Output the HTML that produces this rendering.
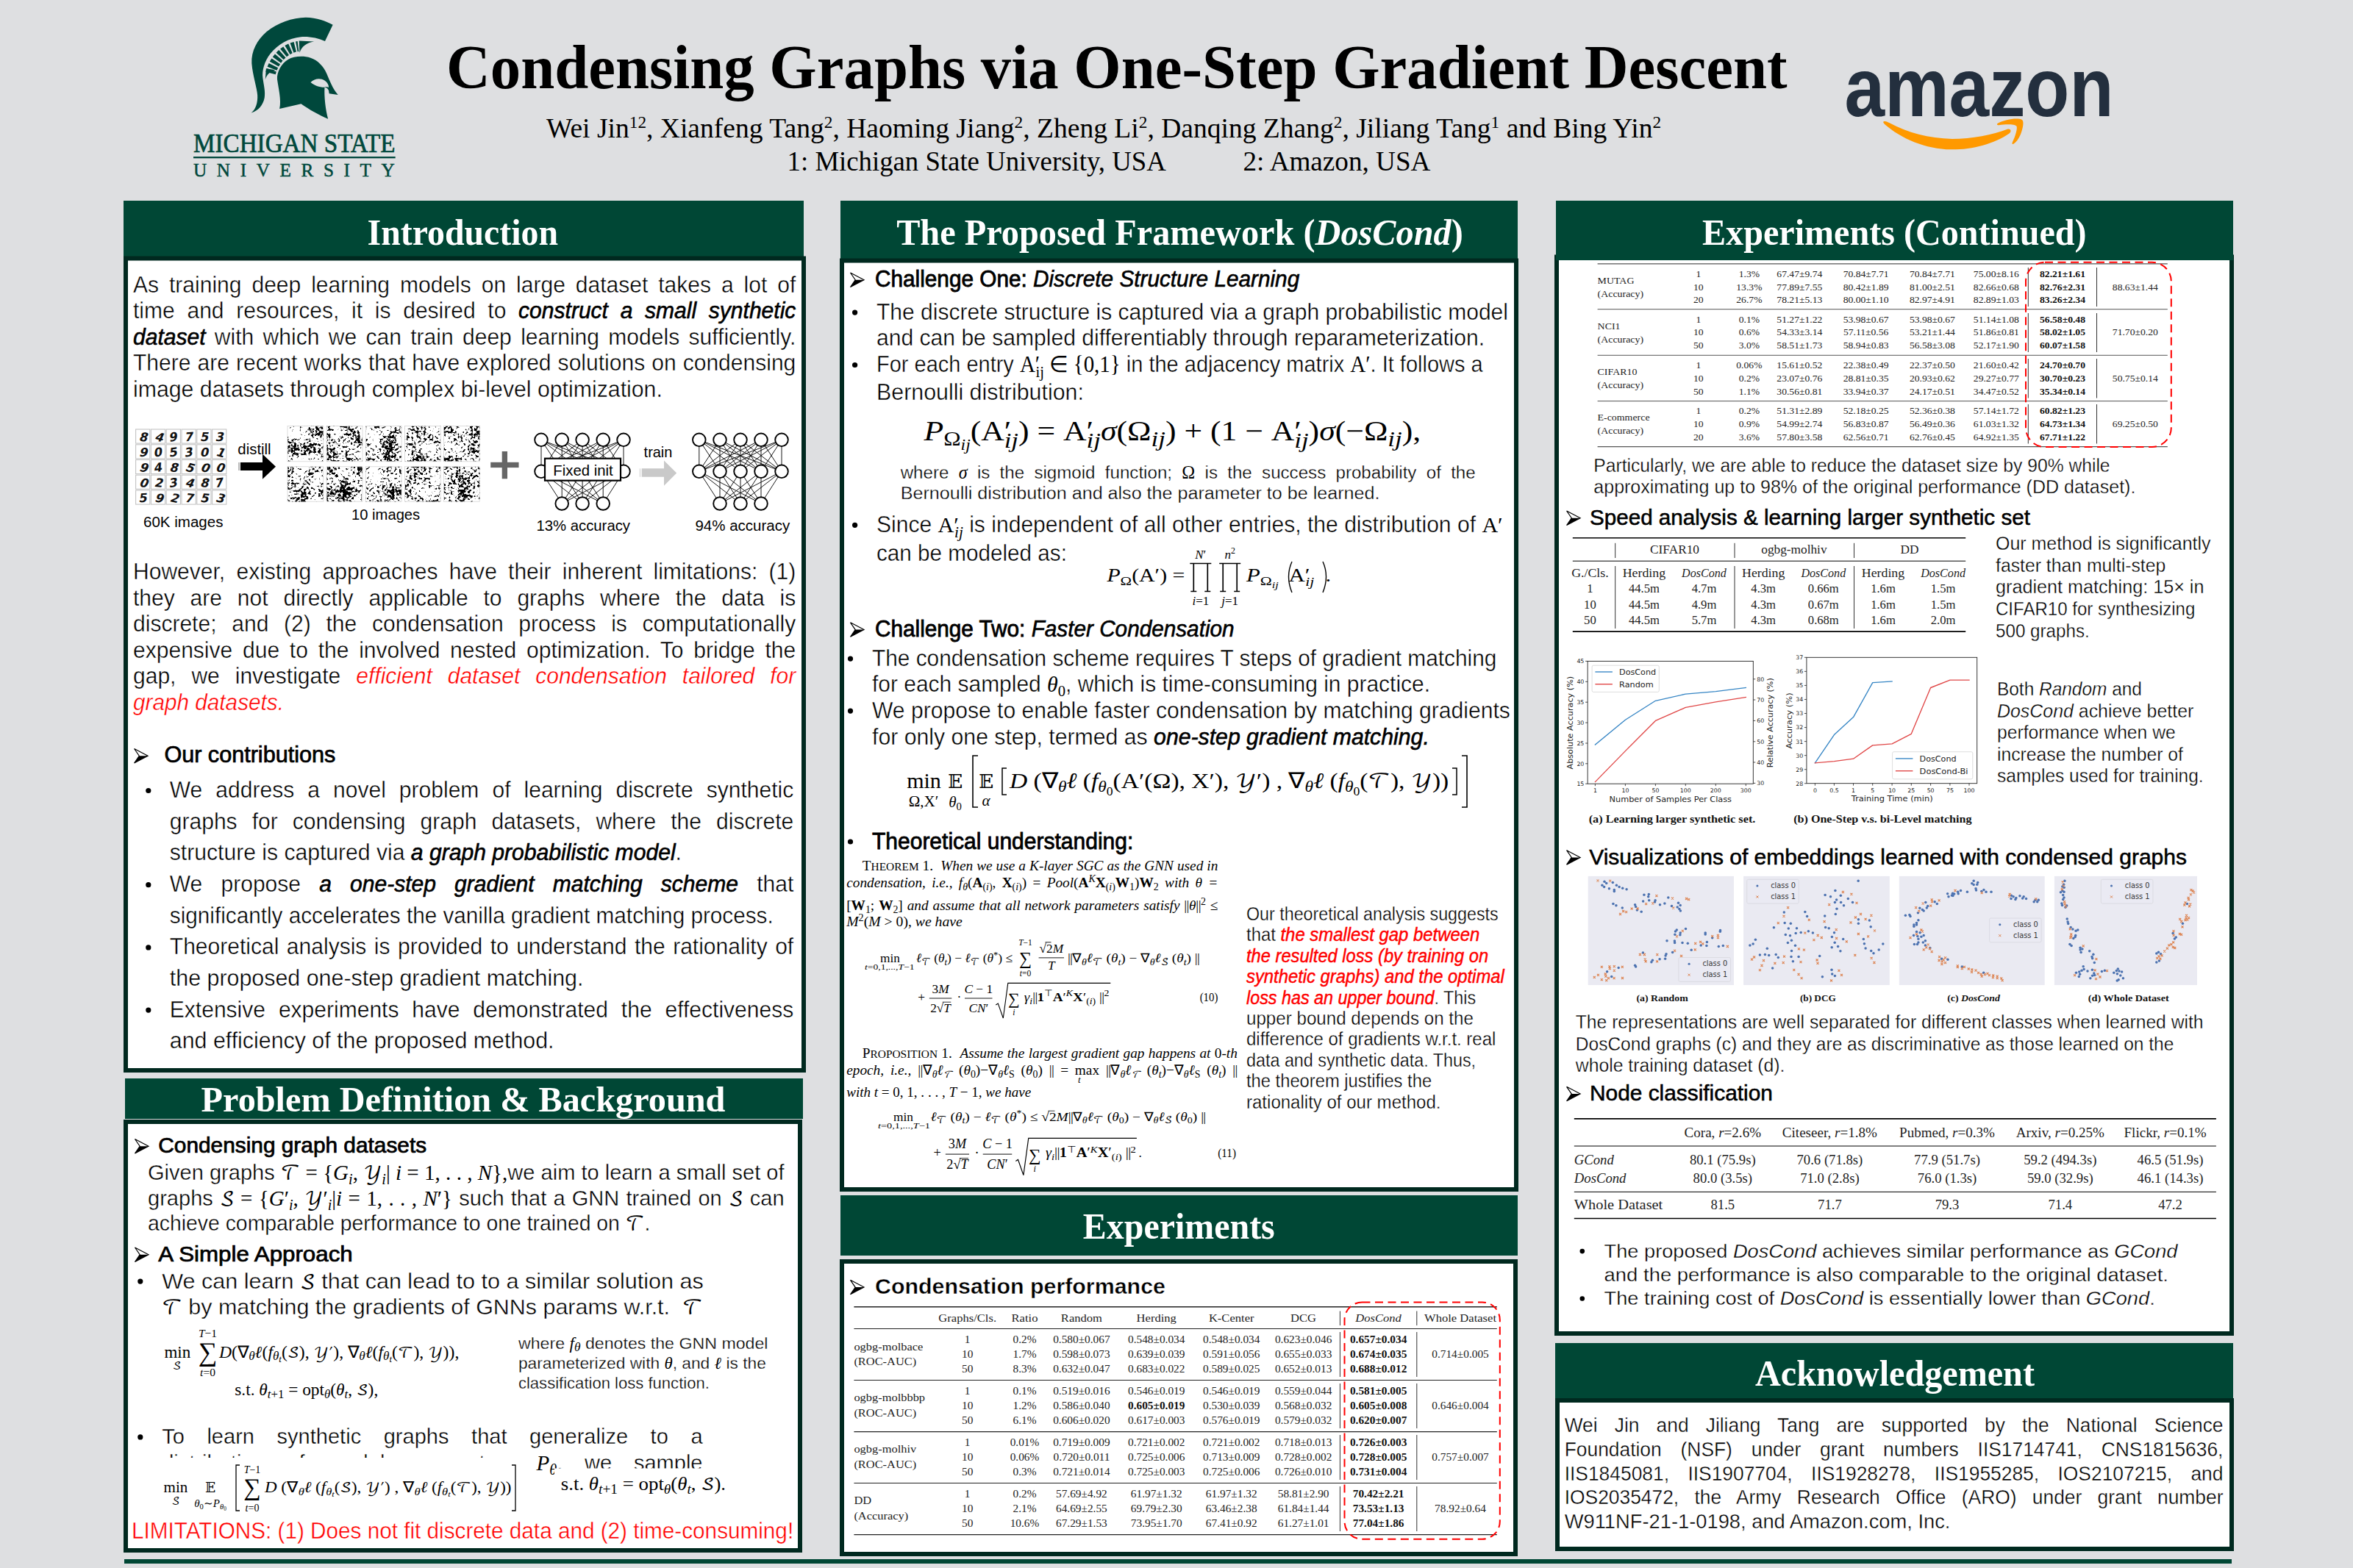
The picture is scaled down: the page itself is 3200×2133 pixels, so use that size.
<!DOCTYPE html>
<html lang="en"><head><meta charset="utf-8"><title>Condensing Graphs via One-Step Gradient Descent</title>
<style>html,body{margin:0;padding:0;background:#dedfe1}svg{display:block}text{white-space:pre}</style></head>
<body>
<svg width="3200" height="2133" viewBox="0 0 3200 2133">
<rect x="0" y="0" width="3200" height="2133" fill="#dedfe1" />
<rect x="168" y="273" width="925" height="76" fill="#004735" />
<rect x="168" y="348.5" width="928" height="1110.5" fill="#00291f" />
<rect x="174" y="354.5" width="916" height="1098.5" fill="#fff" />
<rect x="170" y="1467" width="922" height="55" fill="#004735" />
<rect x="168" y="1523" width="923" height="589" fill="#00291f" />
<rect x="174" y="1529" width="911" height="577" fill="#fff" />
<rect x="1143" y="273" width="921" height="79" fill="#004735" />
<rect x="1142" y="351.5" width="923" height="1269.5" fill="#00291f" />
<rect x="1148" y="357.5" width="911" height="1257.5" fill="#fff" />
<rect x="1143" y="1626" width="921" height="82" fill="#004735" />
<rect x="1142" y="1713" width="922" height="404" fill="#00291f" />
<rect x="1148" y="1719" width="910" height="392" fill="#fff" />
<rect x="2114" y="346.5" width="924" height="1470.5" fill="#00291f" />
<rect x="2120" y="352.5" width="912" height="1458.5" fill="#fff" />
<rect x="2116" y="273" width="921" height="81" fill="#004735" />
<rect x="2115" y="1827" width="922" height="75" fill="#004735" />
<rect x="2115" y="1902" width="923" height="208" fill="#00291f" />
<rect x="2121" y="1908" width="911" height="196" fill="#fff" />
<rect x="169" y="2121" width="2866" height="6" fill="#004735" />
<text transform="translate(607,119.5) scale(0.9684,1)" font-family="'Liberation Serif', serif" font-size="85.5" font-weight="bold" >Condensing Graphs via One-Step Gradient Descent</text>
<text transform="translate(743,187.4) scale(0.9758,1)" font-family="'Liberation Serif', serif" font-size="38.5" >Wei Jin<tspan baseline-shift="12.7" font-size="23.9">12</tspan>, Xianfeng Tang<tspan baseline-shift="12.7" font-size="23.9">2</tspan>, Haoming Jiang<tspan baseline-shift="12.7" font-size="23.9">2</tspan>, Zheng Li<tspan baseline-shift="12.7" font-size="23.9">2</tspan>, Danqing Zhang<tspan baseline-shift="12.7" font-size="23.9">2</tspan>, Jiliang Tang<tspan baseline-shift="12.7" font-size="23.9">1</tspan> and Bing Yin<tspan baseline-shift="12.7" font-size="23.9">2</tspan></text>
<text transform="translate(1070.6,231.7) scale(0.9552,1)" font-family="'Liberation Serif', serif" font-size="38.5" >1: Michigan State University, USA</text>
<text transform="translate(1690.5,231.7) scale(0.9653,1)" font-family="'Liberation Serif', serif" font-size="38.5" >2: Amazon, USA</text>
<text transform="translate(629.3,332.6) scale(0.9562,1)" font-family="'Liberation Serif', serif" font-size="50" text-anchor="middle" fill="#fff" font-weight="bold" >Introduction</text>
<text transform="translate(630,1512) scale(1.0057,1)" font-family="'Liberation Serif', serif" font-size="48" text-anchor="middle" fill="#fff" font-weight="bold" >Problem Definition &amp; Background</text>
<text transform="translate(1604.5,332.6) scale(0.9665,1)" font-family="'Liberation Serif', serif" font-size="50" text-anchor="middle" fill="#fff" font-weight="bold" >The Proposed Framework (<tspan font-style="italic">DosCond</tspan>)</text>
<text transform="translate(1603.3,1685) scale(0.9588,1)" font-family="'Liberation Serif', serif" font-size="50" text-anchor="middle" fill="#fff" font-weight="bold" >Experiments</text>
<text transform="translate(2576.3,332.6) scale(0.9625,1)" font-family="'Liberation Serif', serif" font-size="50" text-anchor="middle" fill="#fff" font-weight="bold" >Experiments (Continued)</text>
<text transform="translate(2577,1885.2) scale(0.9634,1)" font-family="'Liberation Serif', serif" font-size="50" text-anchor="middle" fill="#fff" font-weight="bold" >Acknowledgement</text>
<g transform="translate(240,0) scale(0.16584)" fill="#00483c"><path d="M613 925 C650 900 668 840 664 780 C660 720 625 620 617 520 C612 420 660 330 740 260 C830 185 950 145 1060 143 C1150 143 1230 175 1282 203 L1218 338 C1160 312 1090 298 1020 303 C920 312 830 365 770 440 C720 505 700 580 708 640 C716 700 730 750 722 800 C712 860 670 910 613 925 Z"/><path d="M772 600 C792 520 850 440 925 402 C950 390 975 383 998 380" fill="none" stroke="#00483c" stroke-width="84" stroke-dasharray="27 13"/><path d="M728 652 C740 610 770 585 812 574 L735 562 Z"/><path d="M1010 432 C1025 380 1070 350 1128 340 L1005 335 Z"/><path fill-rule="evenodd" d="M845 893 C862 820 835 720 826 650 C822 590 860 520 915 488 C960 462 1040 455 1100 475 C1160 495 1205 545 1230 600 C1255 660 1285 735 1325 778 L1252 768 C1250 740 1245 722 1215 716 C1210 790 1222 900 1243 975 C1170 945 1090 900 1022 852 Z M1100 675 C1130 645 1180 638 1215 660 C1240 678 1250 700 1248 718 C1240 712 1228 712 1212 716 C1170 716 1130 700 1100 675 Z"/></g>
<text transform="translate(263,207) scale(0.9089,1)" font-family="'Liberation Serif', serif" font-size="36.5" fill="#00483c" stroke="#00483c" stroke-width="0.7">MICHIGAN STATE</text>
<rect x="263" y="213" width="274.7" height="2.3" fill="#00483c" />
<text transform="translate(263,240) scale(0.9713,1)" font-family="'Liberation Serif', serif" font-size="26" fill="#00483c" letter-spacing="14" stroke="#00483c" stroke-width="0.5">UNIVERSITY</text>
<text transform="translate(2508.5,158.2) scale(0.8699,1)" font-family="'Liberation Sans', sans-serif" font-size="113" fill="#232f3e" font-weight="bold" >amazon</text>
<g transform="translate(2480,60) scale(0.17851)" fill="#ff9900"><path d="M458 590 C470 585 480 590 500 600 C640 675 800 720 980 722 C1130 722 1290 690 1400 648 C1425 640 1435 665 1415 680 C1300 760 1130 805 970 803 C780 800 590 720 465 610 C455 600 452 594 458 590 Z"/><path d="M1325 605 C1380 575 1470 560 1510 575 C1530 585 1520 640 1500 690 C1485 725 1465 750 1445 762 C1435 765 1435 755 1440 745 C1460 705 1480 640 1470 625 C1455 610 1390 610 1335 618 C1322 620 1318 610 1325 605 Z"/></g>
<text transform="translate(181,397.5) scale(0.9850,1)" word-spacing="5.67" font-family="'Liberation Sans', sans-serif" font-size="30.5" stroke="#fff" stroke-width="0.41">As training deep learning models on large dataset takes a lot of</text>
<text transform="translate(181,433) scale(0.9850,1)" word-spacing="8.46" font-family="'Liberation Sans', sans-serif" font-size="30.5" stroke="#fff" stroke-width="0.41">time and resources, it is desired to <tspan font-style="italic" stroke="#000" stroke-width="0.6">construct a small synthetic</tspan></text>
<text transform="translate(181,468.5) scale(0.9850,1)" word-spacing="4.05" font-family="'Liberation Sans', sans-serif" font-size="30.5" stroke="#fff" stroke-width="0.41"><tspan font-style="italic" stroke="#000" stroke-width="0.6">dataset</tspan> with which we can train deep learning models sufficiently.</text>
<text transform="translate(181,504) scale(0.9850,1)" word-spacing="0.72" font-family="'Liberation Sans', sans-serif" font-size="30.5" stroke="#fff" stroke-width="0.41">There are recent works that have explored solutions on condensing</text>
<text transform="translate(181,539.5) scale(0.9923,1)" font-family="'Liberation Sans', sans-serif" font-size="30.5" stroke="#fff" stroke-width="0.41">image datasets through complex bi-level optimization.</text>
<text transform="translate(181,788) scale(0.9850,1)" word-spacing="6.99" font-family="'Liberation Sans', sans-serif" font-size="30.5" stroke="#fff" stroke-width="0.41">However, existing approaches have their inherent limitations: (1)</text>
<text transform="translate(181,823.5) scale(0.9850,1)" word-spacing="12.68" font-family="'Liberation Sans', sans-serif" font-size="30.5" stroke="#fff" stroke-width="0.41">they are not directly applicable to graphs where the data is</text>
<text transform="translate(181,859) scale(0.9850,1)" word-spacing="12.55" font-family="'Liberation Sans', sans-serif" font-size="30.5" stroke="#fff" stroke-width="0.41">discrete; and (2) the condensation process is computationally</text>
<text transform="translate(181,894.5) scale(0.9850,1)" word-spacing="5.48" font-family="'Liberation Sans', sans-serif" font-size="30.5" stroke="#fff" stroke-width="0.41">expensive due to the involved nested optimization. To bridge the</text>
<text transform="translate(181,930) scale(0.9850,1)" word-spacing="12.78" font-family="'Liberation Sans', sans-serif" font-size="30.5" stroke="#fff" stroke-width="0.41">gap, we investigate <tspan fill="#ff0000" font-style="italic">efficient dataset condensation tailored for</tspan></text>
<text transform="translate(181,965.5) scale(0.9750,1)" font-family="'Liberation Sans', sans-serif" font-size="30.5" stroke="#fff" stroke-width="0.41"><tspan fill="#ff0000" font-style="italic">graph datasets.</tspan></text>
<path d="M182.6 1018.5 L201.1 1028.25 L182.6 1038 L189.26 1028.25 Z" fill="#fff" stroke="#000" stroke-width="1.2" stroke-linejoin="miter"/>
<path d="M189.26 1028.25 L201.1 1028.25 L182.6 1038 Z" fill="#000"/>
<text transform="translate(223.4,1037) scale(1.0032,1)" font-family="'Liberation Sans', sans-serif" font-size="30.5" stroke="#000" stroke-width="0.75">Our contributions</text>
<circle cx="201.8" cy="1075.5" r="3.6" fill="#000"/>
<text transform="translate(230.8,1085) scale(0.9850,1)" word-spacing="9.85" font-family="'Liberation Sans', sans-serif" font-size="30.5" stroke="#fff" stroke-width="0.41">We address a novel problem of learning discrete synthetic</text>
<text transform="translate(230.8,1127.7) scale(0.9850,1)" word-spacing="11.90" font-family="'Liberation Sans', sans-serif" font-size="30.5" stroke="#fff" stroke-width="0.41">graphs for condensing graph datasets, where the discrete</text>
<text transform="translate(230.8,1170.4) scale(0.9876,1)" font-family="'Liberation Sans', sans-serif" font-size="30.5" stroke="#fff" stroke-width="0.41">structure is captured via <tspan font-style="italic" stroke="#000" stroke-width="0.6">a graph probabilistic model</tspan>.</text>
<circle cx="201.8" cy="1203.7" r="3.6" fill="#000"/>
<text transform="translate(230.8,1213.2) scale(0.9850,1)" word-spacing="17.07" font-family="'Liberation Sans', sans-serif" font-size="30.5" stroke="#fff" stroke-width="0.41">We propose <tspan font-style="italic" stroke="#000" stroke-width="0.6">a one-step gradient matching scheme</tspan> that</text>
<text transform="translate(230.8,1255.8) scale(0.9744,1)" font-family="'Liberation Sans', sans-serif" font-size="30.5" stroke="#fff" stroke-width="0.41">significantly accelerates the vanilla gradient matching process.</text>
<circle cx="201.8" cy="1288.9" r="3.6" fill="#000"/>
<text transform="translate(230.8,1298.4) scale(0.9850,1)" word-spacing="2.15" font-family="'Liberation Sans', sans-serif" font-size="30.5" stroke="#fff" stroke-width="0.41">Theoretical analysis is provided to understand the rationality of</text>
<text transform="translate(230.8,1341) scale(0.9971,1)" font-family="'Liberation Sans', sans-serif" font-size="30.5" stroke="#fff" stroke-width="0.41">the proposed one-step gradient matching.</text>
<circle cx="201.8" cy="1374.1" r="3.6" fill="#000"/>
<text transform="translate(230.8,1383.6) scale(0.9850,1)" word-spacing="9.66" font-family="'Liberation Sans', sans-serif" font-size="30.5" stroke="#fff" stroke-width="0.41">Extensive experiments have demonstrated the effectiveness</text>
<text transform="translate(230.8,1426) scale(0.9960,1)" font-family="'Liberation Sans', sans-serif" font-size="30.5" stroke="#fff" stroke-width="0.41">and efficiency of the proposed method.</text>
<path d="M183.5 1549.5 L202 1559.25 L183.5 1569 L190.16 1559.25 Z" fill="#fff" stroke="#000" stroke-width="1.2" stroke-linejoin="miter"/>
<path d="M190.16 1559.25 L202 1559.25 L183.5 1569 Z" fill="#000"/>
<text transform="translate(215.3,1568.4) scale(1.0116,1)" font-family="'Liberation Sans', sans-serif" font-size="29.5" stroke="#000" stroke-width="0.75">Condensing graph datasets</text>
<text transform="translate(201,1605) scale(0.9850,1)" word-spacing="0.02" font-family="'Liberation Sans', sans-serif" font-size="29.5" stroke="#fff" stroke-width="0.40">Given graphs <tspan font-family="'DejaVu Math TeX Gyre', 'DejaVu Serif', serif" font-size="88%" stroke="none">𝒯</tspan><tspan font-family="'Liberation Serif', serif" stroke="none"> = {</tspan><tspan font-family="'Liberation Serif', serif" font-style="italic" stroke="none">G</tspan><tspan baseline-shift="-5.8" font-size="20.3"><tspan font-family="'Liberation Serif', serif" font-style="italic" stroke="none">i</tspan></tspan><tspan font-family="'Liberation Serif', serif" stroke="none">, </tspan><tspan font-family="'DejaVu Math TeX Gyre', 'DejaVu Serif', serif" font-size="88%" stroke="none">𝒴</tspan><tspan baseline-shift="-5.8" font-size="20.3"><tspan font-family="'Liberation Serif', serif" font-style="italic" stroke="none">i</tspan></tspan><tspan font-family="'Liberation Serif', serif" stroke="none">| </tspan><tspan font-family="'Liberation Serif', serif" font-style="italic" stroke="none">i</tspan><tspan font-family="'Liberation Serif', serif" stroke="none"> = 1, . . , </tspan><tspan font-family="'Liberation Serif', serif" font-style="italic" stroke="none">N</tspan><tspan font-family="'Liberation Serif', serif" stroke="none">},</tspan>we aim to learn a small set of</text>
<text transform="translate(201,1639.5) scale(0.9850,1)" word-spacing="1.13" font-family="'Liberation Sans', sans-serif" font-size="29.5" stroke="#fff" stroke-width="0.40">graphs <tspan font-family="'DejaVu Math TeX Gyre', 'DejaVu Serif', serif" font-size="88%" stroke="none">𝒮</tspan><tspan font-family="'Liberation Serif', serif" stroke="none"> = {</tspan><tspan font-family="'Liberation Serif', serif" font-style="italic" stroke="none">G</tspan><tspan font-family="'Liberation Serif', serif" stroke="none">′</tspan><tspan baseline-shift="-5.8" font-size="20.3"><tspan font-family="'Liberation Serif', serif" font-style="italic" stroke="none">i</tspan></tspan><tspan font-family="'Liberation Serif', serif" stroke="none">, </tspan><tspan font-family="'DejaVu Math TeX Gyre', 'DejaVu Serif', serif" font-size="88%" stroke="none">𝒴</tspan><tspan font-family="'Liberation Serif', serif" stroke="none">′</tspan><tspan baseline-shift="-5.8" font-size="20.3"><tspan font-family="'Liberation Serif', serif" font-style="italic" stroke="none">i</tspan></tspan><tspan font-family="'Liberation Serif', serif" stroke="none">|</tspan><tspan font-family="'Liberation Serif', serif" font-style="italic" stroke="none">i</tspan><tspan font-family="'Liberation Serif', serif" stroke="none"> = 1, . . , </tspan><tspan font-family="'Liberation Serif', serif" font-style="italic" stroke="none">N</tspan><tspan font-family="'Liberation Serif', serif" stroke="none">′}</tspan> such that a GNN trained on <tspan font-family="'DejaVu Math TeX Gyre', 'DejaVu Serif', serif" font-size="88%" stroke="none">𝒮</tspan> can</text>
<text transform="translate(201,1673.5) scale(0.9619,1)" font-family="'Liberation Sans', sans-serif" font-size="29.5" stroke="#fff" stroke-width="0.40">achieve comparable performance to one trained on <tspan font-family="'DejaVu Math TeX Gyre', 'DejaVu Serif', serif" font-size="88%" stroke="none">𝒯</tspan>.</text>
<path d="M183.5 1697 L202 1706.75 L183.5 1716.5 L190.16 1706.75 Z" fill="#fff" stroke="#000" stroke-width="1.2" stroke-linejoin="miter"/>
<path d="M190.16 1706.75 L202 1706.75 L183.5 1716.5 Z" fill="#000"/>
<text transform="translate(215.3,1716) scale(1.0611,1)" font-family="'Liberation Sans', sans-serif" font-size="29.5" stroke="#000" stroke-width="0.75">A Simple Approach</text>
<circle cx="190.8" cy="1743.1" r="3.6" fill="#000"/>
<text transform="translate(220.2,1752.6) scale(1.0360,1)" font-family="'Liberation Sans', sans-serif" font-size="29.5" stroke="#fff" stroke-width="0.40">We can learn <tspan font-family="'DejaVu Math TeX Gyre', 'DejaVu Serif', serif" font-size="88%" stroke="none">𝒮</tspan> that can lead to to a similar solution as</text>
<text transform="translate(220.2,1788) scale(1.0322,1)" font-family="'Liberation Sans', sans-serif" font-size="29.5" stroke="#fff" stroke-width="0.40"><tspan font-family="'DejaVu Math TeX Gyre', 'DejaVu Serif', serif" font-size="88%" stroke="none">𝒯</tspan> by matching the gradients of GNNs params w.r.t.  <tspan font-family="'DejaVu Math TeX Gyre', 'DejaVu Serif', serif" font-size="88%" stroke="none">𝒯</tspan></text>
<text transform="translate(223.4,1846.5)" font-family="'Liberation Serif', serif" font-size="23" >min</text>
<text transform="translate(240.5,1862.5)" font-family="'Liberation Serif', serif" font-size="17" text-anchor="middle" ><tspan font-family="'DejaVu Math TeX Gyre', 'DejaVu Serif', serif" font-size="88%" stroke="none">𝒮</tspan></text>
<text transform="translate(282.5,1851)" font-family="'Liberation Serif', serif" font-size="36" text-anchor="middle" transform-origin="0 0">∑</text>
<text transform="translate(282.5,1819)" font-family="'Liberation Serif', serif" font-size="15.5" text-anchor="middle" ><tspan font-family="'Liberation Serif', serif" font-style="italic" stroke="none">T</tspan>−1</text>
<text transform="translate(282.5,1872)" font-family="'Liberation Serif', serif" font-size="15.5" text-anchor="middle" ><tspan font-family="'Liberation Serif', serif" font-style="italic" stroke="none">t</tspan>=0</text>
<text transform="translate(298,1846.5) scale(1.0300,1)" font-family="'Liberation Serif', serif" font-size="23" ><tspan font-family="'Liberation Serif', serif" font-style="italic" stroke="none">D</tspan><tspan font-family="'Liberation Serif', serif" stroke="none">(</tspan><tspan font-family="'Liberation Serif', serif" stroke="none">∇</tspan><tspan baseline-shift="-4.1" font-size="16.6"><tspan font-family="'Liberation Serif', serif" font-style="italic" stroke="none">θ</tspan></tspan><tspan font-family="'Liberation Serif', serif" font-style="italic" stroke="none">ℓ</tspan><tspan font-family="'Liberation Serif', serif" stroke="none">(</tspan><tspan font-family="'Liberation Serif', serif" font-style="italic" stroke="none">f</tspan><tspan baseline-shift="-4.1" font-size="16.6"><tspan font-family="'Liberation Serif', serif" font-style="italic" stroke="none">θ</tspan><tspan baseline-shift="-2.5" font-size="12.4"><tspan font-family="'Liberation Serif', serif" font-style="italic" stroke="none">t</tspan></tspan></tspan><tspan font-family="'Liberation Serif', serif" stroke="none">(</tspan><tspan font-family="'DejaVu Math TeX Gyre', 'DejaVu Serif', serif" font-size="88%" stroke="none">𝒮</tspan><tspan font-family="'Liberation Serif', serif" stroke="none">), </tspan><tspan font-family="'DejaVu Math TeX Gyre', 'DejaVu Serif', serif" font-size="88%" stroke="none">𝒴′</tspan><tspan font-family="'Liberation Serif', serif" stroke="none">)</tspan><tspan font-family="'Liberation Serif', serif" stroke="none">, </tspan><tspan font-family="'Liberation Serif', serif" stroke="none">∇</tspan><tspan baseline-shift="-4.1" font-size="16.6"><tspan font-family="'Liberation Serif', serif" font-style="italic" stroke="none">θ</tspan></tspan><tspan font-family="'Liberation Serif', serif" font-style="italic" stroke="none">ℓ</tspan><tspan font-family="'Liberation Serif', serif" stroke="none">(</tspan><tspan font-family="'Liberation Serif', serif" font-style="italic" stroke="none">f</tspan><tspan baseline-shift="-4.1" font-size="16.6"><tspan font-family="'Liberation Serif', serif" font-style="italic" stroke="none">θ</tspan><tspan baseline-shift="-2.5" font-size="12.4"><tspan font-family="'Liberation Serif', serif" font-style="italic" stroke="none">t</tspan></tspan></tspan><tspan font-family="'Liberation Serif', serif" stroke="none">(</tspan><tspan font-family="'DejaVu Math TeX Gyre', 'DejaVu Serif', serif" font-size="88%" stroke="none">𝒯</tspan><tspan font-family="'Liberation Serif', serif" stroke="none">), </tspan><tspan font-family="'DejaVu Math TeX Gyre', 'DejaVu Serif', serif" font-size="88%" stroke="none">𝒴</tspan><tspan font-family="'Liberation Serif', serif" stroke="none">)</tspan><tspan font-family="'Liberation Serif', serif" stroke="none">),</tspan></text>
<text transform="translate(319.3,1898.3) scale(1.0141,1)" font-family="'Liberation Serif', serif" font-size="23" >s.t. <tspan font-family="'Liberation Serif', serif" font-style="italic" stroke="none">θ</tspan><tspan baseline-shift="-4.1" font-size="16.6"><tspan font-family="'Liberation Serif', serif" font-style="italic" stroke="none">t</tspan>+1</tspan> = opt<tspan baseline-shift="-4.1" font-size="16.6"><tspan font-family="'Liberation Serif', serif" font-style="italic" stroke="none">θ</tspan></tspan>(<tspan font-family="'Liberation Serif', serif" font-style="italic" stroke="none">θ</tspan><tspan baseline-shift="-4.1" font-size="16.6"><tspan font-family="'Liberation Serif', serif" font-style="italic" stroke="none">t</tspan></tspan>, <tspan font-family="'DejaVu Math TeX Gyre', 'DejaVu Serif', serif" font-size="88%" stroke="none">𝒮</tspan>),</text>
<text transform="translate(704.9,1835) scale(1.0211,1)" font-family="'Liberation Sans', sans-serif" font-size="22.7" stroke="#fff" stroke-width="0.31">where <tspan font-family="'Liberation Serif', serif" font-style="italic" stroke="none">f</tspan><tspan baseline-shift="-3.4" font-size="17.0"><tspan font-family="'Liberation Serif', serif" font-style="italic" stroke="none">θ</tspan></tspan> denotes the GNN model</text>
<text transform="translate(704.9,1862) scale(1.0033,1)" font-family="'Liberation Sans', sans-serif" font-size="22.7" stroke="#fff" stroke-width="0.31">parameterized with <tspan font-family="'Liberation Serif', serif" font-style="italic" stroke="none">θ</tspan>, and <tspan font-family="'Liberation Serif', serif" font-style="italic" stroke="none">ℓ</tspan> is the</text>
<text transform="translate(704.9,1889) scale(0.9725,1)" font-family="'Liberation Sans', sans-serif" font-size="22.7" stroke="#fff" stroke-width="0.31">classification loss function.</text>
<circle cx="190.8" cy="1954.9" r="3.6" fill="#000"/>
<text transform="translate(220.2,1964.4) scale(0.9850,1)" word-spacing="22.82" font-family="'Liberation Sans', sans-serif" font-size="29.5" stroke="#fff" stroke-width="0.40">To learn synthetic graphs that generalize to a</text>
<text transform="translate(220.2,2000) scale(0.9850,1)" word-spacing="21.94" font-family="'Liberation Sans', sans-serif" font-size="29.5" stroke="#fff" stroke-width="0.40">distribution of model parameters <tspan font-family="'Liberation Serif', serif" font-style="italic" stroke="none">P</tspan><tspan baseline-shift="-5.9" font-size="20.6"><tspan font-family="'Liberation Serif', serif" font-style="italic" stroke="none">θ</tspan></tspan>, we sample</text>
<rect x="176" y="1983" width="541" height="80" fill="#fff" />
<rect x="754" y="1997.4" width="330" height="60" fill="#fff" />
<text transform="translate(222.6,2030)" font-family="'Liberation Serif', serif" font-size="21" >min</text>
<text transform="translate(239,2046.5)" font-family="'Liberation Serif', serif" font-size="16" text-anchor="middle" ><tspan font-family="'DejaVu Math TeX Gyre', 'DejaVu Serif', serif" font-size="88%" stroke="none">𝒮</tspan></text>
<text transform="translate(286,2030)" font-family="'Liberation Serif', serif" font-size="21" text-anchor="middle" ><tspan font-family="'DejaVu Math TeX Gyre', 'DejaVu Serif', serif" font-size="88%" stroke="none">𝔼</tspan></text>
<text transform="translate(286,2050)" font-family="'Liberation Serif', serif" font-size="15" text-anchor="middle" ><tspan font-family="'Liberation Serif', serif" font-style="italic" stroke="none">θ</tspan><tspan baseline-shift="-3.0" font-size="10.5">0</tspan>∼<tspan font-family="'Liberation Serif', serif" font-style="italic" stroke="none">P</tspan><tspan baseline-shift="-3.0" font-size="10.5"><tspan font-family="'Liberation Serif', serif" font-style="italic" stroke="none">θ</tspan><tspan baseline-shift="-2.1" font-size="7.3">0</tspan></tspan></text>
<path d="M326 1993 h-5 v62 h5 M696 1993 h5 v62 h-5" fill="none" stroke="#000" stroke-width="1.3"/>
<text transform="translate(343,2034)" font-family="'Liberation Serif', serif" font-size="33" text-anchor="middle" >∑</text>
<text transform="translate(343,2003.5)" font-family="'Liberation Serif', serif" font-size="14" text-anchor="middle" ><tspan font-family="'Liberation Serif', serif" font-style="italic" stroke="none">T</tspan>−1</text>
<text transform="translate(343,2055.5)" font-family="'Liberation Serif', serif" font-size="14" text-anchor="middle" ><tspan font-family="'Liberation Serif', serif" font-style="italic" stroke="none">t</tspan>=0</text>
<text transform="translate(360,2030) scale(1.0947,1)" font-family="'Liberation Serif', serif" font-size="21" ><tspan font-family="'Liberation Serif', serif" font-style="italic" stroke="none">D</tspan><tspan font-family="'Liberation Serif', serif" stroke="none"> (</tspan><tspan font-family="'Liberation Serif', serif" stroke="none">∇</tspan><tspan baseline-shift="-3.8" font-size="15.1"><tspan font-family="'Liberation Serif', serif" font-style="italic" stroke="none">θ</tspan></tspan><tspan font-family="'Liberation Serif', serif" font-style="italic" stroke="none">ℓ</tspan><tspan font-family="'Liberation Serif', serif" stroke="none"> (</tspan><tspan font-family="'Liberation Serif', serif" font-style="italic" stroke="none">f</tspan><tspan baseline-shift="-3.8" font-size="15.1"><tspan font-family="'Liberation Serif', serif" font-style="italic" stroke="none">θ</tspan><tspan baseline-shift="-2.3" font-size="11.3"><tspan font-family="'Liberation Serif', serif" font-style="italic" stroke="none">t</tspan></tspan></tspan><tspan font-family="'Liberation Serif', serif" stroke="none">(</tspan><tspan font-family="'DejaVu Math TeX Gyre', 'DejaVu Serif', serif" font-size="88%" stroke="none">𝒮</tspan><tspan font-family="'Liberation Serif', serif" stroke="none">), </tspan><tspan font-family="'DejaVu Math TeX Gyre', 'DejaVu Serif', serif" font-size="88%" stroke="none">𝒴′</tspan><tspan font-family="'Liberation Serif', serif" stroke="none">)</tspan><tspan font-family="'Liberation Serif', serif" stroke="none"> , </tspan><tspan font-family="'Liberation Serif', serif" stroke="none">∇</tspan><tspan baseline-shift="-3.8" font-size="15.1"><tspan font-family="'Liberation Serif', serif" font-style="italic" stroke="none">θ</tspan></tspan><tspan font-family="'Liberation Serif', serif" font-style="italic" stroke="none">ℓ</tspan><tspan font-family="'Liberation Serif', serif" stroke="none"> (</tspan><tspan font-family="'Liberation Serif', serif" font-style="italic" stroke="none">f</tspan><tspan baseline-shift="-3.8" font-size="15.1"><tspan font-family="'Liberation Serif', serif" font-style="italic" stroke="none">θ</tspan><tspan baseline-shift="-2.3" font-size="11.3"><tspan font-family="'Liberation Serif', serif" font-style="italic" stroke="none">t</tspan></tspan></tspan><tspan font-family="'Liberation Serif', serif" stroke="none">(</tspan><tspan font-family="'DejaVu Math TeX Gyre', 'DejaVu Serif', serif" font-size="88%" stroke="none">𝒯</tspan><tspan font-family="'Liberation Serif', serif" stroke="none">), </tspan><tspan font-family="'DejaVu Math TeX Gyre', 'DejaVu Serif', serif" font-size="88%" stroke="none">𝒴</tspan><tspan font-family="'Liberation Serif', serif" stroke="none">)</tspan><tspan font-family="'Liberation Serif', serif" stroke="none">)</tspan></text>
<text transform="translate(762.8,2026.8) scale(1.0331,1)" font-family="'Liberation Serif', serif" font-size="26" >s.t. <tspan font-family="'Liberation Serif', serif" font-style="italic" stroke="none">θ</tspan><tspan baseline-shift="-4.7" font-size="18.7"><tspan font-family="'Liberation Serif', serif" font-style="italic" stroke="none">t</tspan>+1</tspan> = opt<tspan baseline-shift="-4.7" font-size="18.7"><tspan font-family="'Liberation Serif', serif" font-style="italic" stroke="none">θ</tspan></tspan>(<tspan font-family="'Liberation Serif', serif" font-style="italic" stroke="none">θ</tspan><tspan baseline-shift="-4.7" font-size="18.7"><tspan font-family="'Liberation Serif', serif" font-style="italic" stroke="none">t</tspan></tspan>, <tspan font-family="'DejaVu Math TeX Gyre', 'DejaVu Serif', serif" font-size="88%" stroke="none">𝒮</tspan>).</text>
<text transform="translate(179,2093) scale(0.9431,1)" font-family="'Liberation Sans', sans-serif" font-size="31.5" fill="#ff0000" stroke="#fff" stroke-width="0.43">LIMITATIONS: (1) Does not fit discrete data and (2) time-consuming!</text>
<path d="M1156.5 371 L1175 380.75 L1156.5 390.5 L1163.16 380.75 Z" fill="#fff" stroke="#000" stroke-width="1.2" stroke-linejoin="miter"/>
<path d="M1163.16 380.75 L1175 380.75 L1156.5 390.5 Z" fill="#000"/>
<text transform="translate(1190,389.7) scale(0.9757,1)" font-family="'Liberation Sans', sans-serif" font-size="30.5" stroke="#fff" stroke-width="0.41"><tspan stroke="#000" stroke-width="0.8">Challenge One: </tspan><tspan font-style="italic" stroke="#000" stroke-width="0.6">Discrete Structure Learning</tspan></text>
<circle cx="1162.6" cy="425.1" r="3.6" fill="#000"/>
<text transform="translate(1192,434.6) scale(0.9841,1)" font-family="'Liberation Sans', sans-serif" font-size="30.5" stroke="#fff" stroke-width="0.41">The discrete structure is captured via a graph probabilistic model</text>
<text transform="translate(1192,469.7) scale(0.9865,1)" font-family="'Liberation Sans', sans-serif" font-size="30.5" stroke="#fff" stroke-width="0.41">and can be sampled differentiably through reparameterization.</text>
<circle cx="1162.6" cy="496.5" r="3.6" fill="#000"/>
<text transform="translate(1192,506) scale(0.9503,1)" font-family="'Liberation Sans', sans-serif" font-size="30.5" stroke="#fff" stroke-width="0.41">For each entry <tspan font-family="'Liberation Serif', serif" stroke="none">A′</tspan><tspan dx="-6.0" baseline-shift="-7.5" font-size="21.6"><tspan font-family="'Liberation Serif', serif" stroke="none">ij</tspan></tspan><tspan font-family="'Liberation Serif', serif" stroke="none"> ∈ {0,1}</tspan> in the adjacency matrix <tspan font-family="'Liberation Serif', serif" stroke="none">A′</tspan>. It follows a</text>
<text transform="translate(1192,544.4) scale(0.9960,1)" font-family="'Liberation Sans', sans-serif" font-size="30.5" stroke="#fff" stroke-width="0.41">Bernoulli distribution:</text>
<text transform="translate(1256.5,598.6) scale(1.1495,1)" font-family="'Liberation Serif', serif" font-size="38" ><tspan font-family="'Liberation Serif', serif" font-style="italic" stroke="none">P</tspan><tspan baseline-shift="-7.6" font-size="27.4"><tspan font-family="'Liberation Serif', serif" stroke="none">Ω</tspan><tspan baseline-shift="-5.5" font-size="20.5"><tspan font-family="'Liberation Serif', serif" font-style="italic" stroke="none">ij</tspan></tspan></tspan><tspan font-family="'Liberation Serif', serif" stroke="none">(</tspan><tspan font-family="'Liberation Serif', serif" stroke="none">A′</tspan><tspan dx="-8.4" baseline-shift="-10.3" font-size="30.4"><tspan font-family="'Liberation Serif', serif" font-style="italic" stroke="none">ij</tspan></tspan><tspan font-family="'Liberation Serif', serif" stroke="none">) = </tspan><tspan font-family="'Liberation Serif', serif" stroke="none">A′</tspan><tspan dx="-8.4" baseline-shift="-10.3" font-size="30.4"><tspan font-family="'Liberation Serif', serif" font-style="italic" stroke="none">ij</tspan></tspan><tspan font-family="'Liberation Serif', serif" font-style="italic" stroke="none">σ</tspan><tspan font-family="'Liberation Serif', serif" stroke="none">(</tspan><tspan font-family="'Liberation Serif', serif" stroke="none">Ω</tspan><tspan baseline-shift="-8.4" font-size="30.4"><tspan font-family="'Liberation Serif', serif" font-style="italic" stroke="none">ij</tspan></tspan><tspan font-family="'Liberation Serif', serif" stroke="none">) + (1 − </tspan><tspan font-family="'Liberation Serif', serif" stroke="none">A′</tspan><tspan dx="-8.4" baseline-shift="-10.3" font-size="30.4"><tspan font-family="'Liberation Serif', serif" font-style="italic" stroke="none">ij</tspan></tspan><tspan font-family="'Liberation Serif', serif" stroke="none">)</tspan><tspan font-family="'Liberation Serif', serif" font-style="italic" stroke="none">σ</tspan><tspan font-family="'Liberation Serif', serif" stroke="none">(−</tspan><tspan font-family="'Liberation Serif', serif" stroke="none">Ω</tspan><tspan baseline-shift="-8.4" font-size="30.4"><tspan font-family="'Liberation Serif', serif" font-style="italic" stroke="none">ij</tspan></tspan><tspan font-family="'Liberation Serif', serif" stroke="none">),</tspan></text>
<text transform="translate(1224.7,650.5) scale(0.9850,1)" word-spacing="6.71" font-family="'Liberation Sans', sans-serif" font-size="24.5" stroke="#fff" stroke-width="0.33">where <tspan font-family="'Liberation Serif', serif" font-style="italic" stroke="none">σ</tspan> is the sigmoid function; <tspan font-family="'Liberation Serif', serif" stroke="none">Ω</tspan> is the success probability of the</text>
<text transform="translate(1224.7,679) scale(1.0251,1)" font-family="'Liberation Sans', sans-serif" font-size="24.5" stroke="#fff" stroke-width="0.33">Bernoulli distribution and also the parameter to be learned.</text>
<circle cx="1162.6" cy="714.3" r="3.6" fill="#000"/>
<text transform="translate(1192,723.8) scale(0.9866,1)" font-family="'Liberation Sans', sans-serif" font-size="30.5" stroke="#fff" stroke-width="0.41">Since <tspan font-family="'Liberation Serif', serif" stroke="none">A′</tspan><tspan dx="-6.0" baseline-shift="-7.5" font-size="21.6"><tspan font-family="'Liberation Serif', serif" font-style="italic" stroke="none">ij</tspan></tspan> is independent of all other entries, the distribution of <tspan font-family="'Liberation Serif', serif" stroke="none">A′</tspan></text>
<text transform="translate(1192,762.8) scale(0.9729,1)" font-family="'Liberation Sans', sans-serif" font-size="30.5" stroke="#fff" stroke-width="0.41">can be modeled as:</text>
<text transform="translate(1505.4,791) scale(1.1933,1)" font-family="'Liberation Serif', serif" font-size="25" ><tspan font-family="'Liberation Serif', serif" font-style="italic" stroke="none">P</tspan><tspan baseline-shift="-5.0" font-size="17.5"><tspan font-family="'Liberation Serif', serif" stroke="none">Ω</tspan></tspan><tspan font-family="'Liberation Serif', serif" stroke="none">(A′) =</tspan></text>
<path d="M1618.3 766.5 H1647.3 M1623.3 766.5 V804.5 M1642.3 766.5 V804.5 M1619.3 804.5 H1627.3 M1638.3 804.5 H1646.3" stroke="#000" stroke-width="1.7" fill="none"/>
<text transform="translate(1632.8,759.5)" font-family="'Liberation Serif', serif" font-size="17" text-anchor="middle" ><tspan font-family="'Liberation Serif', serif" font-style="italic" stroke="none">N</tspan>′</text>
<text transform="translate(1632.8,823)" font-family="'Liberation Serif', serif" font-size="17" text-anchor="middle" ><tspan font-family="'Liberation Serif', serif" font-style="italic" stroke="none">i</tspan>=1</text>
<path d="M1658.2 766.5 H1687.2 M1663.2 766.5 V804.5 M1682.2 766.5 V804.5 M1659.2 804.5 H1667.2 M1678.2 804.5 H1686.2" stroke="#000" stroke-width="1.7" fill="none"/>
<text transform="translate(1672.7,759.5)" font-family="'Liberation Serif', serif" font-size="17" text-anchor="middle" ><tspan font-family="'Liberation Serif', serif" font-style="italic" stroke="none">n</tspan><tspan baseline-shift="6.8" font-size="11.9">2</tspan></text>
<text transform="translate(1672.7,823)" font-family="'Liberation Serif', serif" font-size="17" text-anchor="middle" ><tspan font-family="'Liberation Serif', serif" font-style="italic" stroke="none">j</tspan>=1</text>
<text transform="translate(1695,791) scale(1.2308,1)" font-family="'Liberation Serif', serif" font-size="25" ><tspan font-family="'Liberation Serif', serif" font-style="italic" stroke="none">P</tspan><tspan baseline-shift="-5.0" font-size="17.5"><tspan font-family="'Liberation Serif', serif" stroke="none">Ω</tspan><tspan baseline-shift="-3.5" font-size="13.1"><tspan font-family="'Liberation Serif', serif" font-style="italic" stroke="none">ij</tspan></tspan></tspan><tspan font-family="'Liberation Serif', serif" stroke="none">  A′</tspan><tspan dx="-5.0" baseline-shift="-6.2" font-size="17.5"><tspan font-family="'Liberation Serif', serif" font-style="italic" stroke="none">ij</tspan></tspan><tspan font-family="'Liberation Serif', serif" stroke="none">  .</tspan></text>
<path d="M1757 764 Q1748 784 1757 806 M1799 764 Q1808 784 1799 806" stroke="#000" stroke-width="1.4" fill="none"/>
<path d="M1156.5 846.8 L1175 856.55 L1156.5 866.3 L1163.16 856.55 Z" fill="#fff" stroke="#000" stroke-width="1.2" stroke-linejoin="miter"/>
<path d="M1163.16 856.55 L1175 856.55 L1156.5 866.3 Z" fill="#000"/>
<text transform="translate(1190,865.6) scale(0.9750,1)" font-family="'Liberation Sans', sans-serif" font-size="30.5" stroke="#fff" stroke-width="0.41"><tspan stroke="#000" stroke-width="0.8">Challenge Two: </tspan><tspan font-style="italic" stroke="#000" stroke-width="0.6">Faster Condensation</tspan></text>
<circle cx="1156.5" cy="896.1" r="3.6" fill="#000"/>
<text transform="translate(1186,905.6) scale(0.9783,1)" font-family="'Liberation Sans', sans-serif" font-size="30.5" stroke="#fff" stroke-width="0.41">The condensation scheme requires T steps of gradient matching</text>
<text transform="translate(1186,941) scale(0.9821,1)" font-family="'Liberation Sans', sans-serif" font-size="30.5" stroke="#fff" stroke-width="0.41">for each sampled <tspan font-family="'Liberation Serif', serif" font-style="italic" stroke="none">θ</tspan><tspan baseline-shift="-6.0" font-size="21.0"><tspan font-family="'Liberation Serif', serif" stroke="none">0</tspan></tspan>, which is time-consuming in practice.</text>
<circle cx="1156.5" cy="967.1" r="3.6" fill="#000"/>
<text transform="translate(1186,976.6) scale(0.9870,1)" font-family="'Liberation Sans', sans-serif" font-size="30.5" stroke="#fff" stroke-width="0.41">We propose to enable faster condensation by matching gradients</text>
<text transform="translate(1186,1012.5) scale(0.9913,1)" font-family="'Liberation Sans', sans-serif" font-size="30.5" stroke="#fff" stroke-width="0.41">for only one step, termed as <tspan font-style="italic" stroke="#000" stroke-width="0.6">one-step gradient matching.</tspan></text>
<text transform="translate(1233.2,1071.7)" font-family="'Liberation Serif', serif" font-size="30" >min</text>
<text transform="translate(1256,1097)" font-family="'Liberation Serif', serif" font-size="21" text-anchor="middle" ><tspan font-family="'Liberation Serif', serif" stroke="none">Ω,X′</tspan></text>
<text transform="translate(1299,1071.7)" font-family="'Liberation Serif', serif" font-size="30" text-anchor="middle" ><tspan font-family="'DejaVu Math TeX Gyre', 'DejaVu Serif', serif" font-size="88%" stroke="none">𝔼</tspan></text>
<text transform="translate(1299,1098)" font-family="'Liberation Serif', serif" font-size="21" text-anchor="middle" ><tspan font-family="'Liberation Serif', serif" font-style="italic" stroke="none">θ</tspan><tspan baseline-shift="-4.2" font-size="14.7">0</tspan></text>
<text transform="translate(1341,1071.7)" font-family="'Liberation Serif', serif" font-size="30" text-anchor="middle" ><tspan font-family="'DejaVu Math TeX Gyre', 'DejaVu Serif', serif" font-size="88%" stroke="none">𝔼</tspan></text>
<text transform="translate(1341,1096)" font-family="'Liberation Serif', serif" font-size="21" text-anchor="middle" ><tspan font-family="'Liberation Serif', serif" font-style="italic" stroke="none">α</tspan></text>
<path d="M1330 1028 h-7 v70 h7 M1988 1028 h7 v70 h-7" fill="none" stroke="#000" stroke-width="1.6"/>
<path d="M1369 1045 h-6 v36 h6 M1975 1045 h6 v36 h-6" fill="none" stroke="#000" stroke-width="1.5"/>
<text transform="translate(1373,1071.7) scale(1.1180,1)" font-family="'Liberation Serif', serif" font-size="30" ><tspan font-family="'Liberation Serif', serif" font-style="italic" stroke="none">D</tspan><tspan font-family="'Liberation Serif', serif" stroke="none"> (∇</tspan><tspan baseline-shift="-6.0" font-size="21.0"><tspan font-family="'Liberation Serif', serif" font-style="italic" stroke="none">θ</tspan></tspan><tspan font-family="'Liberation Serif', serif" font-style="italic" stroke="none">ℓ</tspan><tspan font-family="'Liberation Serif', serif" stroke="none"> (</tspan><tspan font-family="'Liberation Serif', serif" font-style="italic" stroke="none">f</tspan><tspan baseline-shift="-6.0" font-size="21.0"><tspan font-family="'Liberation Serif', serif" font-style="italic" stroke="none">θ</tspan><tspan baseline-shift="-4.2" font-size="15.8">0</tspan></tspan><tspan font-family="'Liberation Serif', serif" stroke="none">(A′(Ω), X′), </tspan><tspan font-family="'DejaVu Math TeX Gyre', 'DejaVu Serif', serif" font-size="88%" stroke="none">𝒴</tspan><tspan font-family="'Liberation Serif', serif" stroke="none">′) , ∇</tspan><tspan baseline-shift="-6.0" font-size="21.0"><tspan font-family="'Liberation Serif', serif" font-style="italic" stroke="none">θ</tspan></tspan><tspan font-family="'Liberation Serif', serif" font-style="italic" stroke="none">ℓ</tspan><tspan font-family="'Liberation Serif', serif" stroke="none"> (</tspan><tspan font-family="'Liberation Serif', serif" font-style="italic" stroke="none">f</tspan><tspan baseline-shift="-6.0" font-size="21.0"><tspan font-family="'Liberation Serif', serif" font-style="italic" stroke="none">θ</tspan><tspan baseline-shift="-4.2" font-size="15.8">0</tspan></tspan><tspan font-family="'Liberation Serif', serif" stroke="none">(</tspan><tspan font-family="'DejaVu Math TeX Gyre', 'DejaVu Serif', serif" font-size="88%" stroke="none">𝒯</tspan><tspan font-family="'Liberation Serif', serif" stroke="none">), </tspan><tspan font-family="'DejaVu Math TeX Gyre', 'DejaVu Serif', serif" font-size="88%" stroke="none">𝒴</tspan><tspan font-family="'Liberation Serif', serif" stroke="none">))</tspan></text>
<circle cx="1156.5" cy="1145" r="3.6" fill="#000"/>
<text transform="translate(1186,1154.5) scale(0.9838,1)" font-family="'Liberation Sans', sans-serif" font-size="30.5" stroke="#fff" stroke-width="0.41"><tspan stroke="#000" stroke-width="0.8">Theoretical understanding:</tspan></text>
<text transform="translate(1172.8,1184.3) scale(1.0000,1)" word-spacing="0.23" font-family="'Liberation Serif', serif" font-size="19.3" font-style="italic" ><tspan font-style="normal"><tspan font-family="'Liberation Serif', serif" stroke="none">T</tspan><tspan font-size="15.4">HEOREM</tspan> 1.  </tspan>When we use a K-layer SGC as the GNN used in</text>
<text transform="translate(1151.2,1207.3) scale(1.0000,1)" word-spacing="3.50" font-family="'Liberation Serif', serif" font-size="19.3" font-style="italic" >condensation, i.e., f<tspan baseline-shift="-3.9" font-size="13.9">θ</tspan><tspan font-style="normal">(</tspan><tspan font-weight="bold" font-style="normal">A</tspan><tspan baseline-shift="-3.9" font-size="13.9"><tspan font-style="normal">(</tspan>i<tspan font-style="normal">)</tspan></tspan><tspan font-style="normal">, </tspan><tspan font-weight="bold" font-style="normal">X</tspan><tspan baseline-shift="-3.9" font-size="13.9"><tspan font-style="normal">(</tspan>i<tspan font-style="normal">)</tspan></tspan><tspan font-style="normal">) = </tspan>Pool<tspan font-style="normal">(</tspan><tspan font-weight="bold" font-style="normal">A</tspan><tspan baseline-shift="6.9" font-size="13.9">K</tspan><tspan font-weight="bold" font-style="normal">X</tspan><tspan baseline-shift="-3.9" font-size="13.9"><tspan font-style="normal">(</tspan>i<tspan font-style="normal">)</tspan></tspan><tspan font-weight="bold" font-style="normal">W</tspan><tspan baseline-shift="-3.9" font-size="13.9"><tspan font-style="normal">1</tspan></tspan><tspan font-style="normal">)</tspan><tspan font-weight="bold" font-style="normal">W</tspan><tspan baseline-shift="-3.9" font-size="13.9"><tspan font-style="normal">2</tspan></tspan> with θ =</text>
<text transform="translate(1151.2,1238) scale(1.0000,1)" word-spacing="1.09" font-family="'Liberation Serif', serif" font-size="19.3" font-style="italic" ><tspan font-style="normal">[</tspan><tspan font-weight="bold" font-style="normal">W</tspan><tspan baseline-shift="-3.9" font-size="13.9"><tspan font-style="normal">1</tspan></tspan><tspan font-style="normal">; </tspan><tspan font-weight="bold" font-style="normal">W</tspan><tspan baseline-shift="-3.9" font-size="13.9"><tspan font-style="normal">2</tspan></tspan><tspan font-style="normal">] </tspan>and assume that all network parameters satisfy <tspan font-style="normal"><tspan letter-spacing="-0.6">||</tspan></tspan>θ<tspan font-style="normal"><tspan letter-spacing="-0.6">||</tspan></tspan><tspan baseline-shift="6.9" font-size="13.9"><tspan font-style="normal">2</tspan></tspan><tspan font-style="normal"> ≤</tspan></text>
<text transform="translate(1151.2,1260.3) scale(1.0203,1)" font-family="'Liberation Serif', serif" font-size="19.3" font-style="italic" >M<tspan baseline-shift="6.9" font-size="13.9"><tspan font-style="normal">2</tspan></tspan><tspan font-style="normal">(</tspan>M<tspan font-style="normal"> &gt; 0)</tspan>, we have</text>
<text transform="translate(1197,1308.8)" font-family="'Liberation Serif', serif" font-size="17.3" >min</text>
<text transform="translate(1176,1319.1) scale(1.2357,1)" font-family="'Liberation Serif', serif" font-size="11" ><tspan font-family="'Liberation Serif', serif" font-style="italic" stroke="none">t</tspan>=0,1,...,<tspan font-family="'Liberation Serif', serif" font-style="italic" stroke="none">T</tspan>−1</text>
<text transform="translate(1246,1308.8) scale(1.0073,1)" font-family="'Liberation Serif', serif" font-size="17.3" ><tspan font-family="'Liberation Serif', serif" font-style="italic" stroke="none">ℓ</tspan><tspan baseline-shift="-3.5" font-size="13.8"><tspan font-family="'DejaVu Math TeX Gyre', 'DejaVu Serif', serif" font-size="88%" stroke="none">𝒯</tspan></tspan><tspan font-family="'Liberation Serif', serif" stroke="none"> (</tspan><tspan font-family="'Liberation Serif', serif" font-style="italic" stroke="none">θ</tspan><tspan baseline-shift="-3.5" font-size="12.5"><tspan font-family="'Liberation Serif', serif" font-style="italic" stroke="none">t</tspan></tspan><tspan font-family="'Liberation Serif', serif" stroke="none">)</tspan><tspan font-family="'Liberation Serif', serif" stroke="none"> − </tspan><tspan font-family="'Liberation Serif', serif" font-style="italic" stroke="none">ℓ</tspan><tspan baseline-shift="-3.5" font-size="13.8"><tspan font-family="'DejaVu Math TeX Gyre', 'DejaVu Serif', serif" font-size="88%" stroke="none">𝒯</tspan></tspan><tspan font-family="'Liberation Serif', serif" stroke="none"> (</tspan><tspan font-family="'Liberation Serif', serif" font-style="italic" stroke="none">θ</tspan><tspan baseline-shift="6.2" font-size="12.5">*</tspan><tspan font-family="'Liberation Serif', serif" stroke="none">) ≤</tspan></text>
<text transform="translate(1394.5,1311.5)" font-family="'Liberation Serif', serif" font-size="24" text-anchor="middle" >∑</text>
<text transform="translate(1394.5,1286)" font-family="'Liberation Serif', serif" font-size="11.5" text-anchor="middle" ><tspan font-family="'Liberation Serif', serif" font-style="italic" stroke="none">T</tspan>−1</text>
<text transform="translate(1394.5,1327.5)" font-family="'Liberation Serif', serif" font-size="11.5" text-anchor="middle" ><tspan font-family="'Liberation Serif', serif" font-style="italic" stroke="none">t</tspan>=0</text>
<text transform="translate(1429.8,1296)" font-family="'Liberation Serif', serif" font-size="17.3" text-anchor="middle" >√2<tspan font-family="'Liberation Serif', serif" font-style="italic" stroke="none">M</tspan></text>
<line x1="1421.5" y1="1281.8" x2="1429.5" y2="1281.8" stroke="#000" stroke-width="0.9"/>
<line x1="1412.6" y1="1302.9" x2="1447" y2="1302.9" stroke="#000" stroke-width="0.9"/>
<text transform="translate(1429.8,1319)" font-family="'Liberation Serif', serif" font-size="17.3" text-anchor="middle" ><tspan font-family="'Liberation Serif', serif" font-style="italic" stroke="none">T</tspan></text>
<text transform="translate(1451.9,1308.8) scale(1.1131,1)" font-family="'Liberation Serif', serif" font-size="17.3" ><tspan font-family="'Liberation Serif', serif" stroke="none"><tspan letter-spacing="-0.6">||</tspan>∇</tspan><tspan baseline-shift="-3.5" font-size="12.5"><tspan font-family="'Liberation Serif', serif" font-style="italic" stroke="none">θ</tspan></tspan><tspan font-family="'Liberation Serif', serif" font-style="italic" stroke="none">ℓ</tspan><tspan baseline-shift="-3.5" font-size="13.8"><tspan font-family="'DejaVu Math TeX Gyre', 'DejaVu Serif', serif" font-size="88%" stroke="none">𝒯</tspan></tspan><tspan font-family="'Liberation Serif', serif" stroke="none"> (</tspan><tspan font-family="'Liberation Serif', serif" font-style="italic" stroke="none">θ</tspan><tspan baseline-shift="-3.5" font-size="12.5"><tspan font-family="'Liberation Serif', serif" font-style="italic" stroke="none">t</tspan></tspan><tspan font-family="'Liberation Serif', serif" stroke="none">)</tspan><tspan font-family="'Liberation Serif', serif" stroke="none"> − ∇</tspan><tspan baseline-shift="-3.5" font-size="12.5"><tspan font-family="'Liberation Serif', serif" font-style="italic" stroke="none">θ</tspan></tspan><tspan font-family="'Liberation Serif', serif" font-style="italic" stroke="none">ℓ</tspan><tspan baseline-shift="-3.5" font-size="13.8"><tspan font-family="'DejaVu Math TeX Gyre', 'DejaVu Serif', serif" font-size="88%" stroke="none">𝒮</tspan></tspan><tspan font-family="'Liberation Serif', serif" stroke="none"> (</tspan><tspan font-family="'Liberation Serif', serif" font-style="italic" stroke="none">θ</tspan><tspan baseline-shift="-3.5" font-size="12.5"><tspan font-family="'Liberation Serif', serif" font-style="italic" stroke="none">t</tspan></tspan><tspan font-family="'Liberation Serif', serif" stroke="none">)</tspan><tspan font-family="'Liberation Serif', serif" stroke="none"> <tspan letter-spacing="-0.6">||</tspan></tspan></text>
<g transform="translate(1248.3,1362) scale(1.0) translate(-1248.3,-1362)">
<text transform="translate(1248.3,1362)" font-family="'Liberation Serif', serif" font-size="17.3" >+</text>
<text transform="translate(1279.1,1350.5)" font-family="'Liberation Serif', serif" font-size="17.3" text-anchor="middle" >3<tspan font-family="'Liberation Serif', serif" font-style="italic" stroke="none">M</tspan></text>
<line x1="1263.8" y1="1358" x2="1294.3" y2="1358" stroke="#000" stroke-width="0.9"/>
<text transform="translate(1279.1,1377)" font-family="'Liberation Serif', serif" font-size="17.3" text-anchor="middle" >2√<tspan font-family="'Liberation Serif', serif" font-style="italic" stroke="none">T</tspan></text>
<line x1="1281.8" y1="1363.2" x2="1293.3" y2="1363.2" stroke="#000" stroke-width="0.8"/>
<text transform="translate(1304.3,1362)" font-family="'Liberation Serif', serif" font-size="17.3" text-anchor="middle" >·</text>
<text transform="translate(1330.8,1350.5)" font-family="'Liberation Serif', serif" font-size="17.3" text-anchor="middle" ><tspan font-family="'Liberation Serif', serif" font-style="italic" stroke="none">C</tspan> − 1</text>
<line x1="1312" y1="1358" x2="1349.5" y2="1358" stroke="#000" stroke-width="0.9"/>
<text transform="translate(1330.8,1377)" font-family="'Liberation Serif', serif" font-size="17.3" text-anchor="middle" ><tspan font-family="'Liberation Serif', serif" font-style="italic" stroke="none">CN</tspan>′</text>
<path d="M1354.3 1367.0 l3 -2 l7 20 l6.5 -47.6 H1510.3" fill="none" stroke="#000" stroke-width="1.1"/>
<text transform="translate(1378.8,1366)" font-family="'Liberation Serif', serif" font-size="22" text-anchor="middle" >∑</text>
<text transform="translate(1378.8,1381)" font-family="'Liberation Serif', serif" font-size="11.5" text-anchor="middle" ><tspan font-family="'Liberation Serif', serif" font-style="italic" stroke="none">i</tspan></text>
<text transform="translate(1392.8,1362) scale(1.1100,1)" font-family="'Liberation Serif', serif" font-size="17.3" ><tspan font-family="'Liberation Serif', serif" font-style="italic" stroke="none">γ</tspan><tspan baseline-shift="-3.5" font-size="12.5"><tspan font-family="'Liberation Serif', serif" font-style="italic" stroke="none">i</tspan></tspan><tspan font-family="'Liberation Serif', serif" stroke="none"><tspan letter-spacing="-0.6">||</tspan></tspan><tspan font-weight="bold">1</tspan><tspan baseline-shift="6.2" font-size="12.5">⊤</tspan><tspan font-weight="bold">A</tspan><tspan font-family="'Liberation Serif', serif" stroke="none">′</tspan><tspan baseline-shift="6.2" font-size="12.5"><tspan font-family="'Liberation Serif', serif" font-style="italic" stroke="none">K</tspan></tspan><tspan font-weight="bold">X</tspan><tspan font-family="'Liberation Serif', serif" stroke="none">′</tspan><tspan baseline-shift="-3.5" font-size="12.5">(<tspan font-family="'Liberation Serif', serif" font-style="italic" stroke="none">i</tspan>)</tspan><tspan font-family="'Liberation Serif', serif" stroke="none"> <tspan letter-spacing="-0.6">||</tspan></tspan><tspan baseline-shift="6.2" font-size="12.5">2</tspan></text>
</g>
<text transform="translate(1631.7,1362) scale(0.8543,1)" font-family="'Liberation Serif', serif" font-size="17.3" >(10)</text>
<text transform="translate(1172.8,1438.9) scale(1.0000,1)" word-spacing="0.52" font-family="'Liberation Serif', serif" font-size="19.3" font-style="italic" ><tspan font-style="normal"><tspan font-family="'Liberation Serif', serif" stroke="none">P</tspan><tspan font-size="15.4">ROPOSITION</tspan> 1.  </tspan>Assume the largest gradient gap happens at <tspan font-style="normal">0</tspan>-th</text>
<text transform="translate(1151.2,1462) scale(1.0000,1)" word-spacing="4.03" font-family="'Liberation Serif', serif" font-size="19.3" font-style="italic" >epoch, i.e., <tspan font-style="normal"><tspan letter-spacing="-0.6">||</tspan>∇</tspan><tspan baseline-shift="-3.9" font-size="13.9">θ</tspan><tspan font-family="'Liberation Serif', serif" font-style="italic" stroke="none">ℓ</tspan><tspan baseline-shift="-3.9" font-size="13.9"><tspan font-family="'DejaVu Math TeX Gyre', 'DejaVu Serif', serif" font-size="88%" stroke="none">𝒯</tspan></tspan><tspan font-style="normal"> (</tspan>θ<tspan baseline-shift="-3.9" font-size="13.9"><tspan font-style="normal">0</tspan></tspan><tspan font-style="normal">)−∇</tspan><tspan baseline-shift="-3.9" font-size="13.9">θ</tspan><tspan font-family="'Liberation Serif', serif" font-style="italic" stroke="none">ℓ</tspan><tspan baseline-shift="-3.9" font-size="13.9"><tspan font-style="normal">S</tspan></tspan><tspan font-style="normal"> (</tspan>θ<tspan baseline-shift="-3.9" font-size="13.9"><tspan font-style="normal">0</tspan></tspan><tspan font-style="normal">) <tspan letter-spacing="-0.6">||</tspan></tspan><tspan font-style="normal"> = max </tspan><tspan font-style="normal"><tspan letter-spacing="-0.6">||</tspan>∇</tspan><tspan baseline-shift="-3.9" font-size="13.9">θ</tspan><tspan font-family="'Liberation Serif', serif" font-style="italic" stroke="none">ℓ</tspan><tspan baseline-shift="-3.9" font-size="13.9"><tspan font-family="'DejaVu Math TeX Gyre', 'DejaVu Serif', serif" font-size="88%" stroke="none">𝒯</tspan></tspan><tspan font-style="normal"> (</tspan>θ<tspan baseline-shift="-3.9" font-size="13.9">t</tspan><tspan font-style="normal">)−∇</tspan><tspan baseline-shift="-3.9" font-size="13.9">θ</tspan><tspan font-family="'Liberation Serif', serif" font-style="italic" stroke="none">ℓ</tspan><tspan baseline-shift="-3.9" font-size="13.9"><tspan font-style="normal">S</tspan></tspan><tspan font-style="normal"> (</tspan>θ<tspan baseline-shift="-3.9" font-size="13.9">t</tspan><tspan font-style="normal">) <tspan letter-spacing="-0.6">||</tspan></tspan></text>
<text transform="translate(1466,1473)" font-family="'Liberation Serif', serif" font-size="13" ><tspan font-family="'Liberation Serif', serif" font-style="italic" stroke="none">t</tspan></text>
<text transform="translate(1151.2,1492) scale(0.9873,1)" font-family="'Liberation Serif', serif" font-size="19.3" font-style="italic" >with t<tspan font-style="normal"> = 0, 1, . . . , </tspan>T<tspan font-style="normal"> − 1</tspan>, we have</text>
<text transform="translate(1215,1524.5)" font-family="'Liberation Serif', serif" font-size="17.3" >min</text>
<text transform="translate(1194,1534.8) scale(1.2998,1)" font-family="'Liberation Serif', serif" font-size="11" ><tspan font-family="'Liberation Serif', serif" font-style="italic" stroke="none">t</tspan>=0,1,...,<tspan font-family="'Liberation Serif', serif" font-style="italic" stroke="none">T</tspan>−1</text>
<text transform="translate(1265.5,1524.5) scale(1.1217,1)" font-family="'Liberation Serif', serif" font-size="17.3" ><tspan font-family="'Liberation Serif', serif" font-style="italic" stroke="none">ℓ</tspan><tspan baseline-shift="-3.5" font-size="13.8"><tspan font-family="'DejaVu Math TeX Gyre', 'DejaVu Serif', serif" font-size="88%" stroke="none">𝒯</tspan></tspan><tspan font-family="'Liberation Serif', serif" stroke="none"> (</tspan><tspan font-family="'Liberation Serif', serif" font-style="italic" stroke="none">θ</tspan><tspan baseline-shift="-3.5" font-size="12.5"><tspan font-family="'Liberation Serif', serif" font-style="italic" stroke="none">t</tspan></tspan><tspan font-family="'Liberation Serif', serif" stroke="none">)</tspan><tspan font-family="'Liberation Serif', serif" stroke="none"> − </tspan><tspan font-family="'Liberation Serif', serif" font-style="italic" stroke="none">ℓ</tspan><tspan baseline-shift="-3.5" font-size="13.8"><tspan font-family="'DejaVu Math TeX Gyre', 'DejaVu Serif', serif" font-size="88%" stroke="none">𝒯</tspan></tspan><tspan font-family="'Liberation Serif', serif" stroke="none"> (</tspan><tspan font-family="'Liberation Serif', serif" font-style="italic" stroke="none">θ</tspan><tspan baseline-shift="6.2" font-size="12.5">*</tspan><tspan font-family="'Liberation Serif', serif" stroke="none">) ≤ √2</tspan><tspan font-family="'Liberation Serif', serif" font-style="italic" stroke="none">M</tspan><tspan font-family="'Liberation Serif', serif" stroke="none"><tspan letter-spacing="-0.6">||</tspan>∇</tspan><tspan baseline-shift="-3.5" font-size="12.5"><tspan font-family="'Liberation Serif', serif" font-style="italic" stroke="none">θ</tspan></tspan><tspan font-family="'Liberation Serif', serif" font-style="italic" stroke="none">ℓ</tspan><tspan baseline-shift="-3.5" font-size="13.8"><tspan font-family="'DejaVu Math TeX Gyre', 'DejaVu Serif', serif" font-size="88%" stroke="none">𝒯</tspan></tspan><tspan font-family="'Liberation Serif', serif" stroke="none"> (</tspan><tspan font-family="'Liberation Serif', serif" font-style="italic" stroke="none">θ</tspan><tspan baseline-shift="-3.5" font-size="12.5"><tspan font-family="'Liberation Serif', serif" stroke="none">0</tspan></tspan><tspan font-family="'Liberation Serif', serif" stroke="none">)</tspan><tspan font-family="'Liberation Serif', serif" stroke="none"> − ∇</tspan><tspan baseline-shift="-3.5" font-size="12.5"><tspan font-family="'Liberation Serif', serif" font-style="italic" stroke="none">θ</tspan></tspan><tspan font-family="'Liberation Serif', serif" font-style="italic" stroke="none">ℓ</tspan><tspan baseline-shift="-3.5" font-size="13.8"><tspan font-family="'DejaVu Math TeX Gyre', 'DejaVu Serif', serif" font-size="88%" stroke="none">𝒮</tspan></tspan><tspan font-family="'Liberation Serif', serif" stroke="none"> (</tspan><tspan font-family="'Liberation Serif', serif" font-style="italic" stroke="none">θ</tspan><tspan baseline-shift="-3.5" font-size="12.5"><tspan font-family="'Liberation Serif', serif" stroke="none">0</tspan></tspan><tspan font-family="'Liberation Serif', serif" stroke="none">)</tspan><tspan font-family="'Liberation Serif', serif" stroke="none"> <tspan letter-spacing="-0.6">||</tspan></tspan></text>
<line x1="1425.5" y1="1511.2" x2="1434.5" y2="1511.2" stroke="#000" stroke-width="0.8"/>
<g transform="translate(1269.5,1574.3) scale(1.055) translate(-1269.5,-1574.3)">
<text transform="translate(1269.5,1574.3)" font-family="'Liberation Serif', serif" font-size="17.3" >+</text>
<text transform="translate(1300.3,1562.8)" font-family="'Liberation Serif', serif" font-size="17.3" text-anchor="middle" >3<tspan font-family="'Liberation Serif', serif" font-style="italic" stroke="none">M</tspan></text>
<line x1="1285" y1="1570.3" x2="1315.5" y2="1570.3" stroke="#000" stroke-width="0.9"/>
<text transform="translate(1300.3,1589.3)" font-family="'Liberation Serif', serif" font-size="17.3" text-anchor="middle" >2√<tspan font-family="'Liberation Serif', serif" font-style="italic" stroke="none">T</tspan></text>
<line x1="1303" y1="1575.5" x2="1314.5" y2="1575.5" stroke="#000" stroke-width="0.8"/>
<text transform="translate(1325.5,1574.3)" font-family="'Liberation Serif', serif" font-size="17.3" text-anchor="middle" >·</text>
<text transform="translate(1352,1562.8)" font-family="'Liberation Serif', serif" font-size="17.3" text-anchor="middle" ><tspan font-family="'Liberation Serif', serif" font-style="italic" stroke="none">C</tspan> − 1</text>
<line x1="1333.2" y1="1570.3" x2="1370.7" y2="1570.3" stroke="#000" stroke-width="0.9"/>
<text transform="translate(1352,1589.3)" font-family="'Liberation Serif', serif" font-size="17.3" text-anchor="middle" ><tspan font-family="'Liberation Serif', serif" font-style="italic" stroke="none">CN</tspan>′</text>
<path d="M1375.5 1579.3 l3 -2 l7 20 l6.5 -47.6 H1531.5" fill="none" stroke="#000" stroke-width="1.1"/>
<text transform="translate(1400,1578.3)" font-family="'Liberation Serif', serif" font-size="22" text-anchor="middle" >∑</text>
<text transform="translate(1400,1593.3)" font-family="'Liberation Serif', serif" font-size="11.5" text-anchor="middle" ><tspan font-family="'Liberation Serif', serif" font-style="italic" stroke="none">i</tspan></text>
<text transform="translate(1414,1574.3) scale(1.1157,1)" font-family="'Liberation Serif', serif" font-size="17.3" ><tspan font-family="'Liberation Serif', serif" font-style="italic" stroke="none">γ</tspan><tspan baseline-shift="-3.5" font-size="12.5"><tspan font-family="'Liberation Serif', serif" font-style="italic" stroke="none">i</tspan></tspan><tspan font-family="'Liberation Serif', serif" stroke="none"><tspan letter-spacing="-0.6">||</tspan></tspan><tspan font-weight="bold">1</tspan><tspan baseline-shift="6.2" font-size="12.5">⊤</tspan><tspan font-weight="bold">A</tspan><tspan font-family="'Liberation Serif', serif" stroke="none">′</tspan><tspan baseline-shift="6.2" font-size="12.5"><tspan font-family="'Liberation Serif', serif" font-style="italic" stroke="none">K</tspan></tspan><tspan font-weight="bold">X</tspan><tspan font-family="'Liberation Serif', serif" stroke="none">′</tspan><tspan baseline-shift="-3.5" font-size="12.5">(<tspan font-family="'Liberation Serif', serif" font-style="italic" stroke="none">i</tspan>)</tspan><tspan font-family="'Liberation Serif', serif" stroke="none"> <tspan letter-spacing="-0.6">||</tspan></tspan><tspan baseline-shift="6.2" font-size="12.5">2</tspan></text>
</g>
<text transform="translate(1656.3,1574.3) scale(0.8737,1)" font-family="'Liberation Serif', serif" font-size="17.3" >(11)</text>
<text transform="translate(1548.5,1574.3)" font-family="'Liberation Serif', serif" font-size="17.3" >.</text>
<text transform="translate(1695,1252) scale(0.9309,1)" font-family="'Liberation Sans', sans-serif" font-size="25" stroke="#fff" stroke-width="0.34">Our theoretical analysis suggests</text>
<text transform="translate(1695,1280.4) scale(0.9558,1)" font-family="'Liberation Sans', sans-serif" font-size="25" stroke="#fff" stroke-width="0.34">that <tspan fill="#ff0000" font-style="italic" stroke="#ff0000" stroke-width="0.45">the smallest gap between</tspan></text>
<text transform="translate(1695,1308.8) scale(0.9478,1)" font-family="'Liberation Sans', sans-serif" font-size="25" stroke="#fff" stroke-width="0.34"><tspan fill="#ff0000" font-style="italic" stroke="#ff0000" stroke-width="0.45">the resulted loss (by training on</tspan></text>
<text transform="translate(1695,1337.2) scale(0.9531,1)" font-family="'Liberation Sans', sans-serif" font-size="25" stroke="#fff" stroke-width="0.34"><tspan fill="#ff0000" font-style="italic" stroke="#ff0000" stroke-width="0.45">synthetic graphs) and the optimal</tspan></text>
<text transform="translate(1695,1365.6) scale(0.9333,1)" font-family="'Liberation Sans', sans-serif" font-size="25" stroke="#fff" stroke-width="0.34"><tspan fill="#ff0000" font-style="italic" stroke="#ff0000" stroke-width="0.45">loss has an upper bound</tspan>. This</text>
<text transform="translate(1695,1394) scale(0.9664,1)" font-family="'Liberation Sans', sans-serif" font-size="25" stroke="#fff" stroke-width="0.34">upper bound depends on the</text>
<text transform="translate(1695,1422.4) scale(0.9593,1)" font-family="'Liberation Sans', sans-serif" font-size="25" stroke="#fff" stroke-width="0.34">difference of gradients w.r.t. real</text>
<text transform="translate(1695,1450.8) scale(0.9333,1)" font-family="'Liberation Sans', sans-serif" font-size="25" stroke="#fff" stroke-width="0.34">data and synthetic data. Thus,</text>
<text transform="translate(1695,1479.2) scale(0.9502,1)" font-family="'Liberation Sans', sans-serif" font-size="25" stroke="#fff" stroke-width="0.34">the theorem justifies the</text>
<text transform="translate(1695,1507.6) scale(0.9613,1)" font-family="'Liberation Sans', sans-serif" font-size="25" stroke="#fff" stroke-width="0.34">rationality of our method.</text>
<path d="M1156.5 1741.3 L1175 1751.05 L1156.5 1760.8 L1163.16 1751.05 Z" fill="#fff" stroke="#000" stroke-width="1.2" stroke-linejoin="miter"/>
<path d="M1163.16 1751.05 L1175 1751.05 L1156.5 1760.8 Z" fill="#000"/>
<text transform="translate(1190,1760) scale(1.0266,1)" font-family="'Liberation Sans', sans-serif" font-size="29.6" font-weight="bold" stroke="#fff" stroke-width="0.40">Condensation performance</text>
<text transform="translate(1315.7,1797.9) scale(1.0908,1)" font-family="'Liberation Serif', serif" font-size="15.2" text-anchor="middle" fill="#222" >Graphs/Cls.</text>
<text transform="translate(1393.5,1797.9) scale(1.0908,1)" font-family="'Liberation Serif', serif" font-size="15.2" text-anchor="middle" fill="#222" >Ratio</text>
<text transform="translate(1470.9,1797.9) scale(1.0908,1)" font-family="'Liberation Serif', serif" font-size="15.2" text-anchor="middle" fill="#222" >Random</text>
<text transform="translate(1572.7,1797.9) scale(1.0908,1)" font-family="'Liberation Serif', serif" font-size="15.2" text-anchor="middle" fill="#222" >Herding</text>
<text transform="translate(1674.7,1797.9) scale(1.0908,1)" font-family="'Liberation Serif', serif" font-size="15.2" text-anchor="middle" fill="#222" >K-Center</text>
<text transform="translate(1772.6,1797.9) scale(1.0908,1)" font-family="'Liberation Serif', serif" font-size="15.2" text-anchor="middle" fill="#222" >DCG</text>
<text transform="translate(1874.6,1797.9) scale(1.0908,1)" font-family="'Liberation Serif', serif" font-size="15.2" text-anchor="middle" fill="#222" ><tspan font-style="italic">DosCond</tspan></text>
<text transform="translate(1986,1797.9) scale(1.0908,1)" font-family="'Liberation Serif', serif" font-size="15.2" text-anchor="middle" fill="#222" >Whole Dataset</text>
<text transform="translate(1161.4,1836.6) scale(1.0807,1)" font-family="'Liberation Serif', serif" font-size="15.2" fill="#222" >ogbg-molbace</text>
<text transform="translate(1161.4,1857) scale(1.0807,1)" font-family="'Liberation Serif', serif" font-size="15.2" fill="#222" >(ROC-AUC)</text>
<text transform="translate(1315.7,1827) scale(1.01,1)" font-family="'Liberation Serif', serif" font-size="15.2" text-anchor="middle" fill="#222" >1</text>
<text transform="translate(1393.5,1827) scale(1.01,1)" font-family="'Liberation Serif', serif" font-size="15.2" text-anchor="middle" fill="#222" >0.2%</text>
<text transform="translate(1470.9,1827) scale(1.01,1)" font-family="'Liberation Serif', serif" font-size="15.2" text-anchor="middle" fill="#222" >0.580±0.067</text>
<text transform="translate(1572.7,1827) scale(1.01,1)" font-family="'Liberation Serif', serif" font-size="15.2" text-anchor="middle" fill="#222" >0.548±0.034</text>
<text transform="translate(1674.7,1827) scale(1.01,1)" font-family="'Liberation Serif', serif" font-size="15.2" text-anchor="middle" fill="#222" >0.548±0.034</text>
<text transform="translate(1772.6,1827) scale(1.01,1)" font-family="'Liberation Serif', serif" font-size="15.2" text-anchor="middle" fill="#222" >0.623±0.046</text>
<text transform="translate(1874.6,1827) scale(1.01,1)" font-family="'Liberation Serif', serif" font-size="15.2" text-anchor="middle" fill="#111" font-weight="bold" >0.657±0.034</text>
<text transform="translate(1315.7,1847) scale(1.01,1)" font-family="'Liberation Serif', serif" font-size="15.2" text-anchor="middle" fill="#222" >10</text>
<text transform="translate(1393.5,1847) scale(1.01,1)" font-family="'Liberation Serif', serif" font-size="15.2" text-anchor="middle" fill="#222" >1.7%</text>
<text transform="translate(1470.9,1847) scale(1.01,1)" font-family="'Liberation Serif', serif" font-size="15.2" text-anchor="middle" fill="#222" >0.598±0.073</text>
<text transform="translate(1572.7,1847) scale(1.01,1)" font-family="'Liberation Serif', serif" font-size="15.2" text-anchor="middle" fill="#222" >0.639±0.039</text>
<text transform="translate(1674.7,1847) scale(1.01,1)" font-family="'Liberation Serif', serif" font-size="15.2" text-anchor="middle" fill="#222" >0.591±0.056</text>
<text transform="translate(1772.6,1847) scale(1.01,1)" font-family="'Liberation Serif', serif" font-size="15.2" text-anchor="middle" fill="#222" >0.655±0.033</text>
<text transform="translate(1874.6,1847) scale(1.01,1)" font-family="'Liberation Serif', serif" font-size="15.2" text-anchor="middle" fill="#111" font-weight="bold" >0.674±0.035</text>
<text transform="translate(1315.7,1867.2) scale(1.01,1)" font-family="'Liberation Serif', serif" font-size="15.2" text-anchor="middle" fill="#222" >50</text>
<text transform="translate(1393.5,1867.2) scale(1.01,1)" font-family="'Liberation Serif', serif" font-size="15.2" text-anchor="middle" fill="#222" >8.3%</text>
<text transform="translate(1470.9,1867.2) scale(1.01,1)" font-family="'Liberation Serif', serif" font-size="15.2" text-anchor="middle" fill="#222" >0.632±0.047</text>
<text transform="translate(1572.7,1867.2) scale(1.01,1)" font-family="'Liberation Serif', serif" font-size="15.2" text-anchor="middle" fill="#222" >0.683±0.022</text>
<text transform="translate(1674.7,1867.2) scale(1.01,1)" font-family="'Liberation Serif', serif" font-size="15.2" text-anchor="middle" fill="#222" >0.589±0.025</text>
<text transform="translate(1772.6,1867.2) scale(1.01,1)" font-family="'Liberation Serif', serif" font-size="15.2" text-anchor="middle" fill="#222" >0.652±0.013</text>
<text transform="translate(1874.6,1867.2) scale(1.01,1)" font-family="'Liberation Serif', serif" font-size="15.2" text-anchor="middle" fill="#111" font-weight="bold" >0.688±0.012</text>
<text transform="translate(1986,1847) scale(1.01,1)" font-family="'Liberation Serif', serif" font-size="15.2" text-anchor="middle" fill="#222" >0.714±0.005</text>
<text transform="translate(1161.4,1906.2) scale(1.0807,1)" font-family="'Liberation Serif', serif" font-size="15.2" fill="#222" >ogbg-molbbbp</text>
<text transform="translate(1161.4,1926.6) scale(1.0807,1)" font-family="'Liberation Serif', serif" font-size="15.2" fill="#222" >(ROC-AUC)</text>
<text transform="translate(1315.7,1896.6) scale(1.01,1)" font-family="'Liberation Serif', serif" font-size="15.2" text-anchor="middle" fill="#222" >1</text>
<text transform="translate(1393.5,1896.6) scale(1.01,1)" font-family="'Liberation Serif', serif" font-size="15.2" text-anchor="middle" fill="#222" >0.1%</text>
<text transform="translate(1470.9,1896.6) scale(1.01,1)" font-family="'Liberation Serif', serif" font-size="15.2" text-anchor="middle" fill="#222" >0.519±0.016</text>
<text transform="translate(1572.7,1896.6) scale(1.01,1)" font-family="'Liberation Serif', serif" font-size="15.2" text-anchor="middle" fill="#222" >0.546±0.019</text>
<text transform="translate(1674.7,1896.6) scale(1.01,1)" font-family="'Liberation Serif', serif" font-size="15.2" text-anchor="middle" fill="#222" >0.546±0.019</text>
<text transform="translate(1772.6,1896.6) scale(1.01,1)" font-family="'Liberation Serif', serif" font-size="15.2" text-anchor="middle" fill="#222" >0.559±0.044</text>
<text transform="translate(1874.6,1896.6) scale(1.01,1)" font-family="'Liberation Serif', serif" font-size="15.2" text-anchor="middle" fill="#111" font-weight="bold" >0.581±0.005</text>
<text transform="translate(1315.7,1917) scale(1.01,1)" font-family="'Liberation Serif', serif" font-size="15.2" text-anchor="middle" fill="#222" >10</text>
<text transform="translate(1393.5,1917) scale(1.01,1)" font-family="'Liberation Serif', serif" font-size="15.2" text-anchor="middle" fill="#222" >1.2%</text>
<text transform="translate(1470.9,1917) scale(1.01,1)" font-family="'Liberation Serif', serif" font-size="15.2" text-anchor="middle" fill="#222" >0.586±0.040</text>
<text transform="translate(1572.7,1917) scale(1.01,1)" font-family="'Liberation Serif', serif" font-size="15.2" text-anchor="middle" fill="#111" font-weight="bold" >0.605±0.019</text>
<text transform="translate(1674.7,1917) scale(1.01,1)" font-family="'Liberation Serif', serif" font-size="15.2" text-anchor="middle" fill="#222" >0.530±0.039</text>
<text transform="translate(1772.6,1917) scale(1.01,1)" font-family="'Liberation Serif', serif" font-size="15.2" text-anchor="middle" fill="#222" >0.568±0.032</text>
<text transform="translate(1874.6,1917) scale(1.01,1)" font-family="'Liberation Serif', serif" font-size="15.2" text-anchor="middle" fill="#111" font-weight="bold" >0.605±0.008</text>
<text transform="translate(1315.7,1937.4) scale(1.01,1)" font-family="'Liberation Serif', serif" font-size="15.2" text-anchor="middle" fill="#222" >50</text>
<text transform="translate(1393.5,1937.4) scale(1.01,1)" font-family="'Liberation Serif', serif" font-size="15.2" text-anchor="middle" fill="#222" >6.1%</text>
<text transform="translate(1470.9,1937.4) scale(1.01,1)" font-family="'Liberation Serif', serif" font-size="15.2" text-anchor="middle" fill="#222" >0.606±0.020</text>
<text transform="translate(1572.7,1937.4) scale(1.01,1)" font-family="'Liberation Serif', serif" font-size="15.2" text-anchor="middle" fill="#222" >0.617±0.003</text>
<text transform="translate(1674.7,1937.4) scale(1.01,1)" font-family="'Liberation Serif', serif" font-size="15.2" text-anchor="middle" fill="#222" >0.576±0.019</text>
<text transform="translate(1772.6,1937.4) scale(1.01,1)" font-family="'Liberation Serif', serif" font-size="15.2" text-anchor="middle" fill="#222" >0.579±0.032</text>
<text transform="translate(1874.6,1937.4) scale(1.01,1)" font-family="'Liberation Serif', serif" font-size="15.2" text-anchor="middle" fill="#111" font-weight="bold" >0.620±0.007</text>
<text transform="translate(1986,1917) scale(1.01,1)" font-family="'Liberation Serif', serif" font-size="15.2" text-anchor="middle" fill="#222" >0.646±0.004</text>
<text transform="translate(1161.4,1976.2) scale(1.0807,1)" font-family="'Liberation Serif', serif" font-size="15.2" fill="#222" >ogbg-molhiv</text>
<text transform="translate(1161.4,1996.6) scale(1.0807,1)" font-family="'Liberation Serif', serif" font-size="15.2" fill="#222" >(ROC-AUC)</text>
<text transform="translate(1315.7,1966.6) scale(1.01,1)" font-family="'Liberation Serif', serif" font-size="15.2" text-anchor="middle" fill="#222" >1</text>
<text transform="translate(1393.5,1966.6) scale(1.01,1)" font-family="'Liberation Serif', serif" font-size="15.2" text-anchor="middle" fill="#222" >0.01%</text>
<text transform="translate(1470.9,1966.6) scale(1.01,1)" font-family="'Liberation Serif', serif" font-size="15.2" text-anchor="middle" fill="#222" >0.719±0.009</text>
<text transform="translate(1572.7,1966.6) scale(1.01,1)" font-family="'Liberation Serif', serif" font-size="15.2" text-anchor="middle" fill="#222" >0.721±0.002</text>
<text transform="translate(1674.7,1966.6) scale(1.01,1)" font-family="'Liberation Serif', serif" font-size="15.2" text-anchor="middle" fill="#222" >0.721±0.002</text>
<text transform="translate(1772.6,1966.6) scale(1.01,1)" font-family="'Liberation Serif', serif" font-size="15.2" text-anchor="middle" fill="#222" >0.718±0.013</text>
<text transform="translate(1874.6,1966.6) scale(1.01,1)" font-family="'Liberation Serif', serif" font-size="15.2" text-anchor="middle" fill="#111" font-weight="bold" >0.726±0.003</text>
<text transform="translate(1315.7,1987) scale(1.01,1)" font-family="'Liberation Serif', serif" font-size="15.2" text-anchor="middle" fill="#222" >10</text>
<text transform="translate(1393.5,1987) scale(1.01,1)" font-family="'Liberation Serif', serif" font-size="15.2" text-anchor="middle" fill="#222" >0.06%</text>
<text transform="translate(1470.9,1987) scale(1.01,1)" font-family="'Liberation Serif', serif" font-size="15.2" text-anchor="middle" fill="#222" >0.720±0.011</text>
<text transform="translate(1572.7,1987) scale(1.01,1)" font-family="'Liberation Serif', serif" font-size="15.2" text-anchor="middle" fill="#222" >0.725±0.006</text>
<text transform="translate(1674.7,1987) scale(1.01,1)" font-family="'Liberation Serif', serif" font-size="15.2" text-anchor="middle" fill="#222" >0.713±0.009</text>
<text transform="translate(1772.6,1987) scale(1.01,1)" font-family="'Liberation Serif', serif" font-size="15.2" text-anchor="middle" fill="#222" >0.728±0.002</text>
<text transform="translate(1874.6,1987) scale(1.01,1)" font-family="'Liberation Serif', serif" font-size="15.2" text-anchor="middle" fill="#111" font-weight="bold" >0.728±0.005</text>
<text transform="translate(1315.7,2007.2) scale(1.01,1)" font-family="'Liberation Serif', serif" font-size="15.2" text-anchor="middle" fill="#222" >50</text>
<text transform="translate(1393.5,2007.2) scale(1.01,1)" font-family="'Liberation Serif', serif" font-size="15.2" text-anchor="middle" fill="#222" >0.3%</text>
<text transform="translate(1470.9,2007.2) scale(1.01,1)" font-family="'Liberation Serif', serif" font-size="15.2" text-anchor="middle" fill="#222" >0.721±0.014</text>
<text transform="translate(1572.7,2007.2) scale(1.01,1)" font-family="'Liberation Serif', serif" font-size="15.2" text-anchor="middle" fill="#222" >0.725±0.003</text>
<text transform="translate(1674.7,2007.2) scale(1.01,1)" font-family="'Liberation Serif', serif" font-size="15.2" text-anchor="middle" fill="#222" >0.725±0.006</text>
<text transform="translate(1772.6,2007.2) scale(1.01,1)" font-family="'Liberation Serif', serif" font-size="15.2" text-anchor="middle" fill="#222" >0.726±0.010</text>
<text transform="translate(1874.6,2007.2) scale(1.01,1)" font-family="'Liberation Serif', serif" font-size="15.2" text-anchor="middle" fill="#111" font-weight="bold" >0.731±0.004</text>
<text transform="translate(1986,1987) scale(1.01,1)" font-family="'Liberation Serif', serif" font-size="15.2" text-anchor="middle" fill="#222" >0.757±0.007</text>
<text transform="translate(1161.4,2046.2) scale(1.0807,1)" font-family="'Liberation Serif', serif" font-size="15.2" fill="#222" >DD</text>
<text transform="translate(1161.4,2066.6) scale(1.0807,1)" font-family="'Liberation Serif', serif" font-size="15.2" fill="#222" >(Accuracy)</text>
<text transform="translate(1315.7,2036.6) scale(1.01,1)" font-family="'Liberation Serif', serif" font-size="15.2" text-anchor="middle" fill="#222" >1</text>
<text transform="translate(1393.5,2036.6) scale(1.01,1)" font-family="'Liberation Serif', serif" font-size="15.2" text-anchor="middle" fill="#222" >0.2%</text>
<text transform="translate(1470.9,2036.6) scale(1.01,1)" font-family="'Liberation Serif', serif" font-size="15.2" text-anchor="middle" fill="#222" >57.69±4.92</text>
<text transform="translate(1572.7,2036.6) scale(1.01,1)" font-family="'Liberation Serif', serif" font-size="15.2" text-anchor="middle" fill="#222" >61.97±1.32</text>
<text transform="translate(1674.7,2036.6) scale(1.01,1)" font-family="'Liberation Serif', serif" font-size="15.2" text-anchor="middle" fill="#222" >61.97±1.32</text>
<text transform="translate(1772.6,2036.6) scale(1.01,1)" font-family="'Liberation Serif', serif" font-size="15.2" text-anchor="middle" fill="#222" >58.81±2.90</text>
<text transform="translate(1874.6,2036.6) scale(1.01,1)" font-family="'Liberation Serif', serif" font-size="15.2" text-anchor="middle" fill="#111" font-weight="bold" >70.42±2.21</text>
<text transform="translate(1315.7,2057) scale(1.01,1)" font-family="'Liberation Serif', serif" font-size="15.2" text-anchor="middle" fill="#222" >10</text>
<text transform="translate(1393.5,2057) scale(1.01,1)" font-family="'Liberation Serif', serif" font-size="15.2" text-anchor="middle" fill="#222" >2.1%</text>
<text transform="translate(1470.9,2057) scale(1.01,1)" font-family="'Liberation Serif', serif" font-size="15.2" text-anchor="middle" fill="#222" >64.69±2.55</text>
<text transform="translate(1572.7,2057) scale(1.01,1)" font-family="'Liberation Serif', serif" font-size="15.2" text-anchor="middle" fill="#222" >69.79±2.30</text>
<text transform="translate(1674.7,2057) scale(1.01,1)" font-family="'Liberation Serif', serif" font-size="15.2" text-anchor="middle" fill="#222" >63.46±2.38</text>
<text transform="translate(1772.6,2057) scale(1.01,1)" font-family="'Liberation Serif', serif" font-size="15.2" text-anchor="middle" fill="#222" >61.84±1.44</text>
<text transform="translate(1874.6,2057) scale(1.01,1)" font-family="'Liberation Serif', serif" font-size="15.2" text-anchor="middle" fill="#111" font-weight="bold" >73.53±1.13</text>
<text transform="translate(1315.7,2077.4) scale(1.01,1)" font-family="'Liberation Serif', serif" font-size="15.2" text-anchor="middle" fill="#222" >50</text>
<text transform="translate(1393.5,2077.4) scale(1.01,1)" font-family="'Liberation Serif', serif" font-size="15.2" text-anchor="middle" fill="#222" >10.6%</text>
<text transform="translate(1470.9,2077.4) scale(1.01,1)" font-family="'Liberation Serif', serif" font-size="15.2" text-anchor="middle" fill="#222" >67.29±1.53</text>
<text transform="translate(1572.7,2077.4) scale(1.01,1)" font-family="'Liberation Serif', serif" font-size="15.2" text-anchor="middle" fill="#222" >73.95±1.70</text>
<text transform="translate(1674.7,2077.4) scale(1.01,1)" font-family="'Liberation Serif', serif" font-size="15.2" text-anchor="middle" fill="#222" >67.41±0.92</text>
<text transform="translate(1772.6,2077.4) scale(1.01,1)" font-family="'Liberation Serif', serif" font-size="15.2" text-anchor="middle" fill="#222" >61.27±1.01</text>
<text transform="translate(1874.6,2077.4) scale(1.01,1)" font-family="'Liberation Serif', serif" font-size="15.2" text-anchor="middle" fill="#111" font-weight="bold" >77.04±1.86</text>
<text transform="translate(1986,2057) scale(1.01,1)" font-family="'Liberation Serif', serif" font-size="15.2" text-anchor="middle" fill="#222" >78.92±0.64</text>
<line x1="1161.4" y1="1777.7" x2="2035.8" y2="1777.7" stroke="#222" stroke-width="1.6"/>
<line x1="1161.4" y1="1807.5" x2="2035.8" y2="1807.5" stroke="#222" stroke-width="1.1"/>
<line x1="1161.4" y1="1877.5" x2="2035.8" y2="1877.5" stroke="#222" stroke-width="1.1"/>
<line x1="1161.4" y1="1947.6" x2="2035.8" y2="1947.6" stroke="#222" stroke-width="1.1"/>
<line x1="1161.4" y1="2017.5" x2="2035.8" y2="2017.5" stroke="#222" stroke-width="1.1"/>
<line x1="1161.4" y1="2087.6" x2="2035.8" y2="2087.6" stroke="#222" stroke-width="1.3"/>
<line x1="1822.4" y1="1783.5" x2="1822.4" y2="1803" stroke="#333" stroke-width="1"/>
<line x1="1822.4" y1="1812" x2="1822.4" y2="1873" stroke="#333" stroke-width="1"/>
<line x1="1822.4" y1="1882" x2="1822.4" y2="1943" stroke="#333" stroke-width="1"/>
<line x1="1822.4" y1="1952" x2="1822.4" y2="2013" stroke="#333" stroke-width="1"/>
<line x1="1822.4" y1="2022" x2="1822.4" y2="2083" stroke="#333" stroke-width="1"/>
<line x1="1926.8" y1="1783.5" x2="1926.8" y2="1803" stroke="#333" stroke-width="1"/>
<line x1="1926.8" y1="1812" x2="1926.8" y2="1873" stroke="#333" stroke-width="1"/>
<line x1="1926.8" y1="1882" x2="1926.8" y2="1943" stroke="#333" stroke-width="1"/>
<line x1="1926.8" y1="1952" x2="1926.8" y2="2013" stroke="#333" stroke-width="1"/>
<line x1="1926.8" y1="2022" x2="1926.8" y2="2083" stroke="#333" stroke-width="1"/>
<rect x="1828.5" y="1771.4" width="211.3" height="322.3" rx="24" ry="24" fill="none" stroke="#ff0000" stroke-width="2" stroke-dasharray="11 6.5"/>
<text transform="translate(2172.6,385.5) scale(1.0302,1)" font-family="'Liberation Serif', serif" font-size="13.5" fill="#222" >MUTAG</text>
<text transform="translate(2172.6,403.6) scale(1.0302,1)" font-family="'Liberation Serif', serif" font-size="13.5" fill="#222" >(Accuracy)</text>
<text transform="translate(2309.8,376.6) scale(1.01,1)" font-family="'Liberation Serif', serif" font-size="13.5" text-anchor="middle" fill="#222" >1</text>
<text transform="translate(2378.9,376.6) scale(1.01,1)" font-family="'Liberation Serif', serif" font-size="13.5" text-anchor="middle" fill="#222" >1.3%</text>
<text transform="translate(2447.3,376.6) scale(1.01,1)" font-family="'Liberation Serif', serif" font-size="13.5" text-anchor="middle" fill="#222" >67.47±9.74</text>
<text transform="translate(2537.6,376.6) scale(1.01,1)" font-family="'Liberation Serif', serif" font-size="13.5" text-anchor="middle" fill="#222" >70.84±7.71</text>
<text transform="translate(2627.9,376.6) scale(1.01,1)" font-family="'Liberation Serif', serif" font-size="13.5" text-anchor="middle" fill="#222" >70.84±7.71</text>
<text transform="translate(2714.8,376.6) scale(1.01,1)" font-family="'Liberation Serif', serif" font-size="13.5" text-anchor="middle" fill="#222" >75.00±8.16</text>
<text transform="translate(2805,376.6) scale(1.01,1)" font-family="'Liberation Serif', serif" font-size="13.5" text-anchor="middle" fill="#111" font-weight="bold" >82.21±1.61</text>
<text transform="translate(2309.8,394.6) scale(1.01,1)" font-family="'Liberation Serif', serif" font-size="13.5" text-anchor="middle" fill="#222" >10</text>
<text transform="translate(2378.9,394.6) scale(1.01,1)" font-family="'Liberation Serif', serif" font-size="13.5" text-anchor="middle" fill="#222" >13.3%</text>
<text transform="translate(2447.3,394.6) scale(1.01,1)" font-family="'Liberation Serif', serif" font-size="13.5" text-anchor="middle" fill="#222" >77.89±7.55</text>
<text transform="translate(2537.6,394.6) scale(1.01,1)" font-family="'Liberation Serif', serif" font-size="13.5" text-anchor="middle" fill="#222" >80.42±1.89</text>
<text transform="translate(2627.9,394.6) scale(1.01,1)" font-family="'Liberation Serif', serif" font-size="13.5" text-anchor="middle" fill="#222" >81.00±2.51</text>
<text transform="translate(2714.8,394.6) scale(1.01,1)" font-family="'Liberation Serif', serif" font-size="13.5" text-anchor="middle" fill="#222" >82.66±0.68</text>
<text transform="translate(2805,394.6) scale(1.01,1)" font-family="'Liberation Serif', serif" font-size="13.5" text-anchor="middle" fill="#111" font-weight="bold" >82.76±2.31</text>
<text transform="translate(2309.8,412.3) scale(1.01,1)" font-family="'Liberation Serif', serif" font-size="13.5" text-anchor="middle" fill="#222" >20</text>
<text transform="translate(2378.9,412.3) scale(1.01,1)" font-family="'Liberation Serif', serif" font-size="13.5" text-anchor="middle" fill="#222" >26.7%</text>
<text transform="translate(2447.3,412.3) scale(1.01,1)" font-family="'Liberation Serif', serif" font-size="13.5" text-anchor="middle" fill="#222" >78.21±5.13</text>
<text transform="translate(2537.6,412.3) scale(1.01,1)" font-family="'Liberation Serif', serif" font-size="13.5" text-anchor="middle" fill="#222" >80.00±1.10</text>
<text transform="translate(2627.9,412.3) scale(1.01,1)" font-family="'Liberation Serif', serif" font-size="13.5" text-anchor="middle" fill="#222" >82.97±4.91</text>
<text transform="translate(2714.8,412.3) scale(1.01,1)" font-family="'Liberation Serif', serif" font-size="13.5" text-anchor="middle" fill="#222" >82.89±1.03</text>
<text transform="translate(2805,412.3) scale(1.01,1)" font-family="'Liberation Serif', serif" font-size="13.5" text-anchor="middle" fill="#111" font-weight="bold" >83.26±2.34</text>
<text transform="translate(2903.8,394.6) scale(1.01,1)" font-family="'Liberation Serif', serif" font-size="13.5" text-anchor="middle" fill="#222" >88.63±1.44</text>
<text transform="translate(2172.6,447.5) scale(1.0302,1)" font-family="'Liberation Serif', serif" font-size="13.5" fill="#222" >NCI1</text>
<text transform="translate(2172.6,465.6) scale(1.0302,1)" font-family="'Liberation Serif', serif" font-size="13.5" fill="#222" >(Accuracy)</text>
<text transform="translate(2309.8,438.6) scale(1.01,1)" font-family="'Liberation Serif', serif" font-size="13.5" text-anchor="middle" fill="#222" >1</text>
<text transform="translate(2378.9,438.6) scale(1.01,1)" font-family="'Liberation Serif', serif" font-size="13.5" text-anchor="middle" fill="#222" >0.1%</text>
<text transform="translate(2447.3,438.6) scale(1.01,1)" font-family="'Liberation Serif', serif" font-size="13.5" text-anchor="middle" fill="#222" >51.27±1.22</text>
<text transform="translate(2537.6,438.6) scale(1.01,1)" font-family="'Liberation Serif', serif" font-size="13.5" text-anchor="middle" fill="#222" >53.98±0.67</text>
<text transform="translate(2627.9,438.6) scale(1.01,1)" font-family="'Liberation Serif', serif" font-size="13.5" text-anchor="middle" fill="#222" >53.98±0.67</text>
<text transform="translate(2714.8,438.6) scale(1.01,1)" font-family="'Liberation Serif', serif" font-size="13.5" text-anchor="middle" fill="#222" >51.14±1.08</text>
<text transform="translate(2805,438.6) scale(1.01,1)" font-family="'Liberation Serif', serif" font-size="13.5" text-anchor="middle" fill="#111" font-weight="bold" >56.58±0.48</text>
<text transform="translate(2309.8,456.4) scale(1.01,1)" font-family="'Liberation Serif', serif" font-size="13.5" text-anchor="middle" fill="#222" >10</text>
<text transform="translate(2378.9,456.4) scale(1.01,1)" font-family="'Liberation Serif', serif" font-size="13.5" text-anchor="middle" fill="#222" >0.6%</text>
<text transform="translate(2447.3,456.4) scale(1.01,1)" font-family="'Liberation Serif', serif" font-size="13.5" text-anchor="middle" fill="#222" >54.33±3.14</text>
<text transform="translate(2537.6,456.4) scale(1.01,1)" font-family="'Liberation Serif', serif" font-size="13.5" text-anchor="middle" fill="#222" >57.11±0.56</text>
<text transform="translate(2627.9,456.4) scale(1.01,1)" font-family="'Liberation Serif', serif" font-size="13.5" text-anchor="middle" fill="#222" >53.21±1.44</text>
<text transform="translate(2714.8,456.4) scale(1.01,1)" font-family="'Liberation Serif', serif" font-size="13.5" text-anchor="middle" fill="#222" >51.86±0.81</text>
<text transform="translate(2805,456.4) scale(1.01,1)" font-family="'Liberation Serif', serif" font-size="13.5" text-anchor="middle" fill="#111" font-weight="bold" >58.02±1.05</text>
<text transform="translate(2309.8,474.3) scale(1.01,1)" font-family="'Liberation Serif', serif" font-size="13.5" text-anchor="middle" fill="#222" >50</text>
<text transform="translate(2378.9,474.3) scale(1.01,1)" font-family="'Liberation Serif', serif" font-size="13.5" text-anchor="middle" fill="#222" >3.0%</text>
<text transform="translate(2447.3,474.3) scale(1.01,1)" font-family="'Liberation Serif', serif" font-size="13.5" text-anchor="middle" fill="#222" >58.51±1.73</text>
<text transform="translate(2537.6,474.3) scale(1.01,1)" font-family="'Liberation Serif', serif" font-size="13.5" text-anchor="middle" fill="#222" >58.94±0.83</text>
<text transform="translate(2627.9,474.3) scale(1.01,1)" font-family="'Liberation Serif', serif" font-size="13.5" text-anchor="middle" fill="#222" >56.58±3.08</text>
<text transform="translate(2714.8,474.3) scale(1.01,1)" font-family="'Liberation Serif', serif" font-size="13.5" text-anchor="middle" fill="#222" >52.17±1.90</text>
<text transform="translate(2805,474.3) scale(1.01,1)" font-family="'Liberation Serif', serif" font-size="13.5" text-anchor="middle" fill="#111" font-weight="bold" >60.07±1.58</text>
<text transform="translate(2903.8,456.4) scale(1.01,1)" font-family="'Liberation Serif', serif" font-size="13.5" text-anchor="middle" fill="#222" >71.70±0.20</text>
<text transform="translate(2172.6,509.6) scale(1.0302,1)" font-family="'Liberation Serif', serif" font-size="13.5" fill="#222" >CIFAR10</text>
<text transform="translate(2172.6,527.7) scale(1.0302,1)" font-family="'Liberation Serif', serif" font-size="13.5" fill="#222" >(Accuracy)</text>
<text transform="translate(2309.8,500.7) scale(1.01,1)" font-family="'Liberation Serif', serif" font-size="13.5" text-anchor="middle" fill="#222" >1</text>
<text transform="translate(2378.9,500.7) scale(1.01,1)" font-family="'Liberation Serif', serif" font-size="13.5" text-anchor="middle" fill="#222" >0.06%</text>
<text transform="translate(2447.3,500.7) scale(1.01,1)" font-family="'Liberation Serif', serif" font-size="13.5" text-anchor="middle" fill="#222" >15.61±0.52</text>
<text transform="translate(2537.6,500.7) scale(1.01,1)" font-family="'Liberation Serif', serif" font-size="13.5" text-anchor="middle" fill="#222" >22.38±0.49</text>
<text transform="translate(2627.9,500.7) scale(1.01,1)" font-family="'Liberation Serif', serif" font-size="13.5" text-anchor="middle" fill="#222" >22.37±0.50</text>
<text transform="translate(2714.8,500.7) scale(1.01,1)" font-family="'Liberation Serif', serif" font-size="13.5" text-anchor="middle" fill="#222" >21.60±0.42</text>
<text transform="translate(2805,500.7) scale(1.01,1)" font-family="'Liberation Serif', serif" font-size="13.5" text-anchor="middle" fill="#111" font-weight="bold" >24.70±0.70</text>
<text transform="translate(2309.8,518.7) scale(1.01,1)" font-family="'Liberation Serif', serif" font-size="13.5" text-anchor="middle" fill="#222" >10</text>
<text transform="translate(2378.9,518.7) scale(1.01,1)" font-family="'Liberation Serif', serif" font-size="13.5" text-anchor="middle" fill="#222" >0.2%</text>
<text transform="translate(2447.3,518.7) scale(1.01,1)" font-family="'Liberation Serif', serif" font-size="13.5" text-anchor="middle" fill="#222" >23.07±0.76</text>
<text transform="translate(2537.6,518.7) scale(1.01,1)" font-family="'Liberation Serif', serif" font-size="13.5" text-anchor="middle" fill="#222" >28.81±0.35</text>
<text transform="translate(2627.9,518.7) scale(1.01,1)" font-family="'Liberation Serif', serif" font-size="13.5" text-anchor="middle" fill="#222" >20.93±0.62</text>
<text transform="translate(2714.8,518.7) scale(1.01,1)" font-family="'Liberation Serif', serif" font-size="13.5" text-anchor="middle" fill="#222" >29.27±0.77</text>
<text transform="translate(2805,518.7) scale(1.01,1)" font-family="'Liberation Serif', serif" font-size="13.5" text-anchor="middle" fill="#111" font-weight="bold" >30.70±0.23</text>
<text transform="translate(2309.8,536.6) scale(1.01,1)" font-family="'Liberation Serif', serif" font-size="13.5" text-anchor="middle" fill="#222" >50</text>
<text transform="translate(2378.9,536.6) scale(1.01,1)" font-family="'Liberation Serif', serif" font-size="13.5" text-anchor="middle" fill="#222" >1.1%</text>
<text transform="translate(2447.3,536.6) scale(1.01,1)" font-family="'Liberation Serif', serif" font-size="13.5" text-anchor="middle" fill="#222" >30.56±0.81</text>
<text transform="translate(2537.6,536.6) scale(1.01,1)" font-family="'Liberation Serif', serif" font-size="13.5" text-anchor="middle" fill="#222" >33.94±0.37</text>
<text transform="translate(2627.9,536.6) scale(1.01,1)" font-family="'Liberation Serif', serif" font-size="13.5" text-anchor="middle" fill="#222" >24.17±0.51</text>
<text transform="translate(2714.8,536.6) scale(1.01,1)" font-family="'Liberation Serif', serif" font-size="13.5" text-anchor="middle" fill="#222" >34.47±0.52</text>
<text transform="translate(2805,536.6) scale(1.01,1)" font-family="'Liberation Serif', serif" font-size="13.5" text-anchor="middle" fill="#111" font-weight="bold" >35.34±0.14</text>
<text transform="translate(2903.8,518.7) scale(1.01,1)" font-family="'Liberation Serif', serif" font-size="13.5" text-anchor="middle" fill="#222" >50.75±0.14</text>
<text transform="translate(2172.6,571.9) scale(1.0302,1)" font-family="'Liberation Serif', serif" font-size="13.5" fill="#222" >E-commerce</text>
<text transform="translate(2172.6,590) scale(1.0302,1)" font-family="'Liberation Serif', serif" font-size="13.5" fill="#222" >(Accuracy)</text>
<text transform="translate(2309.8,563) scale(1.01,1)" font-family="'Liberation Serif', serif" font-size="13.5" text-anchor="middle" fill="#222" >1</text>
<text transform="translate(2378.9,563) scale(1.01,1)" font-family="'Liberation Serif', serif" font-size="13.5" text-anchor="middle" fill="#222" >0.2%</text>
<text transform="translate(2447.3,563) scale(1.01,1)" font-family="'Liberation Serif', serif" font-size="13.5" text-anchor="middle" fill="#222" >51.31±2.89</text>
<text transform="translate(2537.6,563) scale(1.01,1)" font-family="'Liberation Serif', serif" font-size="13.5" text-anchor="middle" fill="#222" >52.18±0.25</text>
<text transform="translate(2627.9,563) scale(1.01,1)" font-family="'Liberation Serif', serif" font-size="13.5" text-anchor="middle" fill="#222" >52.36±0.38</text>
<text transform="translate(2714.8,563) scale(1.01,1)" font-family="'Liberation Serif', serif" font-size="13.5" text-anchor="middle" fill="#222" >57.14±1.72</text>
<text transform="translate(2805,563) scale(1.01,1)" font-family="'Liberation Serif', serif" font-size="13.5" text-anchor="middle" fill="#111" font-weight="bold" >60.82±1.23</text>
<text transform="translate(2309.8,581) scale(1.01,1)" font-family="'Liberation Serif', serif" font-size="13.5" text-anchor="middle" fill="#222" >10</text>
<text transform="translate(2378.9,581) scale(1.01,1)" font-family="'Liberation Serif', serif" font-size="13.5" text-anchor="middle" fill="#222" >0.9%</text>
<text transform="translate(2447.3,581) scale(1.01,1)" font-family="'Liberation Serif', serif" font-size="13.5" text-anchor="middle" fill="#222" >54.99±2.74</text>
<text transform="translate(2537.6,581) scale(1.01,1)" font-family="'Liberation Serif', serif" font-size="13.5" text-anchor="middle" fill="#222" >56.83±0.87</text>
<text transform="translate(2627.9,581) scale(1.01,1)" font-family="'Liberation Serif', serif" font-size="13.5" text-anchor="middle" fill="#222" >56.49±0.36</text>
<text transform="translate(2714.8,581) scale(1.01,1)" font-family="'Liberation Serif', serif" font-size="13.5" text-anchor="middle" fill="#222" >61.03±1.32</text>
<text transform="translate(2805,581) scale(1.01,1)" font-family="'Liberation Serif', serif" font-size="13.5" text-anchor="middle" fill="#111" font-weight="bold" >64.73±1.34</text>
<text transform="translate(2309.8,598.8) scale(1.01,1)" font-family="'Liberation Serif', serif" font-size="13.5" text-anchor="middle" fill="#222" >20</text>
<text transform="translate(2378.9,598.8) scale(1.01,1)" font-family="'Liberation Serif', serif" font-size="13.5" text-anchor="middle" fill="#222" >3.6%</text>
<text transform="translate(2447.3,598.8) scale(1.01,1)" font-family="'Liberation Serif', serif" font-size="13.5" text-anchor="middle" fill="#222" >57.80±3.58</text>
<text transform="translate(2537.6,598.8) scale(1.01,1)" font-family="'Liberation Serif', serif" font-size="13.5" text-anchor="middle" fill="#222" >62.56±0.71</text>
<text transform="translate(2627.9,598.8) scale(1.01,1)" font-family="'Liberation Serif', serif" font-size="13.5" text-anchor="middle" fill="#222" >62.76±0.45</text>
<text transform="translate(2714.8,598.8) scale(1.01,1)" font-family="'Liberation Serif', serif" font-size="13.5" text-anchor="middle" fill="#222" >64.92±1.35</text>
<text transform="translate(2805,598.8) scale(1.01,1)" font-family="'Liberation Serif', serif" font-size="13.5" text-anchor="middle" fill="#111" font-weight="bold" >67.71±1.22</text>
<text transform="translate(2903.8,581) scale(1.01,1)" font-family="'Liberation Serif', serif" font-size="13.5" text-anchor="middle" fill="#222" >69.25±0.50</text>
<line x1="2172.6" y1="358.9" x2="2947.8" y2="358.9" stroke="#555" stroke-width="1.3"/>
<line x1="2172.6" y1="420.7" x2="2947.8" y2="420.7" stroke="#555" stroke-width="1"/>
<line x1="2172.6" y1="483.3" x2="2947.8" y2="483.3" stroke="#555" stroke-width="1"/>
<line x1="2172.6" y1="545.6" x2="2947.8" y2="545.6" stroke="#555" stroke-width="1"/>
<line x1="2172.6" y1="607.6" x2="2947.8" y2="607.6" stroke="#555" stroke-width="1.3"/>
<line x1="2758.3" y1="364" x2="2758.3" y2="417" stroke="#333" stroke-width="1"/>
<line x1="2758.3" y1="426" x2="2758.3" y2="479" stroke="#333" stroke-width="1"/>
<line x1="2758.3" y1="488" x2="2758.3" y2="541.5" stroke="#333" stroke-width="1"/>
<line x1="2758.3" y1="550" x2="2758.3" y2="603.5" stroke="#333" stroke-width="1"/>
<line x1="2851.5" y1="364" x2="2851.5" y2="417" stroke="#333" stroke-width="1"/>
<line x1="2851.5" y1="426" x2="2851.5" y2="479" stroke="#333" stroke-width="1"/>
<line x1="2851.5" y1="488" x2="2851.5" y2="541.5" stroke="#333" stroke-width="1"/>
<line x1="2851.5" y1="550" x2="2851.5" y2="603.5" stroke="#333" stroke-width="1"/>
<rect x="2755" y="356.7" width="197.8" height="251.3" rx="26" ry="26" fill="none" stroke="#ff0000" stroke-width="2" stroke-dasharray="11 6.5"/>
<rect x="2116" y="273" width="921" height="81" fill="#004735" />
<text transform="translate(2576.3,332.6) scale(0.9625,1)" font-family="'Liberation Serif', serif" font-size="50" text-anchor="middle" fill="#fff" font-weight="bold" >Experiments (Continued)</text>
<text transform="translate(2167.3,641.5) scale(0.9559,1)" font-family="'Liberation Sans', sans-serif" font-size="25.8" stroke="#fff" stroke-width="0.35">Particularly, we are able to reduce the dataset size by 90% while</text>
<text transform="translate(2167.3,671.3) scale(0.9702,1)" font-family="'Liberation Sans', sans-serif" font-size="25.8" stroke="#fff" stroke-width="0.35">approximating up to 98% of the original performance (DD dataset).</text>
<path d="M2130.6 695 L2149.1 704.75 L2130.6 714.5 L2137.26 704.75 Z" fill="#fff" stroke="#000" stroke-width="1.2" stroke-linejoin="miter"/>
<path d="M2137.26 704.75 L2149.1 704.75 L2130.6 714.5 Z" fill="#000"/>
<text transform="translate(2162,713.7) scale(1.0035,1)" font-family="'Liberation Sans', sans-serif" font-size="29.5" stroke="#fff" stroke-width="0.40"><tspan stroke="#000" stroke-width="0.55">Speed analysis &amp; learning larger synthetic set</tspan></text>
<line x1="2138.8" y1="731.8" x2="2673.2" y2="731.8" stroke="#000" stroke-width="1.6"/>
<line x1="2138.8" y1="763.2" x2="2673.2" y2="763.2" stroke="#000" stroke-width="1"/>
<line x1="2138.8" y1="859.1" x2="2673.2" y2="859.1" stroke="#000" stroke-width="1.6"/>
<line x1="2196.7" y1="738.8" x2="2196.7" y2="759" stroke="#333" stroke-width="1"/>
<line x1="2196.7" y1="770" x2="2196.7" y2="855" stroke="#333" stroke-width="1"/>
<line x1="2359" y1="738.8" x2="2359" y2="759" stroke="#333" stroke-width="1"/>
<line x1="2359" y1="770" x2="2359" y2="855" stroke="#333" stroke-width="1"/>
<line x1="2521.5" y1="738.8" x2="2521.5" y2="759" stroke="#333" stroke-width="1"/>
<line x1="2521.5" y1="770" x2="2521.5" y2="855" stroke="#333" stroke-width="1"/>
<text transform="translate(2277.5,753)" font-family="'Liberation Serif', serif" font-size="17.3" text-anchor="middle" fill="#222" >CIFAR10</text>
<text transform="translate(2439.9,753)" font-family="'Liberation Serif', serif" font-size="17.3" text-anchor="middle" fill="#222" >ogbg-molhiv</text>
<text transform="translate(2597,753)" font-family="'Liberation Serif', serif" font-size="17.3" text-anchor="middle" fill="#222" >DD</text>
<text transform="translate(2162.4,784.5) scale(1.03,1)" font-family="'Liberation Serif', serif" font-size="17.3" text-anchor="middle" fill="#222" >G./Cls.</text>
<text transform="translate(2235.9,784.5) scale(1.03,1)" font-family="'Liberation Serif', serif" font-size="17.3" text-anchor="middle" fill="#222" >Herding</text>
<text transform="translate(2317.5,784.5) scale(0.93,1)" font-family="'Liberation Serif', serif" font-size="17.3" text-anchor="middle" fill="#222" ><tspan font-style="italic">DosCond</tspan></text>
<text transform="translate(2398.2,784.5) scale(1.03,1)" font-family="'Liberation Serif', serif" font-size="17.3" text-anchor="middle" fill="#222" >Herding</text>
<text transform="translate(2479.8,784.5) scale(0.93,1)" font-family="'Liberation Serif', serif" font-size="17.3" text-anchor="middle" fill="#222" ><tspan font-style="italic">DosCond</tspan></text>
<text transform="translate(2561,784.5) scale(1.03,1)" font-family="'Liberation Serif', serif" font-size="17.3" text-anchor="middle" fill="#222" >Herding</text>
<text transform="translate(2642.6,784.5) scale(0.93,1)" font-family="'Liberation Serif', serif" font-size="17.3" text-anchor="middle" fill="#222" ><tspan font-style="italic">DosCond</tspan></text>
<text transform="translate(2162.4,806)" font-family="'Liberation Serif', serif" font-size="16.6" text-anchor="middle" fill="#222" >1</text>
<text transform="translate(2235.9,806)" font-family="'Liberation Serif', serif" font-size="16.6" text-anchor="middle" fill="#222" >44.5m</text>
<text transform="translate(2317.5,806)" font-family="'Liberation Serif', serif" font-size="16.6" text-anchor="middle" fill="#222" >4.7m</text>
<text transform="translate(2398.2,806)" font-family="'Liberation Serif', serif" font-size="16.6" text-anchor="middle" fill="#222" >4.3m</text>
<text transform="translate(2479.8,806)" font-family="'Liberation Serif', serif" font-size="16.6" text-anchor="middle" fill="#222" >0.66m</text>
<text transform="translate(2561,806)" font-family="'Liberation Serif', serif" font-size="16.6" text-anchor="middle" fill="#222" >1.6m</text>
<text transform="translate(2642.6,806)" font-family="'Liberation Serif', serif" font-size="16.6" text-anchor="middle" fill="#222" >1.5m</text>
<text transform="translate(2162.4,827.7)" font-family="'Liberation Serif', serif" font-size="16.6" text-anchor="middle" fill="#222" >10</text>
<text transform="translate(2235.9,827.7)" font-family="'Liberation Serif', serif" font-size="16.6" text-anchor="middle" fill="#222" >44.5m</text>
<text transform="translate(2317.5,827.7)" font-family="'Liberation Serif', serif" font-size="16.6" text-anchor="middle" fill="#222" >4.9m</text>
<text transform="translate(2398.2,827.7)" font-family="'Liberation Serif', serif" font-size="16.6" text-anchor="middle" fill="#222" >4.3m</text>
<text transform="translate(2479.8,827.7)" font-family="'Liberation Serif', serif" font-size="16.6" text-anchor="middle" fill="#222" >0.67m</text>
<text transform="translate(2561,827.7)" font-family="'Liberation Serif', serif" font-size="16.6" text-anchor="middle" fill="#222" >1.6m</text>
<text transform="translate(2642.6,827.7)" font-family="'Liberation Serif', serif" font-size="16.6" text-anchor="middle" fill="#222" >1.5m</text>
<text transform="translate(2162.4,849.3)" font-family="'Liberation Serif', serif" font-size="16.6" text-anchor="middle" fill="#222" >50</text>
<text transform="translate(2235.9,849.3)" font-family="'Liberation Serif', serif" font-size="16.6" text-anchor="middle" fill="#222" >44.5m</text>
<text transform="translate(2317.5,849.3)" font-family="'Liberation Serif', serif" font-size="16.6" text-anchor="middle" fill="#222" >5.7m</text>
<text transform="translate(2398.2,849.3)" font-family="'Liberation Serif', serif" font-size="16.6" text-anchor="middle" fill="#222" >4.3m</text>
<text transform="translate(2479.8,849.3)" font-family="'Liberation Serif', serif" font-size="16.6" text-anchor="middle" fill="#222" >0.68m</text>
<text transform="translate(2561,849.3)" font-family="'Liberation Serif', serif" font-size="16.6" text-anchor="middle" fill="#222" >1.6m</text>
<text transform="translate(2642.6,849.3)" font-family="'Liberation Serif', serif" font-size="16.6" text-anchor="middle" fill="#222" >2.0m</text>
<text transform="translate(2714,747.7) scale(0.9672,1)" font-family="'Liberation Sans', sans-serif" font-size="25.8" stroke="#fff" stroke-width="0.35">Our method is significantly</text>
<text transform="translate(2714,777.5) scale(0.9606,1)" font-family="'Liberation Sans', sans-serif" font-size="25.8" stroke="#fff" stroke-width="0.35">faster than multi-step</text>
<text transform="translate(2714,807.3) scale(0.9766,1)" font-family="'Liberation Sans', sans-serif" font-size="25.8" stroke="#fff" stroke-width="0.35">gradient matching: 15× in</text>
<text transform="translate(2714,837) scale(0.9324,1)" font-family="'Liberation Sans', sans-serif" font-size="25.8" stroke="#fff" stroke-width="0.35">CIFAR10 for synthesizing</text>
<text transform="translate(2714,866.5) scale(0.9371,1)" font-family="'Liberation Sans', sans-serif" font-size="25.8" stroke="#fff" stroke-width="0.35">500 graphs.</text>
<text transform="translate(2716,946) scale(0.9472,1)" font-family="'Liberation Sans', sans-serif" font-size="25.8" stroke="#fff" stroke-width="0.35">Both <tspan font-style="italic">Random</tspan> and</text>
<text transform="translate(2716,975.5) scale(0.9658,1)" font-family="'Liberation Sans', sans-serif" font-size="25.8" stroke="#fff" stroke-width="0.35"><tspan font-style="italic">DosCond</tspan> achieve better</text>
<text transform="translate(2716,1005.2) scale(0.9566,1)" font-family="'Liberation Sans', sans-serif" font-size="25.8" stroke="#fff" stroke-width="0.35">performance when we</text>
<text transform="translate(2716,1034.7) scale(0.9588,1)" font-family="'Liberation Sans', sans-serif" font-size="25.8" stroke="#fff" stroke-width="0.35">increase the number of</text>
<text transform="translate(2716,1064.3) scale(0.9506,1)" font-family="'Liberation Sans', sans-serif" font-size="25.8" stroke="#fff" stroke-width="0.35">samples used for training.</text>
<path d="M2130.6 1156.7 L2149.1 1166.45 L2130.6 1176.2 L2137.26 1166.45 Z" fill="#fff" stroke="#000" stroke-width="1.2" stroke-linejoin="miter"/>
<path d="M2137.26 1166.45 L2149.1 1166.45 L2130.6 1176.2 Z" fill="#000"/>
<text transform="translate(2161.2,1175.5) scale(1.0165,1)" font-family="'Liberation Sans', sans-serif" font-size="29.5" stroke="#fff" stroke-width="0.40"><tspan stroke="#000" stroke-width="0.55">Visualizations of embeddings learned with condensed graphs</tspan></text>
<text transform="translate(2142.8,1399) scale(0.9564,1)" font-family="'Liberation Sans', sans-serif" font-size="25.8" stroke="#fff" stroke-width="0.35">The representations are well separated for different classes when learned with</text>
<text transform="translate(2142.8,1428.8) scale(0.9509,1)" font-family="'Liberation Sans', sans-serif" font-size="25.8" stroke="#fff" stroke-width="0.35">DosCond graphs (c) and they are as discriminative as those learned on the</text>
<text transform="translate(2142.8,1458.4) scale(0.9595,1)" font-family="'Liberation Sans', sans-serif" font-size="25.8" stroke="#fff" stroke-width="0.35">whole training dataset (d).</text>
<path d="M2130.6 1478.3 L2149.1 1488.05 L2130.6 1497.8 L2137.26 1488.05 Z" fill="#fff" stroke="#000" stroke-width="1.2" stroke-linejoin="miter"/>
<path d="M2137.26 1488.05 L2149.1 1488.05 L2130.6 1497.8 Z" fill="#000"/>
<text transform="translate(2162,1497) scale(1.0123,1)" font-family="'Liberation Sans', sans-serif" font-size="29.5" stroke="#fff" stroke-width="0.40"><tspan stroke="#000" stroke-width="0.55">Node classification</tspan></text>
<line x1="2140.8" y1="1521.9" x2="3013.9" y2="1521.9" stroke="#000" stroke-width="1.8"/>
<line x1="2140.8" y1="1559" x2="3013.9" y2="1559" stroke="#000" stroke-width="1"/>
<line x1="2140.8" y1="1621.4" x2="3013.9" y2="1621.4" stroke="#000" stroke-width="1"/>
<line x1="2140.8" y1="1657.5" x2="3013.9" y2="1657.5" stroke="#000" stroke-width="1.6"/>
<text transform="translate(2342.8,1546.8) scale(1.02,1)" font-family="'Liberation Serif', serif" font-size="18.7" text-anchor="middle" fill="#222" >Cora, <tspan font-style="italic">r</tspan>=2.6%</text>
<text transform="translate(2488.4,1546.8) scale(1.02,1)" font-family="'Liberation Serif', serif" font-size="18.7" text-anchor="middle" fill="#222" >Citeseer, <tspan font-style="italic">r</tspan>=1.8%</text>
<text transform="translate(2648,1546.8) scale(1.02,1)" font-family="'Liberation Serif', serif" font-size="18.7" text-anchor="middle" fill="#222" >Pubmed, <tspan font-style="italic">r</tspan>=0.3%</text>
<text transform="translate(2801.8,1546.8) scale(1.02,1)" font-family="'Liberation Serif', serif" font-size="18.7" text-anchor="middle" fill="#222" >Arxiv, <tspan font-style="italic">r</tspan>=0.25%</text>
<text transform="translate(2944.6,1546.8) scale(1.02,1)" font-family="'Liberation Serif', serif" font-size="18.7" text-anchor="middle" fill="#222" >Flickr, <tspan font-style="italic">r</tspan>=0.1%</text>
<text transform="translate(2140.8,1583.9)" font-family="'Liberation Serif', serif" font-size="18.7" fill="#222" font-style="italic" >GCond</text>
<text transform="translate(2140.8,1609.2)" font-family="'Liberation Serif', serif" font-size="18.7" fill="#222" font-style="italic" >DosCond</text>
<text transform="translate(2140.8,1645.3) scale(1.09,1)" font-family="'Liberation Serif', serif" font-size="18.7" fill="#222" >Whole Dataset</text>
<text transform="translate(2342.8,1583.9)" font-family="'Liberation Serif', serif" font-size="18.7" text-anchor="middle" fill="#222" >80.1 (75.9s)</text>
<text transform="translate(2488.4,1583.9)" font-family="'Liberation Serif', serif" font-size="18.7" text-anchor="middle" fill="#222" >70.6 (71.8s)</text>
<text transform="translate(2648,1583.9)" font-family="'Liberation Serif', serif" font-size="18.7" text-anchor="middle" fill="#222" >77.9 (51.7s)</text>
<text transform="translate(2801.8,1583.9)" font-family="'Liberation Serif', serif" font-size="18.7" text-anchor="middle" fill="#222" >59.2 (494.3s)</text>
<text transform="translate(2951.5,1583.9)" font-family="'Liberation Serif', serif" font-size="18.7" text-anchor="middle" fill="#222" >46.5 (51.9s)</text>
<text transform="translate(2342.8,1609.2)" font-family="'Liberation Serif', serif" font-size="18.7" text-anchor="middle" fill="#222" >80.0 (3.5s)</text>
<text transform="translate(2488.4,1609.2)" font-family="'Liberation Serif', serif" font-size="18.7" text-anchor="middle" fill="#222" >71.0 (2.8s)</text>
<text transform="translate(2648,1609.2)" font-family="'Liberation Serif', serif" font-size="18.7" text-anchor="middle" fill="#222" >76.0 (1.3s)</text>
<text transform="translate(2801.8,1609.2)" font-family="'Liberation Serif', serif" font-size="18.7" text-anchor="middle" fill="#222" >59.0 (32.9s)</text>
<text transform="translate(2951.5,1609.2)" font-family="'Liberation Serif', serif" font-size="18.7" text-anchor="middle" fill="#222" >46.1 (14.3s)</text>
<text transform="translate(2342.8,1645.3)" font-family="'Liberation Serif', serif" font-size="18.7" text-anchor="middle" fill="#222" >81.5</text>
<text transform="translate(2488.4,1645.3)" font-family="'Liberation Serif', serif" font-size="18.7" text-anchor="middle" fill="#222" >71.7</text>
<text transform="translate(2648,1645.3)" font-family="'Liberation Serif', serif" font-size="18.7" text-anchor="middle" fill="#222" >79.3</text>
<text transform="translate(2801.8,1645.3)" font-family="'Liberation Serif', serif" font-size="18.7" text-anchor="middle" fill="#222" >71.4</text>
<text transform="translate(2951.5,1645.3)" font-family="'Liberation Serif', serif" font-size="18.7" text-anchor="middle" fill="#222" >47.2</text>
<circle cx="2151.8" cy="1702.1" r="3.3" fill="#000"/>
<text transform="translate(2181.6,1710.6) scale(1.0543,1)" font-family="'Liberation Sans', sans-serif" font-size="25.8" stroke="#fff" stroke-width="0.35">The proposed <tspan font-style="italic">DosCond</tspan> achieves similar performance as <tspan font-style="italic">GCond</tspan></text>
<text transform="translate(2181.6,1742.5) scale(1.0644,1)" font-family="'Liberation Sans', sans-serif" font-size="25.8" stroke="#fff" stroke-width="0.35">and the performance is also comparable to the original dataset.</text>
<circle cx="2151.8" cy="1766.5" r="3.3" fill="#000"/>
<text transform="translate(2181.6,1775) scale(1.0558,1)" font-family="'Liberation Sans', sans-serif" font-size="25.8" stroke="#fff" stroke-width="0.35">The training cost of <tspan font-style="italic">DosCond</tspan> is essentially lower than <tspan font-style="italic">GCond</tspan>.</text>
<text transform="translate(2127.7,1948.4) scale(0.9850,1)" word-spacing="16.02" font-family="'Liberation Sans', sans-serif" font-size="26.8" stroke="#fff" stroke-width="0.36">Wei Jin and Jiliang Tang are supported by the National Science</text>
<text transform="translate(2127.7,1981) scale(0.9850,1)" word-spacing="18.83" font-family="'Liberation Sans', sans-serif" font-size="26.8" stroke="#fff" stroke-width="0.36">Foundation (NSF) under grant numbers IIS1714741, CNS1815636,</text>
<text transform="translate(2127.7,2013.7) scale(0.9850,1)" word-spacing="18.39" font-family="'Liberation Sans', sans-serif" font-size="26.8" stroke="#fff" stroke-width="0.36">IIS1845081, IIS1907704, IIS1928278, IIS1955285, IOS2107215, and</text>
<text transform="translate(2127.7,2046.3) scale(0.9850,1)" word-spacing="14.20" font-family="'Liberation Sans', sans-serif" font-size="26.8" stroke="#fff" stroke-width="0.36">IOS2035472, the Army Research Office (ARO) under grant number</text>
<text transform="translate(2127.7,2079) scale(1.0199,1)" font-family="'Liberation Sans', sans-serif" font-size="26.8" stroke="#fff" stroke-width="0.36">W911NF-21-1-0198, and Amazon.com, Inc.</text>
<g><rect x="184.6" y="584.0" width="19.2" height="19.1" fill="#fff" stroke="#c4c4c4" stroke-width="1.1"/><rect x="205.4" y="584.0" width="19.2" height="19.1" fill="#fff" stroke="#c4c4c4" stroke-width="1.1"/><rect x="226.2" y="584.0" width="19.2" height="19.1" fill="#fff" stroke="#c4c4c4" stroke-width="1.1"/><rect x="247.0" y="584.0" width="19.2" height="19.1" fill="#fff" stroke="#c4c4c4" stroke-width="1.1"/><rect x="267.8" y="584.0" width="19.2" height="19.1" fill="#fff" stroke="#c4c4c4" stroke-width="1.1"/><rect x="288.6" y="584.0" width="19.2" height="19.1" fill="#fff" stroke="#c4c4c4" stroke-width="1.1"/><rect x="184.6" y="604.8" width="19.2" height="19.1" fill="#fff" stroke="#c4c4c4" stroke-width="1.1"/><rect x="205.4" y="604.8" width="19.2" height="19.1" fill="#fff" stroke="#c4c4c4" stroke-width="1.1"/><rect x="226.2" y="604.8" width="19.2" height="19.1" fill="#fff" stroke="#c4c4c4" stroke-width="1.1"/><rect x="247.0" y="604.8" width="19.2" height="19.1" fill="#fff" stroke="#c4c4c4" stroke-width="1.1"/><rect x="267.8" y="604.8" width="19.2" height="19.1" fill="#fff" stroke="#c4c4c4" stroke-width="1.1"/><rect x="288.6" y="604.8" width="19.2" height="19.1" fill="#fff" stroke="#c4c4c4" stroke-width="1.1"/><rect x="184.6" y="625.5" width="19.2" height="19.1" fill="#fff" stroke="#c4c4c4" stroke-width="1.1"/><rect x="205.4" y="625.5" width="19.2" height="19.1" fill="#fff" stroke="#c4c4c4" stroke-width="1.1"/><rect x="226.2" y="625.5" width="19.2" height="19.1" fill="#fff" stroke="#c4c4c4" stroke-width="1.1"/><rect x="247.0" y="625.5" width="19.2" height="19.1" fill="#fff" stroke="#c4c4c4" stroke-width="1.1"/><rect x="267.8" y="625.5" width="19.2" height="19.1" fill="#fff" stroke="#c4c4c4" stroke-width="1.1"/><rect x="288.6" y="625.5" width="19.2" height="19.1" fill="#fff" stroke="#c4c4c4" stroke-width="1.1"/><rect x="184.6" y="646.2" width="19.2" height="19.1" fill="#fff" stroke="#c4c4c4" stroke-width="1.1"/><rect x="205.4" y="646.2" width="19.2" height="19.1" fill="#fff" stroke="#c4c4c4" stroke-width="1.1"/><rect x="226.2" y="646.2" width="19.2" height="19.1" fill="#fff" stroke="#c4c4c4" stroke-width="1.1"/><rect x="247.0" y="646.2" width="19.2" height="19.1" fill="#fff" stroke="#c4c4c4" stroke-width="1.1"/><rect x="267.8" y="646.2" width="19.2" height="19.1" fill="#fff" stroke="#c4c4c4" stroke-width="1.1"/><rect x="288.6" y="646.2" width="19.2" height="19.1" fill="#fff" stroke="#c4c4c4" stroke-width="1.1"/><rect x="184.6" y="667.0" width="19.2" height="19.1" fill="#fff" stroke="#c4c4c4" stroke-width="1.1"/><rect x="205.4" y="667.0" width="19.2" height="19.1" fill="#fff" stroke="#c4c4c4" stroke-width="1.1"/><rect x="226.2" y="667.0" width="19.2" height="19.1" fill="#fff" stroke="#c4c4c4" stroke-width="1.1"/><rect x="247.0" y="667.0" width="19.2" height="19.1" fill="#fff" stroke="#c4c4c4" stroke-width="1.1"/><rect x="267.8" y="667.0" width="19.2" height="19.1" fill="#fff" stroke="#c4c4c4" stroke-width="1.1"/><rect x="288.6" y="667.0" width="19.2" height="19.1" fill="#fff" stroke="#c4c4c4" stroke-width="1.1"/></g>
<text transform="translate(194.2,600.2) rotate(5) skewX(-12)" font-family="'DejaVu Sans', sans-serif" font-size="16.5" font-weight="bold" text-anchor="middle" fill="#111">8</text>
<text transform="translate(215.0,600.2) rotate(12) skewX(-12)" font-family="'DejaVu Sans', sans-serif" font-size="16.5" font-weight="bold" text-anchor="middle" fill="#111">4</text>
<text transform="translate(235.8,600.2) rotate(-8) skewX(-12)" font-family="'DejaVu Sans', sans-serif" font-size="16.5" font-weight="bold" text-anchor="middle" fill="#111">9</text>
<text transform="translate(256.6,600.2) rotate(-4) skewX(-12)" font-family="'DejaVu Sans', sans-serif" font-size="16.5" font-weight="bold" text-anchor="middle" fill="#111">7</text>
<text transform="translate(277.4,600.2) rotate(0) skewX(-12)" font-family="'DejaVu Sans', sans-serif" font-size="16.5" font-weight="bold" text-anchor="middle" fill="#111">5</text>
<text transform="translate(298.2,600.2) rotate(0) skewX(-12)" font-family="'DejaVu Sans', sans-serif" font-size="16.5" font-weight="bold" text-anchor="middle" fill="#111">3</text>
<text transform="translate(194.2,621.0) rotate(5) skewX(-12)" font-family="'DejaVu Sans', sans-serif" font-size="16.5" font-weight="bold" text-anchor="middle" fill="#111">9</text>
<text transform="translate(215.0,621.0) rotate(-8) skewX(-12)" font-family="'DejaVu Sans', sans-serif" font-size="16.5" font-weight="bold" text-anchor="middle" fill="#111">0</text>
<text transform="translate(235.8,621.0) rotate(-8) skewX(-12)" font-family="'DejaVu Sans', sans-serif" font-size="16.5" font-weight="bold" text-anchor="middle" fill="#111">5</text>
<text transform="translate(256.6,621.0) rotate(-8) skewX(-12)" font-family="'DejaVu Sans', sans-serif" font-size="16.5" font-weight="bold" text-anchor="middle" fill="#111">3</text>
<text transform="translate(277.4,621.0) rotate(0) skewX(-12)" font-family="'DejaVu Sans', sans-serif" font-size="16.5" font-weight="bold" text-anchor="middle" fill="#111">0</text>
<text transform="translate(298.2,621.0) rotate(15) skewX(-12)" font-family="'DejaVu Sans', sans-serif" font-size="16.5" font-weight="bold" text-anchor="middle" fill="#111">1</text>
<text transform="translate(194.2,641.7) rotate(12) skewX(-12)" font-family="'DejaVu Sans', sans-serif" font-size="16.5" font-weight="bold" text-anchor="middle" fill="#111">9</text>
<text transform="translate(215.0,641.7) rotate(-8) skewX(-12)" font-family="'DejaVu Sans', sans-serif" font-size="16.5" font-weight="bold" text-anchor="middle" fill="#111">4</text>
<text transform="translate(235.8,641.7) rotate(5) skewX(-12)" font-family="'DejaVu Sans', sans-serif" font-size="16.5" font-weight="bold" text-anchor="middle" fill="#111">8</text>
<text transform="translate(256.6,641.7) rotate(15) skewX(-12)" font-family="'DejaVu Sans', sans-serif" font-size="16.5" font-weight="bold" text-anchor="middle" fill="#111">5</text>
<text transform="translate(277.4,641.7) rotate(15) skewX(-12)" font-family="'DejaVu Sans', sans-serif" font-size="16.5" font-weight="bold" text-anchor="middle" fill="#111">0</text>
<text transform="translate(298.2,641.7) rotate(12) skewX(-12)" font-family="'DejaVu Sans', sans-serif" font-size="16.5" font-weight="bold" text-anchor="middle" fill="#111">0</text>
<text transform="translate(194.2,662.5) rotate(12) skewX(-12)" font-family="'DejaVu Sans', sans-serif" font-size="16.5" font-weight="bold" text-anchor="middle" fill="#111">0</text>
<text transform="translate(215.0,662.5) rotate(5) skewX(-12)" font-family="'DejaVu Sans', sans-serif" font-size="16.5" font-weight="bold" text-anchor="middle" fill="#111">2</text>
<text transform="translate(235.8,662.5) rotate(-8) skewX(-12)" font-family="'DejaVu Sans', sans-serif" font-size="16.5" font-weight="bold" text-anchor="middle" fill="#111">3</text>
<text transform="translate(256.6,662.5) rotate(12) skewX(-12)" font-family="'DejaVu Sans', sans-serif" font-size="16.5" font-weight="bold" text-anchor="middle" fill="#111">4</text>
<text transform="translate(277.4,662.5) rotate(5) skewX(-12)" font-family="'DejaVu Sans', sans-serif" font-size="16.5" font-weight="bold" text-anchor="middle" fill="#111">8</text>
<text transform="translate(298.2,662.5) rotate(-8) skewX(-12)" font-family="'DejaVu Sans', sans-serif" font-size="16.5" font-weight="bold" text-anchor="middle" fill="#111">7</text>
<text transform="translate(194.2,683.2) rotate(-4) skewX(-12)" font-family="'DejaVu Sans', sans-serif" font-size="16.5" font-weight="bold" text-anchor="middle" fill="#111">5</text>
<text transform="translate(215.0,683.2) rotate(12) skewX(-12)" font-family="'DejaVu Sans', sans-serif" font-size="16.5" font-weight="bold" text-anchor="middle" fill="#111">9</text>
<text transform="translate(235.8,683.2) rotate(12) skewX(-12)" font-family="'DejaVu Sans', sans-serif" font-size="16.5" font-weight="bold" text-anchor="middle" fill="#111">2</text>
<text transform="translate(256.6,683.2) rotate(5) skewX(-12)" font-family="'DejaVu Sans', sans-serif" font-size="16.5" font-weight="bold" text-anchor="middle" fill="#111">7</text>
<text transform="translate(277.4,683.2) rotate(5) skewX(-12)" font-family="'DejaVu Sans', sans-serif" font-size="16.5" font-weight="bold" text-anchor="middle" fill="#111">5</text>
<text transform="translate(298.2,683.2) rotate(12) skewX(-12)" font-family="'DejaVu Sans', sans-serif" font-size="16.5" font-weight="bold" text-anchor="middle" fill="#111">3</text>
<text transform="translate(249.2,717) scale(1.0120,1)" font-family="'Liberation Sans', sans-serif" font-size="20.3" text-anchor="middle" >60K images</text>
<text transform="translate(346,618.2) scale(1.0046,1)" font-family="'Liberation Sans', sans-serif" font-size="20.3" text-anchor="middle" >distill</text>
<rect x="324" y="629" width="2.2" height="11" fill="#bbb"/>
<path d="M327 629 H357 V617.8 L375 634.8 L357 651.8 V640 H327 Z" fill="#000"/>
<defs><filter id="nz" x="0" y="0" width="100%" height="100%" color-interpolation-filters="sRGB"><feTurbulence type="fractalNoise" baseFrequency="0.3" numOctaves="2" seed="11"/><feColorMatrix type="matrix" values="1 0 0 0 0  1 0 0 0 0  1 0 0 0 0  0 0 0 0 1" result="f"/><feTurbulence type="fractalNoise" baseFrequency="0.05" numOctaves="1" seed="5"/><feColorMatrix type="matrix" values="1 0 0 0 0  1 0 0 0 0  1 0 0 0 0  0 0 0 0 1" result="c"/><feComposite in="f" in2="c" operator="arithmetic" k1="0" k2="1" k3="0.7" k4="0" result="s"/><feColorMatrix in="s" type="matrix" values="8 0 0 0 -5.55  8 0 0 0 -5.55  8 0 0 0 -5.55  0 0 0 0 1"/></filter></defs>
<rect x="391" y="579.6" width="261.2" height="102.6" fill="#fff" filter="url(#nz)"/>
<rect x="439.9" y="579" width="4.2" height="104" fill="#fff" />
<rect x="493" y="579" width="4.2" height="104" fill="#fff" />
<rect x="546.1" y="579" width="4.3" height="104" fill="#fff" />
<rect x="599.3" y="579" width="4" height="104" fill="#fff" />
<rect x="391" y="627.8" width="262" height="7" fill="#fff" />
<rect x="391" y="579.6" width="48.9" height="48.2" fill="none" stroke="#d5d5d5" stroke-width="0.8"/>
<rect x="391" y="634.8" width="48.9" height="47.4" fill="none" stroke="#d5d5d5" stroke-width="0.8"/>
<rect x="444.1" y="579.6" width="48.9" height="48.2" fill="none" stroke="#d5d5d5" stroke-width="0.8"/>
<rect x="444.1" y="634.8" width="48.9" height="47.4" fill="none" stroke="#d5d5d5" stroke-width="0.8"/>
<rect x="497.2" y="579.6" width="48.9" height="48.2" fill="none" stroke="#d5d5d5" stroke-width="0.8"/>
<rect x="497.2" y="634.8" width="48.9" height="47.4" fill="none" stroke="#d5d5d5" stroke-width="0.8"/>
<rect x="550.4" y="579.6" width="48.9" height="48.2" fill="none" stroke="#d5d5d5" stroke-width="0.8"/>
<rect x="550.4" y="634.8" width="48.9" height="47.4" fill="none" stroke="#d5d5d5" stroke-width="0.8"/>
<rect x="603.3" y="579.6" width="48.9" height="48.2" fill="none" stroke="#d5d5d5" stroke-width="0.8"/>
<rect x="603.3" y="634.8" width="48.9" height="47.4" fill="none" stroke="#d5d5d5" stroke-width="0.8"/>
<text transform="translate(524.6,707) scale(0.9960,1)" font-family="'Liberation Sans', sans-serif" font-size="20.3" text-anchor="middle" >10 images</text>
<rect x="667.2" y="628.8" width="38.3" height="7.3" fill="#666" />
<rect x="682.7" y="614" width="7.3" height="37.3" fill="#666" />
<path d="M736.0 598.3 L736.0 641.3 M736.0 598.3 L764.2 641.3 M736.0 598.3 L792.1 641.3 M736.0 598.3 L820.2 641.3 M736.0 598.3 L848.0 641.3 M764.2 598.3 L736.0 641.3 M764.2 598.3 L764.2 641.3 M764.2 598.3 L792.1 641.3 M764.2 598.3 L820.2 641.3 M764.2 598.3 L848.0 641.3 M792.1 598.3 L736.0 641.3 M792.1 598.3 L764.2 641.3 M792.1 598.3 L792.1 641.3 M792.1 598.3 L820.2 641.3 M792.1 598.3 L848.0 641.3 M820.2 598.3 L736.0 641.3 M820.2 598.3 L764.2 641.3 M820.2 598.3 L792.1 641.3 M820.2 598.3 L820.2 641.3 M820.2 598.3 L848.0 641.3 M848.0 598.3 L736.0 641.3 M848.0 598.3 L764.2 641.3 M848.0 598.3 L792.1 641.3 M848.0 598.3 L820.2 641.3 M848.0 598.3 L848.0 641.3 M736.0 641.3 L764.2 685 M736.0 641.3 L792.1 685 M736.0 641.3 L820.2 685 M764.2 641.3 L764.2 685 M764.2 641.3 L792.1 685 M764.2 641.3 L820.2 685 M792.1 641.3 L764.2 685 M792.1 641.3 L792.1 685 M792.1 641.3 L820.2 685 M820.2 641.3 L764.2 685 M820.2 641.3 L792.1 685 M820.2 641.3 L820.2 685 M848.0 641.3 L764.2 685 M848.0 641.3 L792.1 685 M848.0 641.3 L820.2 685" stroke="#000" stroke-width="0.9" fill="none"/>
<g fill="#fff" stroke="#000" stroke-width="1.9"><circle cx="736.0" cy="598.3" r="8.8"/><circle cx="736.0" cy="641.3" r="8.8"/><circle cx="764.2" cy="598.3" r="8.8"/><circle cx="764.2" cy="641.3" r="8.8"/><circle cx="792.1" cy="598.3" r="8.8"/><circle cx="792.1" cy="641.3" r="8.8"/><circle cx="820.2" cy="598.3" r="8.8"/><circle cx="820.2" cy="641.3" r="8.8"/><circle cx="848.0" cy="598.3" r="8.8"/><circle cx="848.0" cy="641.3" r="8.8"/><circle cx="764.2" cy="685" r="8.8"/><circle cx="792.1" cy="685" r="8.8"/><circle cx="820.2" cy="685" r="8.8"/></g>
<rect x="741" y="623.7" width="103" height="30" fill="#fff" stroke="#000" stroke-width="2.2"/>
<text transform="translate(793,647) scale(1.0018,1)" font-family="'Liberation Sans', sans-serif" font-size="20.3" text-anchor="middle" >Fixed init</text>
<text transform="translate(793.2,722.4) scale(1.0016,1)" font-family="'Liberation Sans', sans-serif" font-size="20.3" text-anchor="middle" >13% accuracy</text>
<text transform="translate(895,621.6) scale(0.9831,1)" font-family="'Liberation Sans', sans-serif" font-size="20.3" text-anchor="middle" >train</text>
<rect x="869.5" y="637.3" width="2" height="11.5" fill="#e4e4e4"/>
<path d="M872.8 637.3 H903 V626.4 L920.2 643.6 L903 660.8 V648.8 H872.8 Z" fill="#c9c9c9"/>
<path d="M950.8 598.3 L950.8 641.3 M950.8 598.3 L979.0 641.3 M950.8 598.3 L1007.0 641.3 M950.8 598.3 L1035.0 641.3 M950.8 598.3 L1063.0 641.3 M979.0 598.3 L950.8 641.3 M979.0 598.3 L979.0 641.3 M979.0 598.3 L1007.0 641.3 M979.0 598.3 L1035.0 641.3 M979.0 598.3 L1063.0 641.3 M1007.0 598.3 L950.8 641.3 M1007.0 598.3 L979.0 641.3 M1007.0 598.3 L1007.0 641.3 M1007.0 598.3 L1035.0 641.3 M1007.0 598.3 L1063.0 641.3 M1035.0 598.3 L950.8 641.3 M1035.0 598.3 L979.0 641.3 M1035.0 598.3 L1007.0 641.3 M1035.0 598.3 L1035.0 641.3 M1035.0 598.3 L1063.0 641.3 M1063.0 598.3 L950.8 641.3 M1063.0 598.3 L979.0 641.3 M1063.0 598.3 L1007.0 641.3 M1063.0 598.3 L1035.0 641.3 M1063.0 598.3 L1063.0 641.3 M950.8 641.3 L979.0 685 M950.8 641.3 L1007.0 685 M950.8 641.3 L1035.0 685 M979.0 641.3 L979.0 685 M979.0 641.3 L1007.0 685 M979.0 641.3 L1035.0 685 M1007.0 641.3 L979.0 685 M1007.0 641.3 L1007.0 685 M1007.0 641.3 L1035.0 685 M1035.0 641.3 L979.0 685 M1035.0 641.3 L1007.0 685 M1035.0 641.3 L1035.0 685 M1063.0 641.3 L979.0 685 M1063.0 641.3 L1007.0 685 M1063.0 641.3 L1035.0 685" stroke="#000" stroke-width="0.9" fill="none"/>
<g fill="#fff" stroke="#000" stroke-width="1.9"><circle cx="950.8" cy="598.3" r="8.8"/><circle cx="950.8" cy="641.3" r="8.8"/><circle cx="979.0" cy="598.3" r="8.8"/><circle cx="979.0" cy="641.3" r="8.8"/><circle cx="1007.0" cy="598.3" r="8.8"/><circle cx="1007.0" cy="641.3" r="8.8"/><circle cx="1035.0" cy="598.3" r="8.8"/><circle cx="1035.0" cy="641.3" r="8.8"/><circle cx="1063.0" cy="598.3" r="8.8"/><circle cx="1063.0" cy="641.3" r="8.8"/><circle cx="979.0" cy="685" r="8.8"/><circle cx="1007.0" cy="685" r="8.8"/><circle cx="1035.0" cy="685" r="8.8"/></g>
<text transform="translate(1009.8,722.4) scale(1.0103,1)" font-family="'Liberation Sans', sans-serif" font-size="20.3" text-anchor="middle" >94% accuracy</text>
<rect x="2159.1" y="899.4" width="225.2" height="166.8" fill="#fff" stroke="#222" stroke-width="0.9"/>
<text transform="translate(2169.4,1078.2)" font-family="'DejaVu Sans', sans-serif" font-size="7.8" text-anchor="middle" fill="#222" >1</text>
<text transform="translate(2210.4,1078.2)" font-family="'DejaVu Sans', sans-serif" font-size="7.8" text-anchor="middle" fill="#222" >10</text>
<text transform="translate(2251.4,1078.2)" font-family="'DejaVu Sans', sans-serif" font-size="7.8" text-anchor="middle" fill="#222" >50</text>
<text transform="translate(2292.3,1078.2)" font-family="'DejaVu Sans', sans-serif" font-size="7.8" text-anchor="middle" fill="#222" >100</text>
<text transform="translate(2333.3,1078.2)" font-family="'DejaVu Sans', sans-serif" font-size="7.8" text-anchor="middle" fill="#222" >200</text>
<text transform="translate(2374.3,1078.2)" font-family="'DejaVu Sans', sans-serif" font-size="7.8" text-anchor="middle" fill="#222" >300</text>
<text transform="translate(2154.3,902.3)" font-family="'DejaVu Sans', sans-serif" font-size="7.8" text-anchor="end" fill="#222" >45</text>
<text transform="translate(2154.3,930.2)" font-family="'DejaVu Sans', sans-serif" font-size="7.8" text-anchor="end" fill="#222" >40</text>
<text transform="translate(2154.3,958.1)" font-family="'DejaVu Sans', sans-serif" font-size="7.8" text-anchor="end" fill="#222" >35</text>
<text transform="translate(2154.3,986)" font-family="'DejaVu Sans', sans-serif" font-size="7.8" text-anchor="end" fill="#222" >30</text>
<text transform="translate(2154.3,1013.9)" font-family="'DejaVu Sans', sans-serif" font-size="7.8" text-anchor="end" fill="#222" >25</text>
<text transform="translate(2154.3,1041.7)" font-family="'DejaVu Sans', sans-serif" font-size="7.8" text-anchor="end" fill="#222" >20</text>
<text transform="translate(2154.3,1069.1)" font-family="'DejaVu Sans', sans-serif" font-size="7.8" text-anchor="end" fill="#222" >15</text>
<text transform="translate(2389.3,926.7)" font-family="'DejaVu Sans', sans-serif" font-size="7.8" fill="#222" >80</text>
<text transform="translate(2389.3,954.9)" font-family="'DejaVu Sans', sans-serif" font-size="7.8" fill="#222" >70</text>
<text transform="translate(2389.3,983.3)" font-family="'DejaVu Sans', sans-serif" font-size="7.8" fill="#222" >60</text>
<text transform="translate(2389.3,1011.7)" font-family="'DejaVu Sans', sans-serif" font-size="7.8" fill="#222" >50</text>
<text transform="translate(2389.3,1039.9)" font-family="'DejaVu Sans', sans-serif" font-size="7.8" fill="#222" >40</text>
<text transform="translate(2389.3,1068.3)" font-family="'DejaVu Sans', sans-serif" font-size="7.8" fill="#222" >30</text>
<path d="M2169.4 1066.2 v3 M2210.4 1066.2 v3 M2251.4 1066.2 v3 M2292.3 1066.2 v3 M2333.3 1066.2 v3 M2374.3 1066.2 v3 M2159.1 899.4 h-3 M2159.1 927.3 h-3 M2159.1 955.2 h-3 M2159.1 983.1 h-3 M2159.1 1011 h-3 M2159.1 1038.8 h-3 M2159.1 1066.2 h-3 M2384.3 923.8 h3 M2384.3 952 h3 M2384.3 980.4 h3 M2384.3 1008.8 h3 M2384.3 1037 h3 M2384.3 1065.4 h3" stroke="#222" stroke-width="0.8" fill="none"/>
<path d="M2169.4 1013.1 L2210.4 979.2 L2251.4 953.3 L2292.3 944.1 L2333.3 940.6 L2374.3 935.5" fill="none" stroke="#3585c4" stroke-width="1.35" stroke-linejoin="round" stroke-linecap="square"/>
<path d="M2169.4 1063.6 L2210.4 1021.6 L2251.4 980.4 L2292.3 962.4 L2333.3 954.9 L2374.3 948.5" fill="none" stroke="#e04747" stroke-width="1.35" stroke-linejoin="round" stroke-linecap="square"/>
<rect x="2165.1" y="905.2" width="91.2" height="36.2" rx="2" fill="#fff" fill-opacity="0.8" stroke="#d4d4d4" stroke-width="0.8"/>
<path d="M2169.4 914.0 h23.5" stroke="#3585c4" stroke-width="1.35"/>
<text transform="translate(2202.1,918.3) scale(1.0143,1)" font-family="'DejaVu Sans', sans-serif" font-size="11" fill="#222" >DosCond</text>
<path d="M2169.4 930.7 h23.5" stroke="#e04747" stroke-width="1.35"/>
<text transform="translate(2202.1,935) scale(1.0209,1)" font-family="'DejaVu Sans', sans-serif" font-size="11" fill="#222" >Random</text>
<text transform="translate(2271.8,1090.7) scale(1.0663,1)" font-family="'DejaVu Sans', sans-serif" font-size="10.6" text-anchor="middle" fill="#222" >Number of Samples Per Class</text>
<g transform="translate(2138.8,983.2) rotate(-90)">
<text transform="translate(0,0) scale(1.0582,1)" font-family="'DejaVu Sans', sans-serif" font-size="10.6" text-anchor="middle" fill="#222" >Absolute Accuracy (%)</text>
</g>
<g transform="translate(2411.4,983.2) rotate(-90)">
<text transform="translate(0,0) scale(1.0503,1)" font-family="'DejaVu Sans', sans-serif" font-size="10.6" text-anchor="middle" fill="#222" >Relative Accuracy (%)</text>
</g>
<text transform="translate(2160.7,1119.1) scale(1.1139,1)" font-family="'Liberation Serif', serif" font-size="14.6" fill="#111" font-weight="bold" >(a) Learning larger synthetic set.</text>
<rect x="2456.9" y="894.3" width="231.8" height="171.4" fill="#fff" stroke="#222" stroke-width="0.9"/>
<text transform="translate(2468.4,1077.7)" font-family="'DejaVu Sans', sans-serif" font-size="7.8" text-anchor="middle" fill="#222" >0</text>
<text transform="translate(2494.4,1077.7)" font-family="'DejaVu Sans', sans-serif" font-size="7.8" text-anchor="middle" fill="#222" >0.5</text>
<text transform="translate(2520.5,1077.7)" font-family="'DejaVu Sans', sans-serif" font-size="7.8" text-anchor="middle" fill="#222" >1</text>
<text transform="translate(2546.7,1077.7)" font-family="'DejaVu Sans', sans-serif" font-size="7.8" text-anchor="middle" fill="#222" >5</text>
<text transform="translate(2573.1,1077.7)" font-family="'DejaVu Sans', sans-serif" font-size="7.8" text-anchor="middle" fill="#222" >10</text>
<text transform="translate(2599.3,1077.7)" font-family="'DejaVu Sans', sans-serif" font-size="7.8" text-anchor="middle" fill="#222" >25</text>
<text transform="translate(2625.6,1077.7)" font-family="'DejaVu Sans', sans-serif" font-size="7.8" text-anchor="middle" fill="#222" >50</text>
<text transform="translate(2651.9,1077.7)" font-family="'DejaVu Sans', sans-serif" font-size="7.8" text-anchor="middle" fill="#222" >75</text>
<text transform="translate(2678,1077.7)" font-family="'DejaVu Sans', sans-serif" font-size="7.8" text-anchor="middle" fill="#222" >100</text>
<text transform="translate(2452.1,897.2)" font-family="'DejaVu Sans', sans-serif" font-size="7.8" text-anchor="end" fill="#222" >37</text>
<text transform="translate(2452.1,916.25)" font-family="'DejaVu Sans', sans-serif" font-size="7.8" text-anchor="end" fill="#222" >36</text>
<text transform="translate(2452.1,935.3)" font-family="'DejaVu Sans', sans-serif" font-size="7.8" text-anchor="end" fill="#222" >35</text>
<text transform="translate(2452.1,954.35)" font-family="'DejaVu Sans', sans-serif" font-size="7.8" text-anchor="end" fill="#222" >34</text>
<text transform="translate(2452.1,973.4)" font-family="'DejaVu Sans', sans-serif" font-size="7.8" text-anchor="end" fill="#222" >33</text>
<text transform="translate(2452.1,992.45)" font-family="'DejaVu Sans', sans-serif" font-size="7.8" text-anchor="end" fill="#222" >32</text>
<text transform="translate(2452.1,1011.5)" font-family="'DejaVu Sans', sans-serif" font-size="7.8" text-anchor="end" fill="#222" >31</text>
<text transform="translate(2452.1,1030.55)" font-family="'DejaVu Sans', sans-serif" font-size="7.8" text-anchor="end" fill="#222" >30</text>
<text transform="translate(2452.1,1049.6)" font-family="'DejaVu Sans', sans-serif" font-size="7.8" text-anchor="end" fill="#222" >29</text>
<text transform="translate(2452.1,1068.65)" font-family="'DejaVu Sans', sans-serif" font-size="7.8" text-anchor="end" fill="#222" >28</text>
<path d="M2468.4 1065.7 v3 M2494.4 1065.7 v3 M2520.5 1065.7 v3 M2546.7 1065.7 v3 M2573.1 1065.7 v3 M2599.3 1065.7 v3 M2625.6 1065.7 v3 M2651.9 1065.7 v3 M2678 1065.7 v3 M2456.9 894.3 h-3 M2456.9 913.3499999999999 h-3 M2456.9 932.4 h-3 M2456.9 951.4499999999999 h-3 M2456.9 970.5 h-3 M2456.9 989.55 h-3 M2456.9 1008.5999999999999 h-3 M2456.9 1027.6499999999999 h-3 M2456.9 1046.7 h-3 M2456.9 1065.75 h-3" stroke="#222" stroke-width="0.8" fill="none"/>
<path d="M2468.4 1037.8 L2494.4 999.6 L2520.5 975.6 L2546.7 928.6 L2573.1 926.9" fill="none" stroke="#3585c4" stroke-width="1.35" stroke-linejoin="round" stroke-linecap="square"/>
<path d="M2468.4 1037.8 L2494.4 1035.7 L2520.5 1032.2 L2546.7 1013.9 L2573.1 1011.8 L2599.3 998.3 L2625.6 935.5 L2651.9 925.1 L2678.0 925.1" fill="none" stroke="#e04747" stroke-width="1.35" stroke-linejoin="round" stroke-linecap="square"/>
<rect x="2573.6" y="1022.7" width="109.2" height="37.1" rx="2" fill="#fff" fill-opacity="0.8" stroke="#d4d4d4" stroke-width="0.8"/>
<path d="M2577.9 1031.9 h23.5" stroke="#3585c4" stroke-width="1.35"/>
<text transform="translate(2610.6,1036.2) scale(1.0143,1)" font-family="'DejaVu Sans', sans-serif" font-size="11" fill="#222" >DosCond</text>
<path d="M2577.9 1048.7 h23.5" stroke="#e04747" stroke-width="1.35"/>
<text transform="translate(2610.6,1053) scale(1.0396,1)" font-family="'DejaVu Sans', sans-serif" font-size="11" fill="#222" >DosCond-Bi</text>
<text transform="translate(2573.2,1090.4) scale(1.0787,1)" font-family="'DejaVu Sans', sans-serif" font-size="10.6" text-anchor="middle" fill="#222" >Training Time (min)</text>
<g transform="translate(2436.5,980.4) rotate(-90)">
<text transform="translate(0,0) scale(1.0916,1)" font-family="'DejaVu Sans', sans-serif" font-size="10.6" text-anchor="middle" fill="#222" >Accuracy (%)</text>
</g>
<text transform="translate(2439.2,1119.1) scale(1.1028,1)" font-family="'Liberation Serif', serif" font-size="14.6" fill="#111" font-weight="bold" >(b) One-Step v.s. bi-Level matching</text>
<rect x="2159.7" y="1191.9" width="198.3" height="148.1" fill="#eaeaf2"/>
<g fill="#4c72b0"><circle cx="2182.0" cy="1199.3" r="1.75"/><circle cx="2184.7" cy="1201.4" r="1.75"/><circle cx="2193.3" cy="1200.5" r="1.75"/><circle cx="2198.4" cy="1204.2" r="1.75"/><circle cx="2202.1" cy="1206.6" r="1.75"/><circle cx="2206.7" cy="1208.2" r="1.75"/><circle cx="2212.1" cy="1209.7" r="1.75"/><circle cx="2178.9" cy="1204.2" r="1.75"/><circle cx="2181.6" cy="1206.6" r="1.75"/><circle cx="2188.4" cy="1208.8" r="1.75"/><circle cx="2195.3" cy="1210.6" r="1.75"/><circle cx="2195.3" cy="1212.4" r="1.75"/><circle cx="2235.9" cy="1217.3" r="1.75"/><circle cx="2242.3" cy="1216.4" r="1.75"/><circle cx="2241.7" cy="1219.7" r="1.75"/><circle cx="2234.6" cy="1226.1" r="1.75"/><circle cx="2242.7" cy="1224.8" r="1.75"/><circle cx="2251.1" cy="1224.7" r="1.75"/><circle cx="2250.5" cy="1227.0" r="1.75"/><circle cx="2268.8" cy="1221.0" r="1.75"/><circle cx="2257.5" cy="1230.7" r="1.75"/><circle cx="2263.9" cy="1228.9" r="1.75"/><circle cx="2273.5" cy="1232.5" r="1.75"/><circle cx="2282.5" cy="1228.3" r="1.75"/><circle cx="2285.2" cy="1231.6" r="1.75"/><circle cx="2281.2" cy="1234.0" r="1.75"/><circle cx="2283.8" cy="1236.5" r="1.75"/><circle cx="2285.4" cy="1238.9" r="1.75"/><circle cx="2193.9" cy="1229.4" r="1.75"/><circle cx="2197.9" cy="1231.8" r="1.75"/><circle cx="2206.3" cy="1234.9" r="1.75"/><circle cx="2223.6" cy="1230.7" r="1.75"/><circle cx="2224.6" cy="1233.4" r="1.75"/><circle cx="2226.4" cy="1238.0" r="1.75"/><circle cx="2232.2" cy="1240.2" r="1.75"/><circle cx="2292.5" cy="1263.6" r="1.75"/><circle cx="2280.3" cy="1265.0" r="1.75"/><circle cx="2278.5" cy="1266.9" r="1.75"/><circle cx="2285.2" cy="1269.1" r="1.75"/><circle cx="2277.9" cy="1271.3" r="1.75"/><circle cx="2284.9" cy="1271.8" r="1.75"/><circle cx="2267.0" cy="1279.7" r="1.75"/><circle cx="2277.4" cy="1280.0" r="1.75"/><circle cx="2277.6" cy="1282.4" r="1.75"/><circle cx="2288.0" cy="1282.6" r="1.75"/><circle cx="2295.3" cy="1283.3" r="1.75"/><circle cx="2319.2" cy="1269.1" r="1.75"/><circle cx="2319.2" cy="1270.9" r="1.75"/><circle cx="2339.5" cy="1265.4" r="1.75"/><circle cx="2339.3" cy="1267.2" r="1.75"/><circle cx="2328.7" cy="1275.8" r="1.75"/><circle cx="2321.4" cy="1281.5" r="1.75"/><circle cx="2320.9" cy="1286.4" r="1.75"/><circle cx="2313.2" cy="1285.9" r="1.75"/><circle cx="2300.2" cy="1292.3" r="1.75"/><circle cx="2337.3" cy="1287.5" r="1.75"/><circle cx="2343.3" cy="1286.6" r="1.75"/><circle cx="2234.4" cy="1296.1" r="1.75"/><circle cx="2266.0" cy="1297.8" r="1.75"/><circle cx="2265.1" cy="1300.1" r="1.75"/><circle cx="2274.6" cy="1295.6" r="1.75"/><circle cx="2264.6" cy="1304.2" r="1.75"/><circle cx="2257.1" cy="1304.7" r="1.75"/><circle cx="2247.4" cy="1306.3" r="1.75"/><circle cx="2245.9" cy="1308.7" r="1.75"/><circle cx="2223.6" cy="1313.3" r="1.75"/><circle cx="2224.6" cy="1315.1" r="1.75"/><circle cx="2201.2" cy="1316.6" r="1.75"/><circle cx="2185.6" cy="1321.7" r="1.75"/><circle cx="2191.7" cy="1328.5" r="1.75"/></g>
<path d="M2171.5 1196.7 l3 3 m0 -3 l-3 3 M2188.2 1196.8 l3 3 m0 -3 l-3 3 M2251.4 1217.1 l3 3 m0 -3 l-3 3 M2273.0 1220.6 l3 3 m0 -3 l-3 3 M2292.0 1221.0 l3 3 m0 -3 l-3 3 M2295.2 1222.1 l3 3 m0 -3 l-3 3 M2237.1 1228.1 l3 3 m0 -3 l-3 3 M2246.3 1227.5 l3 3 m0 -3 l-3 3 M2274.2 1233.6 l3 3 m0 -3 l-3 3 M2217.6 1234.7 l3 3 m0 -3 l-3 3 M2225.6 1234.5 l3 3 m0 -3 l-3 3 M2206.1 1238.0 l3 3 m0 -3 l-3 3 M2210.1 1239.2 l3 3 m0 -3 l-3 3 M2202.0 1242.0 l3 3 m0 -3 l-3 3 M2286.8 1264.8 l3 3 m0 -3 l-3 3 M2279.0 1272.5 l3 3 m0 -3 l-3 3 M2327.2 1272.1 l3 3 m0 -3 l-3 3 M2334.9 1270.9 l3 3 m0 -3 l-3 3 M2334.9 1274.1 l3 3 m0 -3 l-3 3 M2304.2 1281.8 l3 3 m0 -3 l-3 3 M2311.1 1279.8 l3 3 m0 -3 l-3 3 M2314.3 1282.4 l3 3 m0 -3 l-3 3 M2347.9 1286.0 l3 3 m0 -3 l-3 3 M2303.8 1290.4 l3 3 m0 -3 l-3 3 M2276.1 1291.9 l3 3 m0 -3 l-3 3 M2228.9 1297.0 l3 3 m0 -3 l-3 3 M2234.9 1297.0 l3 3 m0 -3 l-3 3 M2252.3 1297.2 l3 3 m0 -3 l-3 3 M2285.0 1299.0 l3 3 m0 -3 l-3 3 M2235.7 1303.6 l3 3 m0 -3 l-3 3 M2236.6 1306.3 l3 3 m0 -3 l-3 3 M2252.1 1306.3 l3 3 m0 -3 l-3 3 M2176.8 1313.8 l3 3 m0 -3 l-3 3 M2187.4 1313.3 l3 3 m0 -3 l-3 3 M2193.8 1313.1 l3 3 m0 -3 l-3 3 M2204.8 1313.8 l3 3 m0 -3 l-3 3 M2187.8 1316.0 l3 3 m0 -3 l-3 3 M2193.8 1318.9 l3 3 m0 -3 l-3 3 M2181.8 1323.5 l3 3 m0 -3 l-3 3 M2171.9 1324.9 l3 3 m0 -3 l-3 3 M2182.3 1326.6 l3 3 m0 -3 l-3 3 M2166.8 1327.9 l3 3 m0 -3 l-3 3 M2186.0 1329.2 l3 3 m0 -3 l-3 3 M2193.6 1329.2 l3 3 m0 -3 l-3 3 M2205.0 1329.0 l3 3 m0 -3 l-3 3 M2176.8 1331.2 l3 3 m0 -3 l-3 3 M2183.2 1332.1 l3 3 m0 -3 l-3 3" stroke="#dd8452" stroke-width="1.15" fill="none"/>
<rect x="2282.9" y="1302.5" width="70.6" height="32.8" rx="2" fill="#eaeaf2" fill-opacity="0.8" stroke="#d8d8de" stroke-width="0.8"/>
<circle cx="2297.1" cy="1311.2" r="1.55" fill="#4c72b0"/>
<path d="M2295.6 1324.7 l3 3 m0 -3 l-3 3" stroke="#dd8452" stroke-width="1" fill="none"/>
<text transform="translate(2315.4,1314.2) scale(1.0038,1)" font-family="'DejaVu Sans', sans-serif" font-size="9.8" fill="#333" >class 0</text>
<text transform="translate(2315.4,1329.2) scale(1.0038,1)" font-family="'DejaVu Sans', sans-serif" font-size="9.8" fill="#333" >class 1</text>
<rect x="2371.1" y="1191.9" width="198.7" height="148.1" fill="#eaeaf2"/>
<g fill="#4c72b0"><circle cx="2527.2" cy="1198.2" r="1.75"/><circle cx="2495.9" cy="1211.5" r="1.75"/><circle cx="2482.1" cy="1217.5" r="1.75"/><circle cx="2489.5" cy="1219.7" r="1.75"/><circle cx="2503.3" cy="1218.3" r="1.75"/><circle cx="2513.3" cy="1222.5" r="1.75"/><circle cx="2497.6" cy="1223.9" r="1.75"/><circle cx="2495.4" cy="1227.6" r="1.75"/><circle cx="2503.6" cy="1227.4" r="1.75"/><circle cx="2519.5" cy="1227.4" r="1.75"/><circle cx="2507.5" cy="1231.8" r="1.75"/><circle cx="2498.0" cy="1236.2" r="1.75"/><circle cx="2496.3" cy="1243.5" r="1.75"/><circle cx="2426.3" cy="1241.1" r="1.75"/><circle cx="2454.8" cy="1240.4" r="1.75"/><circle cx="2457.6" cy="1246.6" r="1.75"/><circle cx="2481.7" cy="1245.9" r="1.75"/><circle cx="2527.4" cy="1250.8" r="1.75"/><circle cx="2542.4" cy="1252.1" r="1.75"/><circle cx="2527.4" cy="1256.3" r="1.75"/><circle cx="2544.2" cy="1260.8" r="1.75"/><circle cx="2427.2" cy="1255.4" r="1.75"/><circle cx="2435.3" cy="1256.3" r="1.75"/><circle cx="2412.4" cy="1261.8" r="1.75"/><circle cx="2432.3" cy="1263.0" r="1.75"/><circle cx="2443.5" cy="1262.7" r="1.75"/><circle cx="2482.6" cy="1261.4" r="1.75"/><circle cx="2487.2" cy="1262.7" r="1.75"/><circle cx="2494.5" cy="1268.7" r="1.75"/><circle cx="2459.4" cy="1266.7" r="1.75"/><circle cx="2449.2" cy="1268.5" r="1.75"/><circle cx="2442.2" cy="1269.4" r="1.75"/><circle cx="2465.4" cy="1269.1" r="1.75"/><circle cx="2428.3" cy="1271.4" r="1.75"/><circle cx="2434.5" cy="1272.7" r="1.75"/><circle cx="2491.4" cy="1274.4" r="1.75"/><circle cx="2506.7" cy="1277.5" r="1.75"/><circle cx="2534.3" cy="1277.5" r="1.75"/><circle cx="2436.4" cy="1279.3" r="1.75"/><circle cx="2431.4" cy="1282.6" r="1.75"/><circle cx="2495.2" cy="1282.2" r="1.75"/><circle cx="2535.4" cy="1283.7" r="1.75"/><circle cx="2560.8" cy="1283.9" r="1.75"/><circle cx="2441.5" cy="1286.2" r="1.75"/><circle cx="2499.6" cy="1287.5" r="1.75"/><circle cx="2491.2" cy="1288.8" r="1.75"/><circle cx="2537.1" cy="1290.1" r="1.75"/><circle cx="2436.5" cy="1293.4" r="1.75"/><circle cx="2502.9" cy="1293.7" r="1.75"/><circle cx="2544.7" cy="1293.6" r="1.75"/><circle cx="2555.2" cy="1292.1" r="1.75"/><circle cx="2548.0" cy="1296.7" r="1.75"/><circle cx="2387.4" cy="1278.2" r="1.75"/><circle cx="2384.1" cy="1283.9" r="1.75"/><circle cx="2379.9" cy="1285.9" r="1.75"/><circle cx="2403.3" cy="1290.3" r="1.75"/><circle cx="2393.4" cy="1298.9" r="1.75"/><circle cx="2400.4" cy="1298.5" r="1.75"/><circle cx="2405.7" cy="1299.6" r="1.75"/><circle cx="2415.2" cy="1298.5" r="1.75"/><circle cx="2418.3" cy="1302.5" r="1.75"/><circle cx="2436.0" cy="1301.4" r="1.75"/><circle cx="2446.1" cy="1301.4" r="1.75"/><circle cx="2438.4" cy="1307.8" r="1.75"/><circle cx="2474.7" cy="1300.5" r="1.75"/><circle cx="2410.6" cy="1316.9" r="1.75"/><circle cx="2491.0" cy="1319.3" r="1.75"/><circle cx="2491.7" cy="1325.0" r="1.75"/><circle cx="2495.4" cy="1327.4" r="1.75"/><circle cx="2478.4" cy="1328.8" r="1.75"/></g>
<path d="M2504.9 1212.0 l3 3 m0 -3 l-3 3 M2516.4 1214.9 l3 3 m0 -3 l-3 3 M2486.2 1229.2 l3 3 m0 -3 l-3 3 M2523.5 1226.8 l3 3 m0 -3 l-3 3 M2430.1 1233.2 l3 3 m0 -3 l-3 3 M2424.5 1244.9 l3 3 m0 -3 l-3 3 M2529.0 1242.0 l3 3 m0 -3 l-3 3 M2521.9 1246.5 l3 3 m0 -3 l-3 3 M2543.4 1243.8 l3 3 m0 -3 l-3 3 M2535.6 1248.9 l3 3 m0 -3 l-3 3 M2458.8 1249.8 l3 3 m0 -3 l-3 3 M2479.6 1252.2 l3 3 m0 -3 l-3 3 M2416.8 1254.2 l3 3 m0 -3 l-3 3 M2515.5 1253.5 l3 3 m0 -3 l-3 3 M2495.7 1263.2 l3 3 m0 -3 l-3 3 M2548.0 1264.6 l3 3 m0 -3 l-3 3 M2453.3 1267.7 l3 3 m0 -3 l-3 3 M2525.9 1269.0 l3 3 m0 -3 l-3 3 M2470.7 1271.0 l3 3 m0 -3 l-3 3 M2475.8 1274.0 l3 3 m0 -3 l-3 3 M2496.1 1274.9 l3 3 m0 -3 l-3 3 M2539.2 1272.5 l3 3 m0 -3 l-3 3 M2465.4 1277.1 l3 3 m0 -3 l-3 3 M2509.8 1279.3 l3 3 m0 -3 l-3 3 M2444.9 1289.3 l3 3 m0 -3 l-3 3 M2451.9 1290.6 l3 3 m0 -3 l-3 3 M2521.3 1297.9 l3 3 m0 -3 l-3 3 M2384.1 1300.5 l3 3 m0 -3 l-3 3 M2381.0 1303.7 l3 3 m0 -3 l-3 3 M2425.0 1299.7 l3 3 m0 -3 l-3 3 M2397.0 1305.2 l3 3 m0 -3 l-3 3 M2543.6 1301.9 l3 3 m0 -3 l-3 3 M2469.6 1304.5 l3 3 m0 -3 l-3 3 M2447.5 1307.2 l3 3 m0 -3 l-3 3 M2547.4 1308.0 l3 3 m0 -3 l-3 3 M2412.4 1308.9 l3 3 m0 -3 l-3 3 M2423.7 1308.1 l3 3 m0 -3 l-3 3 M2470.5 1308.9 l3 3 m0 -3 l-3 3 M2394.5 1312.0 l3 3 m0 -3 l-3 3 M2391.9 1318.2 l3 3 m0 -3 l-3 3 M2438.3 1317.8 l3 3 m0 -3 l-3 3 M2499.4 1318.9 l3 3 m0 -3 l-3 3 M2444.6 1324.0 l3 3 m0 -3 l-3 3 M2503.0 1324.8 l3 3 m0 -3 l-3 3 M2448.6 1329.2 l3 3 m0 -3 l-3 3 M2489.0 1332.3 l3 3 m0 -3 l-3 3" stroke="#dd8452" stroke-width="1.15" fill="none"/>
<rect x="2375.7" y="1196.3" width="70.6" height="32.8" rx="2" fill="#eaeaf2" fill-opacity="0.8" stroke="#d8d8de" stroke-width="0.8"/>
<circle cx="2389.9" cy="1205.0" r="1.55" fill="#4c72b0"/>
<path d="M2388.4 1218.5 l3 3 m0 -3 l-3 3" stroke="#dd8452" stroke-width="1" fill="none"/>
<text transform="translate(2408.2,1208) scale(1.0038,1)" font-family="'DejaVu Sans', sans-serif" font-size="9.8" fill="#333" >class 0</text>
<text transform="translate(2408.2,1223) scale(1.0038,1)" font-family="'DejaVu Sans', sans-serif" font-size="9.8" fill="#333" >class 1</text>
<rect x="2582.8" y="1191.9" width="197.9" height="148.1" fill="#eaeaf2"/>
<g fill="#4c72b0"><circle cx="2684.2" cy="1198.2" r="1.75"/><circle cx="2681.8" cy="1201.8" r="1.75"/><circle cx="2689.7" cy="1200.5" r="1.75"/><circle cx="2684.2" cy="1203.6" r="1.75"/><circle cx="2688.8" cy="1203.3" r="1.75"/><circle cx="2687.0" cy="1208.8" r="1.75"/><circle cx="2687.5" cy="1211.0" r="1.75"/><circle cx="2697.9" cy="1210.6" r="1.75"/><circle cx="2694.8" cy="1212.4" r="1.75"/><circle cx="2701.0" cy="1213.3" r="1.75"/><circle cx="2708.0" cy="1213.3" r="1.75"/><circle cx="2675.4" cy="1213.3" r="1.75"/><circle cx="2648.6" cy="1215.7" r="1.75"/><circle cx="2655.5" cy="1215.2" r="1.75"/><circle cx="2662.7" cy="1213.3" r="1.75"/><circle cx="2666.5" cy="1211.5" r="1.75"/><circle cx="2654.4" cy="1217.9" r="1.75"/><circle cx="2657.7" cy="1216.1" r="1.75"/><circle cx="2663.2" cy="1215.7" r="1.75"/><circle cx="2650.0" cy="1219.7" r="1.75"/><circle cx="2655.9" cy="1218.4" r="1.75"/><circle cx="2735.4" cy="1218.3" r="1.75"/><circle cx="2738.1" cy="1219.7" r="1.75"/><circle cx="2746.9" cy="1218.8" r="1.75"/><circle cx="2752.2" cy="1219.7" r="1.75"/><circle cx="2741.8" cy="1221.5" r="1.75"/><circle cx="2735.0" cy="1222.5" r="1.75"/><circle cx="2750.6" cy="1222.1" r="1.75"/><circle cx="2755.5" cy="1222.5" r="1.75"/><circle cx="2740.9" cy="1223.4" r="1.75"/><circle cx="2767.9" cy="1224.3" r="1.75"/><circle cx="2772.3" cy="1224.3" r="1.75"/><circle cx="2766.1" cy="1226.7" r="1.75"/><circle cx="2770.7" cy="1226.7" r="1.75"/><circle cx="2618.8" cy="1227.6" r="1.75"/><circle cx="2631.2" cy="1226.7" r="1.75"/><circle cx="2634.3" cy="1229.4" r="1.75"/><circle cx="2621.7" cy="1232.5" r="1.75"/><circle cx="2610.8" cy="1235.3" r="1.75"/><circle cx="2620.3" cy="1234.9" r="1.75"/><circle cx="2614.4" cy="1237.6" r="1.75"/><circle cx="2616.2" cy="1238.9" r="1.75"/><circle cx="2608.4" cy="1241.7" r="1.75"/><circle cx="2591.4" cy="1245.3" r="1.75"/><circle cx="2596.9" cy="1244.4" r="1.75"/><circle cx="2598.0" cy="1246.6" r="1.75"/><circle cx="2608.9" cy="1251.7" r="1.75"/><circle cx="2606.5" cy="1255.4" r="1.75"/><circle cx="2602.9" cy="1258.1" r="1.75"/><circle cx="2606.5" cy="1258.1" r="1.75"/><circle cx="2602.9" cy="1260.3" r="1.75"/><circle cx="2606.5" cy="1267.6" r="1.75"/><circle cx="2611.1" cy="1268.7" r="1.75"/><circle cx="2602.5" cy="1272.4" r="1.75"/><circle cx="2616.2" cy="1272.4" r="1.75"/><circle cx="2607.8" cy="1273.6" r="1.75"/><circle cx="2612.9" cy="1274.2" r="1.75"/><circle cx="2608.9" cy="1277.3" r="1.75"/><circle cx="2618.4" cy="1279.7" r="1.75"/><circle cx="2608.9" cy="1281.9" r="1.75"/><circle cx="2615.3" cy="1281.9" r="1.75"/><circle cx="2603.4" cy="1284.6" r="1.75"/><circle cx="2607.5" cy="1284.6" r="1.75"/><circle cx="2618.4" cy="1286.1" r="1.75"/><circle cx="2624.8" cy="1289.5" r="1.75"/><circle cx="2640.7" cy="1304.2" r="1.75"/><circle cx="2648.9" cy="1305.2" r="1.75"/><circle cx="2668.3" cy="1315.1" r="1.75"/><circle cx="2697.7" cy="1323.3" r="1.75"/></g>
<path d="M2657.5 1210.0 l3 3 m0 -3 l-3 3 M2693.7 1213.1 l3 3 m0 -3 l-3 3 M2731.7 1214.9 l3 3 m0 -3 l-3 3 M2731.1 1217.7 l3 3 m0 -3 l-3 3 M2767.3 1221.3 l3 3 m0 -3 l-3 3 M2625.7 1222.4 l3 3 m0 -3 l-3 3 M2635.6 1223.3 l3 3 m0 -3 l-3 3 M2626.1 1225.2 l3 3 m0 -3 l-3 3 M2613.6 1227.7 l3 3 m0 -3 l-3 3 M2604.1 1233.2 l3 3 m0 -3 l-3 3 M2624.2 1230.6 l3 3 m0 -3 l-3 3 M2608.3 1237.8 l3 3 m0 -3 l-3 3 M2611.4 1263.5 l3 3 m0 -3 l-3 3 M2612.9 1265.7 l3 3 m0 -3 l-3 3 M2605.0 1269.4 l3 3 m0 -3 l-3 3 M2596.5 1274.1 l3 3 m0 -3 l-3 3 M2620.6 1283.6 l3 3 m0 -3 l-3 3 M2618.2 1287.3 l3 3 m0 -3 l-3 3 M2623.0 1289.1 l3 3 m0 -3 l-3 3 M2614.7 1290.4 l3 3 m0 -3 l-3 3 M2625.7 1293.1 l3 3 m0 -3 l-3 3 M2636.1 1300.1 l3 3 m0 -3 l-3 3 M2644.0 1301.4 l3 3 m0 -3 l-3 3 M2635.6 1305.0 l3 3 m0 -3 l-3 3 M2639.8 1306.3 l3 3 m0 -3 l-3 3 M2641.6 1304.1 l3 3 m0 -3 l-3 3 M2644.0 1308.1 l3 3 m0 -3 l-3 3 M2639.4 1310.0 l3 3 m0 -3 l-3 3 M2660.8 1312.3 l3 3 m0 -3 l-3 3 M2660.8 1314.2 l3 3 m0 -3 l-3 3 M2669.9 1313.8 l3 3 m0 -3 l-3 3 M2666.8 1316.0 l3 3 m0 -3 l-3 3 M2675.8 1316.5 l3 3 m0 -3 l-3 3 M2680.3 1317.5 l3 3 m0 -3 l-3 3 M2685.5 1318.7 l3 3 m0 -3 l-3 3 M2680.0 1320.9 l3 3 m0 -3 l-3 3 M2689.1 1321.8 l3 3 m0 -3 l-3 3 M2692.8 1323.9 l3 3 m0 -3 l-3 3 M2693.7 1326.6 l3 3 m0 -3 l-3 3 M2697.9 1324.2 l3 3 m0 -3 l-3 3 M2701.5 1322.9 l3 3 m0 -3 l-3 3 M2703.9 1325.1 l3 3 m0 -3 l-3 3 M2709.2 1325.5 l3 3 m0 -3 l-3 3 M2708.9 1328.2 l3 3 m0 -3 l-3 3 M2714.7 1326.6 l3 3 m0 -3 l-3 3 M2714.7 1329.2 l3 3 m0 -3 l-3 3 M2720.2 1329.3 l3 3 m0 -3 l-3 3 M2721.6 1332.1 l3 3 m0 -3 l-3 3" stroke="#dd8452" stroke-width="1.15" fill="none"/>
<rect x="2705.6" y="1249.0" width="70.6" height="32.8" rx="2" fill="#eaeaf2" fill-opacity="0.8" stroke="#d8d8de" stroke-width="0.8"/>
<circle cx="2719.8" cy="1257.7" r="1.55" fill="#4c72b0"/>
<path d="M2718.3 1271.2 l3 3 m0 -3 l-3 3" stroke="#dd8452" stroke-width="1" fill="none"/>
<text transform="translate(2738.1,1260.7) scale(1.0038,1)" font-family="'DejaVu Sans', sans-serif" font-size="9.8" fill="#333" >class 0</text>
<text transform="translate(2738.1,1275.7) scale(1.0038,1)" font-family="'DejaVu Sans', sans-serif" font-size="9.8" fill="#333" >class 1</text>
<rect x="2793.9" y="1191.9" width="194.1" height="148.1" fill="#eaeaf2"/>
<g fill="#4c72b0"><circle cx="2807.9" cy="1198.2" r="1.75"/><circle cx="2806.7" cy="1203.3" r="1.75"/><circle cx="2804.8" cy="1206.0" r="1.75"/><circle cx="2807.2" cy="1207.3" r="1.75"/><circle cx="2804.8" cy="1211.5" r="1.75"/><circle cx="2802.5" cy="1213.7" r="1.75"/><circle cx="2807.0" cy="1213.3" r="1.75"/><circle cx="2805.7" cy="1217.5" r="1.75"/><circle cx="2807.0" cy="1221.0" r="1.75"/><circle cx="2805.7" cy="1223.4" r="1.75"/><circle cx="2803.9" cy="1228.9" r="1.75"/><circle cx="2804.5" cy="1231.6" r="1.75"/><circle cx="2810.7" cy="1232.1" r="1.75"/><circle cx="2808.9" cy="1234.3" r="1.75"/><circle cx="2811.2" cy="1249.9" r="1.75"/><circle cx="2812.1" cy="1254.1" r="1.75"/><circle cx="2812.7" cy="1256.6" r="1.75"/><circle cx="2816.2" cy="1261.4" r="1.75"/><circle cx="2818.9" cy="1264.1" r="1.75"/><circle cx="2825.8" cy="1264.9" r="1.75"/><circle cx="2823.1" cy="1266.3" r="1.75"/><circle cx="2822.7" cy="1272.4" r="1.75"/><circle cx="2822.2" cy="1274.5" r="1.75"/><circle cx="2819.8" cy="1276.4" r="1.75"/><circle cx="2814.9" cy="1284.6" r="1.75"/><circle cx="2817.1" cy="1286.4" r="1.75"/><circle cx="2829.1" cy="1289.2" r="1.75"/><circle cx="2831.9" cy="1291.0" r="1.75"/><circle cx="2829.1" cy="1291.9" r="1.75"/><circle cx="2830.1" cy="1295.6" r="1.75"/><circle cx="2841.7" cy="1293.7" r="1.75"/><circle cx="2846.9" cy="1298.3" r="1.75"/><circle cx="2845.0" cy="1301.4" r="1.75"/><circle cx="2845.6" cy="1303.8" r="1.75"/><circle cx="2848.3" cy="1309.6" r="1.75"/><circle cx="2833.2" cy="1314.8" r="1.75"/><circle cx="2834.1" cy="1318.4" r="1.75"/><circle cx="2831.0" cy="1320.2" r="1.75"/><circle cx="2827.7" cy="1322.1" r="1.75"/><circle cx="2823.5" cy="1323.3" r="1.75"/><circle cx="2828.6" cy="1325.2" r="1.75"/><circle cx="2839.0" cy="1321.1" r="1.75"/><circle cx="2845.4" cy="1319.3" r="1.75"/><circle cx="2847.8" cy="1323.9" r="1.75"/><circle cx="2845.6" cy="1327.2" r="1.75"/><circle cx="2848.7" cy="1326.6" r="1.75"/><circle cx="2842.8" cy="1330.8" r="1.75"/><circle cx="2827.3" cy="1328.5" r="1.75"/><circle cx="2858.4" cy="1321.5" r="1.75"/><circle cx="2862.4" cy="1320.2" r="1.75"/><circle cx="2880.3" cy="1317.9" r="1.75"/><circle cx="2878.3" cy="1320.6" r="1.75"/><circle cx="2882.0" cy="1321.1" r="1.75"/><circle cx="2885.6" cy="1322.1" r="1.75"/><circle cx="2874.8" cy="1323.3" r="1.75"/><circle cx="2879.4" cy="1324.8" r="1.75"/><circle cx="2883.8" cy="1327.0" r="1.75"/><circle cx="2887.4" cy="1330.7" r="1.75"/><circle cx="2881.2" cy="1332.7" r="1.75"/><circle cx="2879.2" cy="1333.9" r="1.75"/><circle cx="2974.4" cy="1229.4" r="1.75"/><circle cx="2968.4" cy="1256.3" r="1.75"/><circle cx="2955.1" cy="1269.4" r="1.75"/><circle cx="2959.3" cy="1274.9" r="1.75"/><circle cx="2957.4" cy="1276.9" r="1.75"/><circle cx="2935.5" cy="1295.2" r="1.75"/><circle cx="2932.8" cy="1297.0" r="1.75"/><circle cx="2938.6" cy="1297.8" r="1.75"/><circle cx="2936.4" cy="1307.1" r="1.75"/><circle cx="2932.8" cy="1308.9" r="1.75"/></g>
<path d="M2803.7 1198.5 l3 3 m0 -3 l-3 3 M2804.6 1203.6 l3 3 m0 -3 l-3 3 M2802.8 1208.2 l3 3 m0 -3 l-3 3 M2806.1 1225.2 l3 3 m0 -3 l-3 3 M2806.6 1228.3 l3 3 m0 -3 l-3 3 M2807.9 1231.9 l3 3 m0 -3 l-3 3 M2813.7 1262.4 l3 3 m0 -3 l-3 3 M2815.2 1269.4 l3 3 m0 -3 l-3 3 M2815.2 1272.5 l3 3 m0 -3 l-3 3 M2814.3 1274.0 l3 3 m0 -3 l-3 3 M2831.7 1285.3 l3 3 m0 -3 l-3 3 M2849.4 1303.2 l3 3 m0 -3 l-3 3 M2847.6 1318.4 l3 3 m0 -3 l-3 3 M2851.4 1323.7 l3 3 m0 -3 l-3 3 M2820.1 1325.1 l3 3 m0 -3 l-3 3 M2854.5 1327.5 l3 3 m0 -3 l-3 3 M2849.0 1330.1 l3 3 m0 -3 l-3 3 M2864.0 1319.1 l3 3 m0 -3 l-3 3 M2978.4 1209.1 l3 3 m0 -3 l-3 3 M2980.6 1210.5 l3 3 m0 -3 l-3 3 M2982.1 1212.7 l3 3 m0 -3 l-3 3 M2977.9 1215.5 l3 3 m0 -3 l-3 3 M2974.6 1220.0 l3 3 m0 -3 l-3 3 M2975.1 1222.4 l3 3 m0 -3 l-3 3 M2970.5 1226.4 l3 3 m0 -3 l-3 3 M2977.3 1228.6 l3 3 m0 -3 l-3 3 M2969.3 1229.6 l3 3 m0 -3 l-3 3 M2976.0 1231.4 l3 3 m0 -3 l-3 3 M2972.0 1243.8 l3 3 m0 -3 l-3 3 M2963.2 1248.9 l3 3 m0 -3 l-3 3 M2971.5 1247.1 l3 3 m0 -3 l-3 3 M2975.1 1247.1 l3 3 m0 -3 l-3 3 M2965.1 1252.0 l3 3 m0 -3 l-3 3 M2970.5 1250.2 l3 3 m0 -3 l-3 3 M2973.3 1249.7 l3 3 m0 -3 l-3 3 M2966.5 1259.3 l3 3 m0 -3 l-3 3 M2954.5 1265.2 l3 3 m0 -3 l-3 3 M2954.6 1270.9 l3 3 m0 -3 l-3 3 M2962.9 1269.0 l3 3 m0 -3 l-3 3 M2965.1 1269.9 l3 3 m0 -3 l-3 3 M2954.1 1280.4 l3 3 m0 -3 l-3 3 M2951.4 1283.1 l3 3 m0 -3 l-3 3 M2948.3 1284.4 l3 3 m0 -3 l-3 3 M2953.7 1286.8 l3 3 m0 -3 l-3 3 M2956.3 1288.0 l3 3 m0 -3 l-3 3 M2945.9 1288.6 l3 3 m0 -3 l-3 3 M2942.2 1292.6 l3 3 m0 -3 l-3 3 M2938.6 1298.3 l3 3 m0 -3 l-3 3 M2934.5 1299.5 l3 3 m0 -3 l-3 3 M2932.2 1301.9 l3 3 m0 -3 l-3 3 M2936.4 1302.8 l3 3 m0 -3 l-3 3" stroke="#dd8452" stroke-width="1.15" fill="none"/>
<rect x="2857.3" y="1196.3" width="70.6" height="32.8" rx="2" fill="#eaeaf2" fill-opacity="0.8" stroke="#d8d8de" stroke-width="0.8"/>
<circle cx="2871.5" cy="1205.0" r="1.55" fill="#4c72b0"/>
<path d="M2870.0 1218.5 l3 3 m0 -3 l-3 3" stroke="#dd8452" stroke-width="1" fill="none"/>
<text transform="translate(2889.8,1208) scale(1.0038,1)" font-family="'DejaVu Sans', sans-serif" font-size="9.8" fill="#333" >class 0</text>
<text transform="translate(2889.8,1223) scale(1.0038,1)" font-family="'DejaVu Sans', sans-serif" font-size="9.8" fill="#333" >class 1</text>
<text transform="translate(2260.6,1362.3) scale(1.0899,1)" font-family="'Liberation Serif', serif" font-size="12.7" text-anchor="middle" fill="#111" font-weight="bold" >(a) Random</text>
<text transform="translate(2472.3,1362.3) scale(1.0411,1)" font-family="'Liberation Serif', serif" font-size="12.7" text-anchor="middle" fill="#111" font-weight="bold" >(b) DCG</text>
<text transform="translate(2684,1362.3) scale(1.0877,1)" font-family="'Liberation Serif', serif" font-size="12.7" text-anchor="middle" fill="#111" font-weight="bold" >(c) <tspan font-style="italic">DosCond</tspan></text>
<text transform="translate(2894.8,1362.3) scale(1.1245,1)" font-family="'Liberation Serif', serif" font-size="12.7" text-anchor="middle" fill="#111" font-weight="bold" >(d) Whole Dataset</text>
</svg>
</body></html>
